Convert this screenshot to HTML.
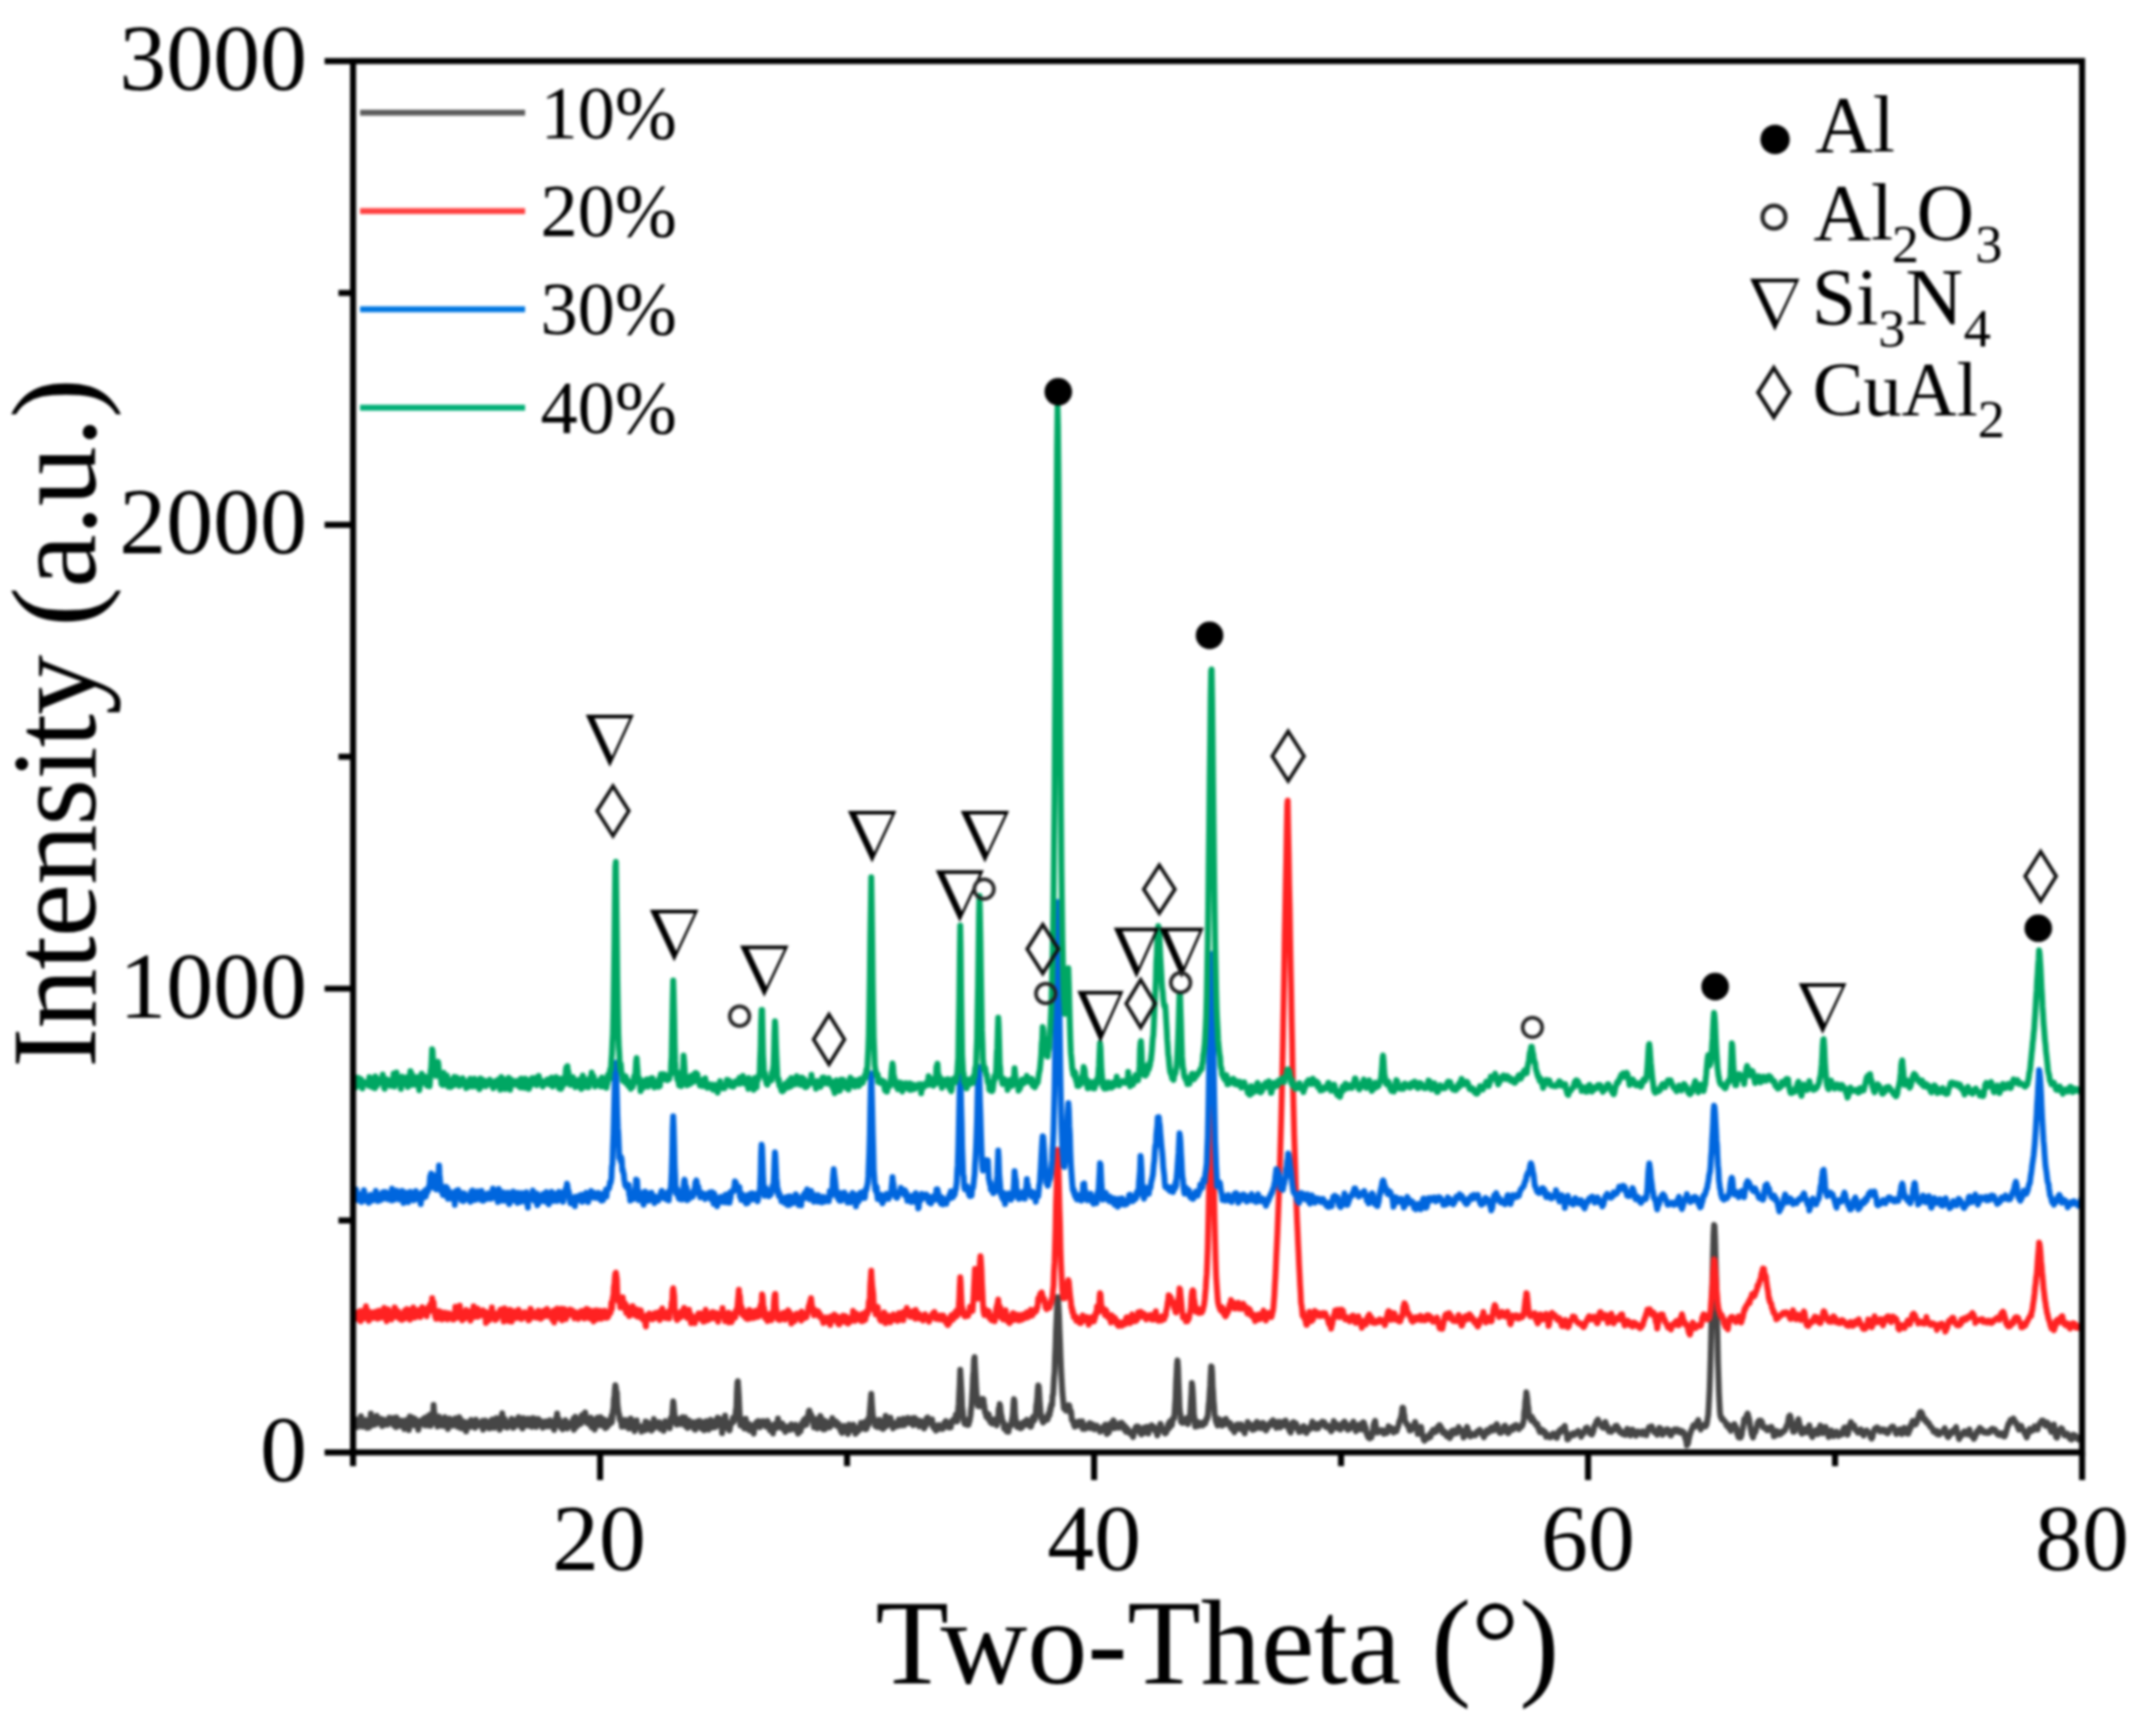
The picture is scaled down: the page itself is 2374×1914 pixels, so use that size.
<!DOCTYPE html>
<html lang="en"><head><meta charset="utf-8"><title>XRD patterns</title>
<style>html,body{margin:0;padding:0;background:#fff}body{width:2374px;height:1914px;overflow:hidden}svg{display:block;filter:blur(1.45px)}text{font-family:"Liberation Serif","DejaVu Serif",serif;fill:#000}.tk{font-size:103.5px}.ti{font-size:132.6px}.lg{font-size:82px}.ph{font-size:88px}.p4{font-size:84px}.sb{font-size:60px}</style></head><body>
<svg width="2374" height="1914" viewBox="0 0 2374 1914">
<rect x="0" y="0" width="2374" height="1914" fill="#fff"/>
<g id="curves">
<polyline fill="none" stroke="#464646" stroke-width="6.50" stroke-linejoin="round" stroke-linecap="butt" points="389.3,1573.9 389.8,1568.6 390.4,1566.3 390.9,1570.5 391.5,1572.5 392.0,1568.2 392.6,1566.5 393.1,1565.1 393.7,1572.6 394.2,1573.3 394.7,1567.7 395.3,1569.0 395.8,1565.5 396.4,1567.0 396.9,1570.1 397.5,1570.4 398.0,1561.6 398.6,1570.3 399.1,1571.8 399.6,1572.9 400.2,1569.2 400.7,1569.0 401.3,1570.5 401.8,1569.6 402.4,1568.5 402.9,1567.1 403.5,1565.7 404.0,1568.2 404.6,1574.2 405.1,1566.8 405.6,1573.4 406.2,1569.8 406.7,1574.0 407.3,1569.9 407.8,1571.8 408.4,1568.4 408.9,1558.6 409.5,1568.3 410.0,1565.2 410.5,1571.5 411.1,1568.5 411.6,1565.7 412.2,1568.0 412.7,1566.7 413.3,1567.6 413.8,1570.6 414.4,1565.5 414.9,1569.3 415.4,1560.9 416.0,1567.8 416.5,1564.2 417.1,1566.5 417.6,1563.9 418.2,1568.9 418.7,1564.2 419.3,1567.8 419.8,1564.2 420.3,1566.7 420.9,1568.8 421.4,1572.2 422.0,1568.1 422.5,1569.1 423.1,1565.1 423.6,1570.9 424.2,1567.6 424.7,1567.3 425.3,1567.5 425.8,1567.6 426.3,1567.4 426.9,1569.6 427.4,1570.7 428.0,1568.6 428.5,1565.5 429.1,1563.0 429.6,1564.8 430.2,1564.8 430.7,1565.9 431.2,1566.4 431.8,1568.1 432.3,1566.4 432.9,1563.5 433.4,1570.1 434.0,1571.3 434.5,1563.4 435.1,1568.8 435.6,1566.7 436.1,1567.2 436.7,1573.4 437.2,1562.7 437.8,1564.5 438.3,1569.2 438.9,1567.3 439.4,1569.0 440.0,1572.0 440.5,1569.7 441.0,1568.4 441.6,1566.4 442.1,1567.8 442.7,1570.0 443.2,1566.3 443.8,1572.6 444.3,1567.8 444.9,1566.8 445.4,1571.0 446.0,1575.5 446.5,1572.8 447.0,1569.4 447.6,1568.6 448.1,1565.6 448.7,1573.4 449.2,1570.4 449.8,1568.2 450.3,1570.3 450.9,1576.7 451.4,1566.7 451.9,1561.8 452.5,1565.8 453.0,1572.0 453.6,1570.9 454.1,1569.4 454.7,1562.9 455.2,1569.0 455.8,1570.3 456.3,1565.6 456.8,1570.4 457.4,1564.2 457.9,1571.7 458.5,1571.1 459.0,1567.8 459.6,1566.0 460.1,1568.6 460.7,1569.9 461.2,1576.5 461.7,1572.7 462.3,1571.9 462.8,1571.3 463.4,1567.4 463.9,1569.8 464.5,1566.0 465.0,1567.8 465.6,1568.7 466.1,1567.0 466.6,1565.8 467.2,1564.2 467.7,1568.4 468.3,1567.9 468.8,1571.5 469.4,1562.7 469.9,1563.3 470.5,1568.4 471.0,1569.2 471.6,1571.4 472.1,1567.1 472.6,1566.8 473.2,1560.5 473.7,1565.6 474.3,1567.9 474.8,1572.1 475.4,1559.3 475.9,1562.0 476.5,1566.5 477.0,1560.2 477.5,1565.0 478.1,1549.1 478.6,1556.5 479.2,1558.9 479.7,1562.2 480.3,1569.2 480.8,1564.2 481.4,1569.5 481.9,1563.8 482.4,1572.7 483.0,1569.3 483.5,1563.0 484.1,1561.9 484.6,1570.5 485.2,1571.6 485.7,1564.6 486.3,1564.9 486.8,1570.8 487.3,1570.2 487.9,1570.5 488.4,1572.2 489.0,1570.7 489.5,1564.9 490.1,1566.6 490.6,1562.4 491.2,1568.8 491.7,1569.4 492.3,1572.3 492.8,1570.0 493.3,1573.9 493.9,1575.5 494.4,1567.8 495.0,1564.9 495.5,1566.1 496.1,1564.0 496.6,1566.8 497.2,1569.3 497.7,1566.7 498.2,1568.0 498.8,1570.1 499.3,1571.8 499.9,1571.1 500.4,1566.8 501.0,1566.7 501.5,1569.1 502.1,1563.8 502.6,1568.0 503.1,1567.2 503.7,1564.7 504.2,1570.4 504.8,1573.3 505.3,1564.6 505.9,1568.4 506.4,1562.4 507.0,1565.8 507.5,1564.3 508.0,1565.5 508.6,1574.7 509.1,1566.6 509.7,1571.3 510.2,1571.9 510.8,1571.3 511.3,1568.0 511.9,1568.0 512.4,1567.8 513.0,1575.9 513.5,1572.7 514.0,1578.1 514.6,1571.2 515.1,1569.1 515.7,1573.2 516.2,1570.2 516.8,1570.2 517.3,1567.8 517.9,1573.3 518.4,1573.3 518.9,1573.1 519.5,1565.5 520.0,1567.4 520.6,1571.1 521.1,1570.0 521.7,1570.2 522.2,1569.9 522.8,1571.1 523.3,1571.4 523.8,1574.2 524.4,1572.3 524.9,1565.3 525.5,1568.5 526.0,1569.8 526.6,1570.5 527.1,1569.5 527.7,1568.6 528.2,1571.6 528.7,1569.0 529.3,1568.8 529.8,1571.8 530.4,1571.9 530.9,1572.4 531.5,1572.5 532.0,1566.5 532.6,1576.3 533.1,1569.9 533.6,1571.0 534.2,1571.1 534.7,1569.1 535.3,1566.1 535.8,1569.5 536.4,1570.4 536.9,1572.1 537.5,1571.0 538.0,1568.1 538.6,1572.3 539.1,1574.8 539.6,1574.8 540.2,1574.0 540.7,1574.5 541.3,1566.6 541.8,1568.5 542.4,1570.1 542.9,1565.0 543.5,1571.5 544.0,1567.2 544.5,1567.1 545.1,1574.3 545.6,1573.8 546.2,1571.3 546.7,1565.2 547.3,1563.5 547.8,1570.6 548.4,1563.8 548.9,1568.9 549.4,1569.7 550.0,1570.9 550.5,1571.0 551.1,1576.3 551.6,1572.9 552.2,1572.8 552.7,1566.6 553.3,1560.9 553.8,1558.1 554.3,1567.4 554.9,1572.6 555.4,1569.6 556.0,1572.2 556.5,1564.3 557.1,1569.6 557.6,1573.0 558.2,1567.4 558.7,1568.0 559.3,1574.0 559.8,1570.1 560.3,1568.9 560.9,1568.1 561.4,1567.8 562.0,1569.2 562.5,1567.6 563.1,1570.0 563.6,1571.3 564.2,1564.3 564.7,1568.0 565.2,1568.0 565.8,1574.3 566.3,1570.0 566.9,1566.9 567.4,1573.1 568.0,1565.8 568.5,1570.2 569.1,1567.8 569.6,1569.0 570.1,1567.5 570.7,1564.2 571.2,1568.8 571.8,1562.5 572.3,1569.8 572.9,1570.9 573.4,1566.5 574.0,1572.5 574.5,1570.9 575.0,1567.6 575.6,1566.4 576.1,1575.0 576.7,1567.9 577.2,1563.4 577.8,1565.2 578.3,1569.2 578.9,1570.2 579.4,1569.2 580.0,1571.6 580.5,1568.9 581.0,1568.6 581.6,1568.3 582.1,1564.2 582.7,1568.4 583.2,1571.9 583.8,1564.4 584.3,1571.0 584.9,1569.7 585.4,1569.4 585.9,1570.6 586.5,1573.1 587.0,1571.4 587.6,1563.5 588.1,1571.1 588.7,1569.0 589.2,1564.5 589.8,1564.8 590.3,1564.5 590.8,1564.5 591.4,1573.2 591.9,1570.3 592.5,1567.7 593.0,1567.1 593.6,1564.5 594.1,1566.8 594.7,1568.8 595.2,1567.9 595.7,1568.6 596.3,1567.6 596.8,1567.2 597.4,1571.0 597.9,1573.2 598.5,1574.1 599.0,1569.1 599.6,1567.9 600.1,1568.1 600.6,1567.9 601.2,1567.4 601.7,1569.2 602.3,1567.1 602.8,1572.5 603.4,1570.3 603.9,1572.2 604.5,1568.2 605.0,1572.4 605.6,1570.7 606.1,1569.0 606.6,1565.9 607.2,1572.0 607.7,1572.1 608.3,1567.0 608.8,1573.0 609.4,1568.8 609.9,1572.2 610.5,1571.1 611.0,1576.5 611.5,1568.6 612.1,1571.8 612.6,1572.5 613.2,1563.3 613.7,1566.8 614.3,1558.5 614.8,1567.7 615.4,1570.1 615.9,1569.0 616.4,1564.8 617.0,1569.8 617.5,1568.9 618.1,1569.2 618.6,1574.0 619.2,1571.5 619.7,1573.9 620.3,1575.8 620.8,1568.4 621.3,1567.9 621.9,1568.4 622.4,1570.1 623.0,1572.1 623.5,1565.7 624.1,1568.2 624.6,1573.7 625.2,1569.8 625.7,1574.9 626.3,1570.7 626.8,1569.9 627.3,1568.9 627.9,1568.9 628.4,1568.7 629.0,1572.2 629.5,1570.1 630.1,1570.6 630.6,1569.8 631.2,1568.4 631.7,1567.4 632.2,1564.3 632.8,1576.4 633.3,1567.6 633.9,1569.3 634.4,1562.0 635.0,1565.8 635.5,1573.2 636.1,1567.1 636.6,1569.6 637.1,1565.1 637.7,1570.9 638.2,1567.8 638.8,1567.2 639.3,1566.5 639.9,1567.1 640.4,1569.9 641.0,1562.4 641.5,1560.3 642.0,1562.8 642.6,1565.0 643.1,1561.1 643.7,1559.6 644.2,1561.5 644.8,1561.1 645.3,1557.3 645.9,1565.0 646.4,1563.9 646.9,1568.3 647.5,1566.1 648.0,1567.5 648.6,1569.5 649.1,1570.0 649.7,1564.2 650.2,1570.5 650.8,1570.0 651.3,1563.1 651.9,1569.2 652.4,1573.6 652.9,1567.0 653.5,1571.7 654.0,1565.1 654.6,1574.0 655.1,1572.8 655.7,1576.3 656.2,1571.2 656.8,1573.1 657.3,1569.2 657.8,1568.9 658.4,1568.5 658.9,1562.9 659.5,1563.6 660.0,1566.7 660.6,1570.2 661.1,1571.3 661.7,1568.2 662.2,1562.5 662.7,1570.5 663.3,1571.3 663.8,1570.9 664.4,1571.8 664.9,1571.3 665.5,1569.4 666.0,1565.1 666.6,1569.5 667.1,1571.2 667.6,1574.6 668.2,1569.5 668.7,1570.0 669.3,1573.3 669.8,1572.7 670.4,1569.5 670.9,1566.3 671.5,1567.4 672.0,1568.5 672.6,1569.9 673.1,1567.8 673.6,1568.3 674.2,1560.9 674.7,1568.1 675.3,1563.2 675.8,1554.9 676.4,1554.0 676.9,1542.4 677.5,1539.8 678.0,1531.9 678.5,1527.3 679.1,1530.0 679.6,1535.9 680.2,1535.1 680.7,1546.7 681.3,1552.6 681.8,1555.8 682.4,1559.4 682.9,1559.7 683.4,1565.2 684.0,1566.5 684.5,1564.4 685.1,1569.2 685.6,1572.9 686.2,1570.4 686.7,1571.3 687.3,1568.1 687.8,1571.8 688.3,1572.7 688.9,1570.7 689.4,1565.6 690.0,1570.3 690.5,1569.8 691.1,1570.4 691.6,1569.7 692.2,1568.0 692.7,1566.6 693.3,1575.0 693.8,1566.6 694.3,1570.4 694.9,1571.2 695.4,1563.9 696.0,1571.3 696.5,1565.7 697.1,1568.8 697.6,1574.8 698.2,1570.7 698.7,1569.8 699.2,1572.1 699.8,1578.0 700.3,1572.2 700.9,1571.5 701.4,1574.0 702.0,1565.9 702.5,1571.6 703.1,1572.0 703.6,1571.7 704.1,1573.4 704.7,1574.1 705.2,1572.4 705.8,1572.5 706.3,1575.5 706.9,1575.1 707.4,1578.4 708.0,1572.7 708.5,1575.9 709.0,1572.9 709.6,1575.7 710.1,1574.6 710.7,1572.9 711.2,1577.1 711.8,1567.3 712.3,1574.5 712.9,1574.9 713.4,1576.0 713.9,1568.8 714.5,1568.6 715.0,1570.8 715.6,1574.7 716.1,1572.3 716.7,1570.0 717.2,1573.9 717.8,1576.5 718.3,1577.3 718.9,1576.9 719.4,1574.1 719.9,1575.3 720.5,1572.8 721.0,1564.6 721.6,1566.7 722.1,1574.1 722.7,1570.3 723.2,1571.0 723.8,1571.7 724.3,1568.5 724.8,1572.3 725.4,1572.3 725.9,1572.4 726.5,1571.7 727.0,1568.0 727.6,1569.4 728.1,1575.5 728.7,1573.7 729.2,1575.3 729.7,1571.5 730.3,1573.7 730.8,1572.5 731.4,1573.9 731.9,1577.6 732.5,1569.8 733.0,1569.0 733.6,1566.8 734.1,1571.2 734.6,1567.8 735.2,1570.3 735.7,1570.7 736.3,1568.2 736.8,1568.7 737.4,1571.5 737.9,1573.2 738.5,1574.7 739.0,1568.9 739.6,1563.4 740.1,1565.1 740.6,1568.6 741.2,1560.9 741.7,1552.5 742.3,1545.0 742.8,1548.5 743.4,1556.0 743.9,1561.2 744.5,1567.9 745.0,1568.2 745.5,1569.0 746.1,1570.6 746.6,1568.3 747.2,1569.4 747.7,1567.3 748.3,1564.4 748.8,1566.3 749.4,1566.3 749.9,1567.4 750.4,1570.3 751.0,1566.1 751.5,1563.9 752.1,1568.1 752.6,1562.5 753.2,1567.2 753.7,1565.7 754.3,1567.9 754.8,1570.5 755.3,1562.7 755.9,1572.4 756.4,1567.8 757.0,1572.6 757.5,1571.3 758.1,1574.4 758.6,1573.0 759.2,1569.1 759.7,1566.0 760.3,1573.2 760.8,1570.8 761.3,1568.1 761.9,1572.2 762.4,1568.5 763.0,1572.4 763.5,1568.7 764.1,1569.4 764.6,1568.1 765.2,1570.9 765.7,1575.6 766.2,1571.2 766.8,1576.3 767.3,1570.8 767.9,1568.2 768.4,1570.0 769.0,1572.3 769.5,1567.0 770.1,1569.4 770.6,1573.3 771.1,1571.0 771.7,1566.4 772.2,1571.1 772.8,1570.1 773.3,1571.5 773.9,1575.3 774.4,1572.4 775.0,1570.4 775.5,1571.0 776.0,1572.0 776.6,1576.9 777.1,1567.8 777.7,1568.9 778.2,1567.8 778.8,1566.8 779.3,1571.7 779.9,1572.5 780.4,1570.4 780.9,1567.1 781.5,1576.2 782.0,1572.1 782.6,1572.6 783.1,1568.5 783.7,1565.4 784.2,1569.3 784.8,1571.1 785.3,1568.4 785.9,1570.0 786.4,1573.9 786.9,1568.2 787.5,1572.5 788.0,1569.2 788.6,1573.6 789.1,1566.5 789.7,1572.3 790.2,1565.0 790.8,1571.7 791.3,1562.9 791.8,1567.1 792.4,1569.7 792.9,1565.9 793.5,1564.0 794.0,1568.1 794.6,1568.4 795.1,1568.1 795.7,1570.9 796.2,1580.1 796.7,1574.8 797.3,1571.3 797.8,1570.3 798.4,1567.2 798.9,1570.4 799.5,1560.7 800.0,1565.2 800.6,1567.8 801.1,1567.0 801.6,1568.6 802.2,1572.1 802.7,1575.3 803.3,1570.5 803.8,1571.6 804.4,1577.2 804.9,1574.6 805.5,1570.1 806.0,1570.4 806.6,1569.3 807.1,1567.5 807.6,1568.0 808.2,1563.3 808.7,1567.8 809.3,1567.1 809.8,1564.7 810.4,1562.5 810.9,1560.3 811.5,1554.2 812.0,1551.3 812.5,1535.2 813.1,1524.1 813.6,1522.8 814.2,1531.7 814.7,1539.4 815.3,1553.3 815.8,1563.0 816.4,1571.6 816.9,1569.3 817.4,1570.5 818.0,1569.4 818.5,1564.4 819.1,1568.9 819.6,1570.4 820.2,1574.0 820.7,1574.9 821.3,1572.5 821.8,1573.2 822.3,1564.3 822.9,1573.0 823.4,1573.5 824.0,1569.2 824.5,1572.2 825.1,1575.9 825.6,1569.8 826.2,1574.2 826.7,1577.1 827.3,1572.9 827.8,1572.5 828.3,1574.7 828.9,1572.0 829.4,1571.7 830.0,1576.1 830.5,1579.4 831.1,1580.6 831.6,1575.2 832.2,1572.0 832.7,1572.9 833.2,1570.7 833.8,1568.3 834.3,1571.6 834.9,1567.7 835.4,1572.9 836.0,1566.8 836.5,1568.1 837.1,1569.9 837.6,1571.3 838.1,1573.6 838.7,1571.0 839.2,1567.3 839.8,1570.6 840.3,1567.6 840.9,1569.9 841.4,1566.9 842.0,1570.0 842.5,1567.1 843.0,1569.1 843.6,1568.3 844.1,1571.1 844.7,1573.0 845.2,1571.0 845.8,1567.7 846.3,1566.5 846.9,1571.6 847.4,1569.0 847.9,1569.6 848.5,1571.3 849.0,1577.0 849.6,1573.0 850.1,1577.0 850.7,1572.3 851.2,1572.9 851.8,1572.9 852.3,1580.4 852.9,1572.0 853.4,1571.3 853.9,1575.9 854.5,1570.0 855.0,1571.9 855.6,1572.4 856.1,1573.5 856.7,1574.1 857.2,1572.7 857.8,1564.0 858.3,1571.2 858.8,1571.1 859.4,1573.2 859.9,1573.1 860.5,1572.9 861.0,1573.7 861.6,1569.3 862.1,1572.2 862.7,1569.4 863.2,1575.3 863.7,1571.0 864.3,1574.4 864.8,1573.7 865.4,1576.6 865.9,1578.8 866.5,1573.1 867.0,1576.6 867.6,1575.3 868.1,1576.4 868.6,1573.0 869.2,1574.4 869.7,1572.7 870.3,1572.4 870.8,1574.8 871.4,1576.4 871.9,1571.7 872.5,1570.5 873.0,1571.1 873.6,1575.6 874.1,1571.4 874.6,1572.0 875.2,1572.2 875.7,1571.9 876.3,1573.8 876.8,1572.6 877.4,1570.9 877.9,1574.8 878.5,1577.8 879.0,1575.2 879.5,1575.0 880.1,1580.6 880.6,1578.2 881.2,1574.7 881.7,1576.1 882.3,1575.1 882.8,1578.0 883.4,1572.2 883.9,1569.3 884.4,1572.8 885.0,1572.8 885.5,1572.5 886.1,1566.1 886.6,1566.5 887.2,1569.0 887.7,1564.3 888.3,1565.3 888.8,1565.5 889.3,1570.8 889.9,1565.6 890.4,1562.0 891.0,1564.7 891.5,1557.8 892.1,1555.2 892.6,1555.3 893.2,1560.4 893.7,1561.7 894.3,1559.3 894.8,1560.8 895.3,1562.0 895.9,1563.5 896.4,1567.8 897.0,1569.4 897.5,1573.6 898.1,1567.7 898.6,1564.4 899.2,1571.6 899.7,1572.0 900.2,1569.6 900.8,1570.5 901.3,1574.9 901.9,1572.9 902.4,1572.7 903.0,1564.0 903.5,1569.5 904.1,1564.7 904.6,1561.1 905.1,1562.6 905.7,1565.3 906.2,1566.4 906.8,1574.9 907.3,1574.5 907.9,1575.9 908.4,1574.1 909.0,1566.3 909.5,1575.8 910.0,1569.5 910.6,1572.9 911.1,1567.5 911.7,1568.3 912.2,1573.4 912.8,1567.9 913.3,1573.3 913.9,1570.4 914.4,1572.2 914.9,1573.7 915.5,1572.8 916.0,1571.7 916.6,1569.5 917.1,1569.8 917.7,1563.5 918.2,1568.6 918.8,1568.2 919.3,1567.8 919.9,1567.9 920.4,1570.5 920.9,1570.4 921.5,1567.0 922.0,1570.1 922.6,1571.8 923.1,1570.6 923.7,1569.0 924.2,1570.2 924.8,1569.9 925.3,1573.2 925.8,1573.3 926.4,1575.9 926.9,1575.7 927.5,1578.7 928.0,1579.0 928.6,1579.9 929.1,1578.9 929.7,1577.9 930.2,1577.3 930.7,1571.9 931.3,1574.8 931.8,1575.8 932.4,1573.0 932.9,1576.0 933.5,1576.0 934.0,1573.3 934.6,1577.5 935.1,1581.0 935.6,1572.6 936.2,1570.7 936.7,1576.8 937.3,1574.8 937.8,1571.1 938.4,1577.0 938.9,1574.3 939.5,1575.0 940.0,1572.6 940.6,1576.7 941.1,1570.7 941.6,1573.8 942.2,1573.6 942.7,1575.8 943.3,1580.8 943.8,1576.7 944.4,1579.6 944.9,1576.5 945.5,1578.6 946.0,1577.3 946.5,1577.0 947.1,1573.8 947.6,1573.0 948.2,1576.3 948.7,1573.1 949.3,1568.8 949.8,1570.8 950.4,1574.0 950.9,1573.0 951.4,1573.8 952.0,1571.2 952.5,1573.6 953.1,1572.4 953.6,1567.8 954.2,1575.7 954.7,1574.3 955.3,1575.5 955.8,1574.4 956.3,1567.9 956.9,1568.2 957.4,1563.9 958.0,1570.5 958.5,1565.2 959.1,1555.5 959.6,1549.8 960.2,1542.2 960.7,1536.8 961.2,1544.8 961.8,1553.1 962.3,1559.8 962.9,1562.3 963.4,1567.0 964.0,1567.1 964.5,1565.2 965.1,1572.2 965.6,1572.3 966.2,1570.1 966.7,1572.8 967.2,1573.2 967.8,1568.2 968.3,1571.6 968.9,1573.1 969.4,1569.1 970.0,1565.4 970.5,1573.2 971.1,1573.0 971.6,1572.1 972.1,1574.7 972.7,1569.1 973.2,1573.7 973.8,1575.5 974.3,1571.8 974.9,1573.2 975.4,1571.1 976.0,1567.8 976.5,1561.0 977.0,1572.7 977.6,1567.8 978.1,1566.8 978.7,1569.2 979.2,1567.6 979.8,1570.8 980.3,1570.2 980.9,1569.5 981.4,1569.9 981.9,1562.9 982.5,1568.1 983.0,1566.8 983.6,1568.8 984.1,1570.5 984.7,1574.9 985.2,1571.8 985.8,1571.2 986.3,1571.0 986.9,1569.4 987.4,1571.5 987.9,1572.4 988.5,1570.1 989.0,1568.6 989.6,1571.5 990.1,1572.2 990.7,1570.4 991.2,1565.1 991.8,1565.2 992.3,1570.0 992.8,1568.3 993.4,1567.2 993.9,1566.7 994.5,1571.6 995.0,1570.6 995.6,1566.7 996.1,1564.1 996.7,1565.7 997.2,1571.3 997.7,1567.4 998.3,1568.8 998.8,1568.0 999.4,1569.2 999.9,1568.6 1000.5,1567.5 1001.0,1563.2 1001.6,1565.6 1002.1,1566.2 1002.6,1567.1 1003.2,1569.0 1003.7,1568.0 1004.3,1565.0 1004.8,1566.2 1005.4,1563.8 1005.9,1567.7 1006.5,1568.2 1007.0,1571.4 1007.6,1566.5 1008.1,1570.8 1008.6,1563.2 1009.2,1567.5 1009.7,1566.0 1010.3,1569.4 1010.8,1568.1 1011.4,1569.7 1011.9,1565.8 1012.5,1568.6 1013.0,1571.4 1013.5,1572.7 1014.1,1568.3 1014.6,1569.0 1015.2,1570.2 1015.7,1566.7 1016.3,1569.4 1016.8,1569.6 1017.4,1571.9 1017.9,1572.7 1018.4,1573.2 1019.0,1575.0 1019.5,1569.2 1020.1,1568.7 1020.6,1572.3 1021.2,1567.1 1021.7,1563.9 1022.3,1565.5 1022.8,1562.7 1023.3,1565.7 1023.9,1564.8 1024.4,1567.4 1025.0,1566.8 1025.5,1569.1 1026.1,1567.4 1026.6,1565.3 1027.2,1565.1 1027.7,1564.8 1028.2,1568.9 1028.8,1573.1 1029.3,1571.8 1029.9,1574.7 1030.4,1572.2 1031.0,1571.4 1031.5,1573.1 1032.1,1577.3 1032.6,1575.5 1033.2,1573.4 1033.7,1575.1 1034.2,1572.2 1034.8,1571.7 1035.3,1571.2 1035.9,1572.4 1036.4,1574.7 1037.0,1575.4 1037.5,1574.6 1038.1,1572.2 1038.6,1572.4 1039.1,1574.5 1039.7,1575.4 1040.2,1573.2 1040.8,1571.4 1041.3,1568.8 1041.9,1568.2 1042.4,1571.7 1043.0,1566.8 1043.5,1568.3 1044.0,1570.5 1044.6,1568.6 1045.1,1569.4 1045.7,1570.3 1046.2,1573.8 1046.8,1569.9 1047.3,1569.0 1047.9,1570.3 1048.4,1573.7 1048.9,1568.3 1049.5,1566.8 1050.0,1567.0 1050.6,1565.6 1051.1,1566.3 1051.7,1566.8 1052.2,1564.9 1052.8,1567.2 1053.3,1566.4 1053.9,1559.8 1054.4,1565.1 1054.9,1565.3 1055.5,1567.2 1056.0,1560.2 1056.6,1553.1 1057.1,1547.5 1057.7,1534.6 1058.2,1525.9 1058.8,1510.2 1059.3,1518.5 1059.8,1527.4 1060.4,1537.7 1060.9,1551.0 1061.5,1555.5 1062.0,1561.5 1062.6,1565.4 1063.1,1567.6 1063.7,1569.9 1064.2,1565.7 1064.7,1566.6 1065.3,1570.4 1065.8,1566.1 1066.4,1568.8 1066.9,1571.0 1067.5,1565.6 1068.0,1571.0 1068.6,1565.6 1069.1,1567.1 1069.6,1563.6 1070.2,1560.6 1070.7,1554.3 1071.3,1549.4 1071.8,1540.5 1072.4,1530.9 1072.9,1518.7 1073.5,1511.2 1074.0,1499.3 1074.6,1496.2 1075.1,1507.0 1075.6,1515.8 1076.2,1527.6 1076.7,1535.6 1077.3,1541.0 1077.8,1546.7 1078.4,1550.3 1078.9,1549.5 1079.5,1549.1 1080.0,1548.2 1080.5,1546.4 1081.1,1550.5 1081.6,1542.5 1082.2,1544.6 1082.7,1544.8 1083.3,1543.1 1083.8,1542.3 1084.4,1542.8 1084.9,1548.1 1085.4,1549.9 1086.0,1556.6 1086.5,1555.9 1087.1,1559.5 1087.6,1562.0 1088.2,1559.9 1088.7,1558.5 1089.3,1560.4 1089.8,1564.3 1090.3,1559.4 1090.9,1564.7 1091.4,1565.5 1092.0,1568.0 1092.5,1567.1 1093.1,1568.1 1093.6,1569.4 1094.2,1569.6 1094.7,1568.9 1095.2,1568.7 1095.8,1565.0 1096.3,1567.1 1096.9,1567.2 1097.4,1568.1 1098.0,1569.8 1098.5,1569.0 1099.1,1571.5 1099.6,1566.2 1100.2,1563.0 1100.7,1561.1 1101.2,1553.1 1101.8,1553.9 1102.3,1548.0 1102.9,1550.3 1103.4,1556.3 1104.0,1560.0 1104.5,1561.6 1105.1,1566.5 1105.6,1568.2 1106.1,1567.2 1106.7,1570.5 1107.2,1575.0 1107.8,1573.5 1108.3,1570.7 1108.9,1573.4 1109.4,1576.0 1110.0,1578.3 1110.5,1574.1 1111.0,1572.0 1111.6,1577.4 1112.1,1578.5 1112.7,1572.3 1113.2,1573.5 1113.8,1572.1 1114.3,1571.2 1114.9,1571.7 1115.4,1567.9 1115.9,1564.8 1116.5,1561.9 1117.0,1557.2 1117.6,1546.1 1118.1,1542.6 1118.7,1545.8 1119.2,1558.3 1119.8,1563.8 1120.3,1569.8 1120.9,1570.4 1121.4,1573.2 1121.9,1572.0 1122.5,1573.4 1123.0,1569.7 1123.6,1569.6 1124.1,1569.5 1124.7,1572.8 1125.2,1574.8 1125.8,1572.8 1126.3,1573.4 1126.8,1574.0 1127.4,1570.7 1127.9,1569.4 1128.5,1569.9 1129.0,1567.9 1129.6,1568.7 1130.1,1571.0 1130.7,1569.7 1131.2,1568.8 1131.7,1566.3 1132.3,1565.5 1132.8,1567.8 1133.4,1566.8 1133.9,1571.2 1134.5,1570.6 1135.0,1568.2 1135.6,1570.3 1136.1,1568.2 1136.6,1573.1 1137.2,1571.7 1137.7,1569.1 1138.3,1564.2 1138.8,1562.6 1139.4,1566.6 1139.9,1566.7 1140.5,1566.0 1141.0,1564.6 1141.6,1559.9 1142.1,1558.8 1142.6,1550.1 1143.2,1546.2 1143.7,1541.4 1144.3,1532.0 1144.8,1527.4 1145.4,1528.6 1145.9,1535.9 1146.5,1546.9 1147.0,1552.1 1147.5,1558.4 1148.1,1563.2 1148.6,1564.7 1149.2,1565.0 1149.7,1567.5 1150.3,1568.4 1150.8,1564.1 1151.4,1565.8 1151.9,1566.2 1152.4,1563.2 1153.0,1566.0 1153.5,1562.5 1154.1,1565.0 1154.6,1562.8 1155.2,1565.0 1155.7,1562.3 1156.3,1558.3 1156.8,1559.5 1157.3,1560.3 1157.9,1552.9 1158.4,1555.4 1159.0,1548.7 1159.5,1550.0 1160.1,1549.0 1160.6,1538.7 1161.2,1537.9 1161.7,1528.8 1162.2,1519.5 1162.8,1512.8 1163.3,1497.1 1163.9,1484.2 1164.4,1467.4 1165.0,1454.7 1165.5,1443.9 1166.1,1430.2 1166.6,1430.2 1167.2,1440.8 1167.7,1450.3 1168.2,1465.0 1168.8,1479.7 1169.3,1493.9 1169.9,1507.9 1170.4,1517.6 1171.0,1528.2 1171.5,1536.1 1172.1,1541.9 1172.6,1547.2 1173.1,1552.6 1173.7,1550.4 1174.2,1550.2 1174.8,1554.1 1175.3,1555.3 1175.9,1554.5 1176.4,1551.2 1177.0,1551.4 1177.5,1552.2 1178.0,1549.2 1178.6,1549.4 1179.1,1549.9 1179.7,1554.1 1180.2,1557.4 1180.8,1555.6 1181.3,1558.7 1181.9,1565.7 1182.4,1566.2 1182.9,1566.3 1183.5,1567.4 1184.0,1570.6 1184.6,1567.4 1185.1,1572.9 1185.7,1569.4 1186.2,1570.0 1186.8,1571.3 1187.3,1571.2 1187.9,1569.1 1188.4,1568.2 1188.9,1571.6 1189.5,1569.9 1190.0,1567.1 1190.6,1568.7 1191.1,1569.8 1191.7,1571.3 1192.2,1571.3 1192.8,1572.5 1193.3,1567.0 1193.8,1575.4 1194.4,1571.2 1194.9,1574.1 1195.5,1574.9 1196.0,1574.6 1196.6,1575.4 1197.1,1571.5 1197.7,1573.3 1198.2,1574.2 1198.7,1573.4 1199.3,1571.9 1199.8,1573.6 1200.4,1571.4 1200.9,1571.3 1201.5,1569.0 1202.0,1569.6 1202.6,1574.6 1203.1,1571.9 1203.6,1570.0 1204.2,1574.3 1204.7,1574.5 1205.3,1570.8 1205.8,1573.2 1206.4,1574.1 1206.9,1575.8 1207.5,1573.3 1208.0,1574.6 1208.6,1573.0 1209.1,1572.6 1209.6,1572.0 1210.2,1573.8 1210.7,1575.1 1211.3,1575.0 1211.8,1576.1 1212.4,1576.4 1212.9,1578.4 1213.5,1578.0 1214.0,1578.2 1214.5,1577.8 1215.1,1576.1 1215.6,1573.9 1216.2,1576.7 1216.7,1573.8 1217.3,1573.4 1217.8,1572.9 1218.4,1571.1 1218.9,1572.5 1219.4,1570.7 1220.0,1572.7 1220.5,1581.0 1221.1,1575.5 1221.6,1576.5 1222.2,1575.6 1222.7,1579.5 1223.3,1575.9 1223.8,1574.0 1224.3,1574.8 1224.9,1569.3 1225.4,1569.8 1226.0,1571.9 1226.5,1572.5 1227.1,1571.0 1227.6,1565.9 1228.2,1566.4 1228.7,1574.8 1229.2,1573.8 1229.8,1569.6 1230.3,1571.2 1230.9,1572.5 1231.4,1570.5 1232.0,1571.6 1232.5,1571.5 1233.1,1571.7 1233.6,1574.2 1234.2,1569.9 1234.7,1572.5 1235.2,1569.1 1235.8,1569.2 1236.3,1569.7 1236.9,1568.8 1237.4,1569.2 1238.0,1573.3 1238.5,1571.6 1239.1,1571.2 1239.6,1575.8 1240.1,1576.5 1240.7,1572.6 1241.2,1573.7 1241.8,1578.5 1242.3,1575.4 1242.9,1576.8 1243.4,1575.4 1244.0,1578.1 1244.5,1578.3 1245.0,1579.6 1245.6,1578.4 1246.1,1579.4 1246.7,1580.7 1247.2,1580.6 1247.8,1581.9 1248.3,1580.1 1248.9,1583.7 1249.4,1584.4 1249.9,1582.2 1250.5,1577.4 1251.0,1578.9 1251.6,1575.5 1252.1,1573.9 1252.7,1575.6 1253.2,1572.8 1253.8,1572.7 1254.3,1573.2 1254.9,1573.9 1255.4,1573.3 1255.9,1577.1 1256.5,1577.0 1257.0,1579.2 1257.6,1579.0 1258.1,1580.9 1258.7,1581.4 1259.2,1577.6 1259.8,1575.8 1260.3,1576.5 1260.8,1576.6 1261.4,1574.1 1261.9,1579.7 1262.5,1577.0 1263.0,1575.5 1263.6,1573.6 1264.1,1578.9 1264.7,1574.7 1265.2,1573.0 1265.7,1573.5 1266.3,1580.5 1266.8,1574.2 1267.4,1575.4 1267.9,1573.6 1268.5,1575.3 1269.0,1575.7 1269.6,1574.8 1270.1,1571.4 1270.6,1572.7 1271.2,1574.9 1271.7,1573.9 1272.3,1573.3 1272.8,1574.0 1273.4,1575.7 1273.9,1577.6 1274.5,1578.6 1275.0,1579.0 1275.6,1580.0 1276.1,1582.6 1276.6,1580.9 1277.2,1575.6 1277.7,1577.6 1278.3,1576.5 1278.8,1572.8 1279.4,1569.7 1279.9,1570.3 1280.5,1573.6 1281.0,1575.1 1281.5,1574.6 1282.1,1575.8 1282.6,1576.3 1283.2,1575.6 1283.7,1579.5 1284.3,1580.2 1284.8,1580.5 1285.4,1579.9 1285.9,1579.5 1286.4,1577.8 1287.0,1576.7 1287.5,1574.2 1288.1,1570.2 1288.6,1570.8 1289.2,1574.8 1289.7,1567.5 1290.3,1567.6 1290.8,1567.8 1291.3,1566.4 1291.9,1571.7 1292.4,1569.7 1293.0,1565.1 1293.5,1563.4 1294.1,1562.9 1294.6,1564.0 1295.2,1557.4 1295.7,1548.7 1296.2,1542.0 1296.8,1524.0 1297.3,1515.4 1297.9,1503.1 1298.4,1499.9 1299.0,1508.2 1299.5,1523.7 1300.1,1537.3 1300.6,1551.7 1301.2,1557.6 1301.7,1559.6 1302.2,1567.6 1302.8,1566.6 1303.3,1567.1 1303.9,1568.8 1304.4,1568.2 1305.0,1565.0 1305.5,1564.9 1306.1,1565.1 1306.6,1565.9 1307.1,1568.4 1307.7,1566.4 1308.2,1563.5 1308.8,1564.7 1309.3,1568.8 1309.9,1570.1 1310.4,1567.7 1311.0,1565.8 1311.5,1565.8 1312.0,1562.8 1312.6,1555.8 1313.1,1546.1 1313.7,1536.4 1314.2,1524.8 1314.8,1529.0 1315.3,1535.7 1315.9,1547.2 1316.4,1559.8 1316.9,1561.6 1317.5,1570.5 1318.0,1573.0 1318.6,1566.4 1319.1,1568.8 1319.7,1570.2 1320.2,1568.4 1320.8,1568.5 1321.3,1572.3 1321.9,1569.8 1322.4,1568.4 1322.9,1571.0 1323.5,1570.6 1324.0,1571.3 1324.6,1569.2 1325.1,1571.1 1325.7,1570.9 1326.2,1571.5 1326.8,1570.6 1327.3,1568.3 1327.8,1567.7 1328.4,1568.9 1328.9,1569.6 1329.5,1566.9 1330.0,1566.3 1330.6,1563.2 1331.1,1564.2 1331.7,1561.4 1332.2,1556.0 1332.7,1548.9 1333.3,1544.5 1333.8,1535.9 1334.4,1527.5 1334.9,1516.7 1335.5,1506.6 1336.0,1506.8 1336.6,1514.2 1337.1,1528.5 1337.6,1534.3 1338.2,1545.8 1338.7,1549.9 1339.3,1560.3 1339.8,1561.3 1340.4,1566.1 1340.9,1565.4 1341.5,1569.6 1342.0,1569.8 1342.6,1571.7 1343.1,1566.8 1343.6,1569.6 1344.2,1564.6 1344.7,1567.2 1345.3,1567.9 1345.8,1565.9 1346.4,1568.9 1346.9,1569.2 1347.5,1571.9 1348.0,1570.8 1348.5,1569.1 1349.1,1569.5 1349.6,1566.9 1350.2,1570.5 1350.7,1564.9 1351.3,1567.1 1351.8,1564.3 1352.4,1567.6 1352.9,1568.6 1353.4,1568.7 1354.0,1567.9 1354.5,1568.0 1355.1,1570.2 1355.6,1571.3 1356.2,1569.7 1356.7,1569.3 1357.3,1574.4 1357.8,1574.7 1358.3,1575.5 1358.9,1573.0 1359.4,1575.1 1360.0,1577.1 1360.5,1577.1 1361.1,1579.2 1361.6,1574.9 1362.2,1576.7 1362.7,1576.4 1363.2,1571.2 1363.8,1575.8 1364.3,1570.5 1364.9,1571.6 1365.4,1572.8 1366.0,1570.5 1366.5,1572.7 1367.1,1571.8 1367.6,1573.9 1368.2,1575.7 1368.7,1570.5 1369.2,1576.1 1369.8,1573.9 1370.3,1575.7 1370.9,1574.6 1371.4,1577.6 1372.0,1577.0 1372.5,1580.3 1373.1,1573.2 1373.6,1573.7 1374.1,1575.7 1374.7,1571.9 1375.2,1571.8 1375.8,1567.7 1376.3,1571.6 1376.9,1570.2 1377.4,1570.5 1378.0,1570.1 1378.5,1571.9 1379.0,1573.1 1379.6,1572.0 1380.1,1571.8 1380.7,1576.3 1381.2,1576.5 1381.8,1574.4 1382.3,1571.2 1382.9,1573.9 1383.4,1575.8 1383.9,1571.4 1384.5,1571.1 1385.0,1568.8 1385.6,1571.0 1386.1,1567.6 1386.7,1571.2 1387.2,1568.8 1387.8,1570.9 1388.3,1573.9 1388.9,1573.6 1389.4,1572.2 1389.9,1573.7 1390.5,1574.6 1391.0,1571.0 1391.6,1570.0 1392.1,1568.9 1392.7,1568.7 1393.2,1569.0 1393.8,1572.3 1394.3,1572.7 1394.8,1573.9 1395.4,1576.6 1395.9,1577.1 1396.5,1575.3 1397.0,1574.2 1397.6,1571.8 1398.1,1574.0 1398.7,1572.0 1399.2,1570.3 1399.7,1571.0 1400.3,1569.6 1400.8,1570.6 1401.4,1567.7 1401.9,1569.5 1402.5,1570.7 1403.0,1567.5 1403.6,1565.8 1404.1,1571.0 1404.6,1567.9 1405.2,1567.9 1405.7,1567.5 1406.3,1567.7 1406.8,1571.3 1407.4,1574.4 1407.9,1572.1 1408.5,1571.1 1409.0,1571.6 1409.5,1571.8 1410.1,1572.9 1410.6,1567.6 1411.2,1573.1 1411.7,1573.7 1412.3,1570.0 1412.8,1571.2 1413.4,1570.9 1413.9,1571.8 1414.5,1568.8 1415.0,1568.2 1415.5,1570.2 1416.1,1567.0 1416.6,1569.3 1417.2,1570.0 1417.7,1566.3 1418.3,1569.4 1418.8,1572.6 1419.4,1570.0 1419.9,1571.6 1420.4,1571.5 1421.0,1573.9 1421.5,1576.5 1422.1,1577.9 1422.6,1577.1 1423.2,1579.5 1423.7,1576.2 1424.3,1576.1 1424.8,1572.3 1425.3,1568.6 1425.9,1568.8 1426.4,1567.9 1427.0,1568.8 1427.5,1570.9 1428.1,1569.9 1428.6,1569.4 1429.2,1569.6 1429.7,1572.7 1430.2,1572.3 1430.8,1575.8 1431.3,1576.0 1431.9,1577.4 1432.4,1578.8 1433.0,1575.3 1433.5,1576.4 1434.1,1575.8 1434.6,1575.6 1435.2,1578.2 1435.7,1576.8 1436.2,1575.6 1436.8,1572.5 1437.3,1574.5 1437.9,1572.4 1438.4,1575.7 1439.0,1576.3 1439.5,1576.6 1440.1,1575.2 1440.6,1580.0 1441.1,1578.0 1441.7,1576.7 1442.2,1576.6 1442.8,1576.3 1443.3,1574.6 1443.9,1574.8 1444.4,1575.9 1445.0,1572.7 1445.5,1573.9 1446.0,1572.4 1446.6,1569.0 1447.1,1567.3 1447.7,1569.3 1448.2,1571.3 1448.8,1573.6 1449.3,1574.1 1449.9,1571.2 1450.4,1572.9 1450.9,1575.1 1451.5,1570.5 1452.0,1571.6 1452.6,1570.2 1453.1,1571.3 1453.7,1574.9 1454.2,1572.7 1454.8,1571.7 1455.3,1571.6 1455.9,1569.2 1456.4,1571.2 1456.9,1569.3 1457.5,1568.2 1458.0,1567.3 1458.6,1567.6 1459.1,1567.9 1459.7,1571.0 1460.2,1568.0 1460.8,1569.9 1461.3,1570.5 1461.8,1573.3 1462.4,1571.9 1462.9,1573.4 1463.5,1573.6 1464.0,1572.0 1464.6,1571.8 1465.1,1572.5 1465.7,1574.3 1466.2,1575.6 1466.7,1573.9 1467.3,1574.8 1467.8,1578.1 1468.4,1577.5 1468.9,1574.1 1469.5,1572.7 1470.0,1572.9 1470.6,1566.8 1471.1,1572.4 1471.6,1571.1 1472.2,1570.0 1472.7,1569.5 1473.3,1574.2 1473.8,1572.9 1474.4,1570.4 1474.9,1570.7 1475.5,1573.4 1476.0,1573.5 1476.5,1575.4 1477.1,1573.7 1477.6,1575.2 1478.2,1576.1 1478.7,1574.8 1479.3,1571.8 1479.8,1572.8 1480.4,1569.3 1480.9,1568.7 1481.5,1568.7 1482.0,1568.7 1482.5,1567.4 1483.1,1568.8 1483.6,1569.0 1484.2,1570.7 1484.7,1571.5 1485.3,1575.4 1485.8,1576.4 1486.4,1576.5 1486.9,1573.6 1487.4,1573.7 1488.0,1575.2 1488.5,1575.1 1489.1,1573.9 1489.6,1570.9 1490.2,1571.3 1490.7,1570.4 1491.3,1570.1 1491.8,1568.3 1492.3,1567.4 1492.9,1572.0 1493.4,1573.2 1494.0,1572.0 1494.5,1575.1 1495.1,1578.0 1495.6,1574.0 1496.2,1576.2 1496.7,1572.6 1497.2,1575.5 1497.8,1572.1 1498.3,1570.8 1498.9,1574.0 1499.4,1575.2 1500.0,1575.0 1500.5,1576.0 1501.1,1576.1 1501.6,1574.6 1502.2,1569.4 1502.7,1568.1 1503.2,1568.0 1503.8,1568.5 1504.3,1569.8 1504.9,1571.8 1505.4,1573.1 1506.0,1574.1 1506.5,1579.5 1507.1,1580.5 1507.6,1582.4 1508.1,1582.8 1508.7,1584.9 1509.2,1584.4 1509.8,1584.1 1510.3,1585.8 1510.9,1585.1 1511.4,1583.9 1512.0,1585.1 1512.5,1580.1 1513.0,1582.5 1513.6,1578.3 1514.1,1576.2 1514.7,1570.3 1515.2,1570.3 1515.8,1567.8 1516.3,1566.6 1516.9,1571.3 1517.4,1574.2 1517.9,1575.3 1518.5,1577.2 1519.0,1579.5 1519.6,1578.8 1520.1,1578.8 1520.7,1577.5 1521.2,1577.3 1521.8,1577.0 1522.3,1578.4 1522.9,1577.3 1523.4,1578.7 1523.9,1576.9 1524.5,1578.0 1525.0,1579.2 1525.6,1577.1 1526.1,1580.8 1526.7,1580.2 1527.2,1580.0 1527.8,1579.3 1528.3,1580.1 1528.8,1579.4 1529.4,1579.6 1529.9,1576.3 1530.5,1576.8 1531.0,1572.6 1531.6,1574.5 1532.1,1577.0 1532.7,1573.8 1533.2,1575.3 1533.7,1574.1 1534.3,1577.5 1534.8,1575.1 1535.4,1575.7 1535.9,1578.2 1536.5,1579.3 1537.0,1579.0 1537.6,1578.1 1538.1,1575.2 1538.6,1575.9 1539.2,1576.2 1539.7,1578.2 1540.3,1576.8 1540.8,1574.3 1541.4,1573.5 1541.9,1571.9 1542.5,1569.6 1543.0,1566.8 1543.5,1566.9 1544.1,1564.9 1544.6,1563.3 1545.2,1560.3 1545.7,1557.2 1546.3,1552.0 1546.8,1551.9 1547.4,1552.8 1547.9,1558.4 1548.5,1560.3 1549.0,1566.3 1549.5,1567.2 1550.1,1568.2 1550.6,1569.7 1551.2,1569.6 1551.7,1570.9 1552.3,1571.3 1552.8,1573.2 1553.4,1573.6 1553.9,1575.2 1554.4,1577.3 1555.0,1576.8 1555.5,1575.6 1556.1,1576.6 1556.6,1574.3 1557.2,1572.2 1557.7,1573.4 1558.3,1572.0 1558.8,1571.4 1559.3,1572.7 1559.9,1569.6 1560.4,1567.7 1561.0,1572.7 1561.5,1570.6 1562.1,1575.9 1562.6,1575.0 1563.2,1580.9 1563.7,1579.0 1564.2,1578.8 1564.8,1579.0 1565.3,1577.0 1565.9,1575.8 1566.4,1574.1 1567.0,1573.2 1567.5,1576.6 1568.1,1582.2 1568.6,1582.2 1569.2,1583.9 1569.7,1587.0 1570.2,1584.6 1570.8,1588.5 1571.3,1585.5 1571.9,1585.4 1572.4,1584.1 1573.0,1586.3 1573.5,1585.9 1574.1,1584.2 1574.6,1583.5 1575.1,1585.5 1575.7,1582.4 1576.2,1582.4 1576.8,1580.9 1577.3,1584.4 1577.9,1580.0 1578.4,1581.0 1579.0,1580.0 1579.5,1578.1 1580.0,1576.7 1580.6,1578.4 1581.1,1578.5 1581.7,1576.7 1582.2,1579.1 1582.8,1577.8 1583.3,1577.9 1583.9,1578.1 1584.4,1576.4 1584.9,1573.6 1585.5,1574.8 1586.0,1573.6 1586.6,1573.4 1587.1,1571.2 1587.7,1571.5 1588.2,1574.0 1588.8,1574.2 1589.3,1574.0 1589.9,1577.3 1590.4,1577.4 1590.9,1579.7 1591.5,1577.4 1592.0,1579.7 1592.6,1579.3 1593.1,1580.4 1593.7,1579.0 1594.2,1580.9 1594.8,1583.0 1595.3,1581.4 1595.8,1583.6 1596.4,1580.9 1596.9,1581.8 1597.5,1582.6 1598.0,1581.8 1598.6,1585.6 1599.1,1580.8 1599.7,1583.6 1600.2,1581.1 1600.7,1577.8 1601.3,1581.7 1601.8,1579.3 1602.4,1577.4 1602.9,1577.0 1603.5,1579.9 1604.0,1579.4 1604.6,1577.0 1605.1,1579.9 1605.6,1579.0 1606.2,1580.2 1606.7,1578.7 1607.3,1578.8 1607.8,1575.4 1608.4,1573.4 1608.9,1574.6 1609.5,1575.8 1610.0,1576.0 1610.5,1576.4 1611.1,1578.0 1611.6,1577.6 1612.2,1577.4 1612.7,1578.4 1613.3,1582.9 1613.8,1584.9 1614.4,1582.4 1614.9,1583.1 1615.5,1580.8 1616.0,1579.5 1616.5,1578.5 1617.1,1575.2 1617.6,1573.1 1618.2,1574.4 1618.7,1578.5 1619.3,1577.8 1619.8,1581.1 1620.4,1582.9 1620.9,1583.0 1621.4,1583.7 1622.0,1580.4 1622.5,1582.1 1623.1,1582.0 1623.6,1581.9 1624.2,1581.6 1624.7,1582.3 1625.3,1581.3 1625.8,1580.8 1626.3,1580.6 1626.9,1582.4 1627.4,1580.6 1628.0,1579.4 1628.5,1580.2 1629.1,1578.0 1629.6,1578.3 1630.2,1577.9 1630.7,1577.5 1631.2,1578.7 1631.8,1576.4 1632.3,1577.2 1632.9,1579.4 1633.4,1579.1 1634.0,1579.5 1634.5,1581.9 1635.1,1582.0 1635.6,1581.4 1636.2,1584.7 1636.7,1582.9 1637.2,1580.7 1637.8,1580.0 1638.3,1581.3 1638.9,1578.9 1639.4,1576.9 1640.0,1578.7 1640.5,1578.6 1641.1,1578.2 1641.6,1579.1 1642.1,1576.7 1642.7,1576.6 1643.2,1575.4 1643.8,1574.2 1644.3,1575.2 1644.9,1574.9 1645.4,1575.0 1646.0,1573.6 1646.5,1577.3 1647.0,1575.8 1647.6,1576.5 1648.1,1574.9 1648.7,1573.1 1649.2,1572.8 1649.8,1570.8 1650.3,1570.1 1650.9,1571.3 1651.4,1573.0 1651.9,1575.7 1652.5,1576.0 1653.0,1578.7 1653.6,1579.7 1654.1,1578.7 1654.7,1579.9 1655.2,1579.5 1655.8,1577.2 1656.3,1578.3 1656.9,1576.5 1657.4,1575.3 1657.9,1575.6 1658.5,1572.4 1659.0,1574.1 1659.6,1571.7 1660.1,1574.2 1660.7,1578.3 1661.2,1577.0 1661.8,1578.4 1662.3,1579.1 1662.8,1580.1 1663.4,1579.9 1663.9,1578.8 1664.5,1577.8 1665.0,1575.9 1665.6,1576.2 1666.1,1574.1 1666.7,1574.0 1667.2,1575.3 1667.7,1573.1 1668.3,1576.3 1668.8,1573.7 1669.4,1574.5 1669.9,1573.3 1670.5,1571.6 1671.0,1572.4 1671.6,1572.0 1672.1,1571.2 1672.6,1573.8 1673.2,1574.4 1673.7,1572.9 1674.3,1573.7 1674.8,1575.8 1675.4,1574.0 1675.9,1573.0 1676.5,1573.7 1677.0,1573.6 1677.5,1572.5 1678.1,1571.9 1678.6,1571.9 1679.2,1568.7 1679.7,1568.8 1680.3,1563.8 1680.8,1556.4 1681.4,1553.2 1681.9,1545.3 1682.5,1541.2 1683.0,1535.1 1683.5,1538.0 1684.1,1542.2 1684.6,1548.7 1685.2,1551.8 1685.7,1559.2 1686.3,1561.6 1686.8,1563.4 1687.4,1563.8 1687.9,1563.8 1688.4,1566.1 1689.0,1561.9 1689.5,1563.9 1690.1,1564.7 1690.6,1566.1 1691.2,1565.5 1691.7,1568.2 1692.3,1567.8 1692.8,1569.8 1693.3,1569.6 1693.9,1571.4 1694.4,1571.3 1695.0,1569.7 1695.5,1571.4 1696.1,1573.7 1696.6,1576.0 1697.2,1574.6 1697.7,1578.6 1698.2,1579.0 1698.8,1576.8 1699.3,1578.8 1699.9,1577.1 1700.4,1578.1 1701.0,1576.7 1701.5,1577.4 1702.1,1578.7 1702.6,1580.2 1703.2,1579.3 1703.7,1578.9 1704.2,1580.6 1704.8,1584.1 1705.3,1582.3 1705.9,1582.8 1706.4,1582.9 1707.0,1583.5 1707.5,1582.2 1708.1,1584.5 1708.6,1582.6 1709.1,1584.8 1709.7,1584.7 1710.2,1583.2 1710.8,1582.6 1711.3,1582.5 1711.9,1582.0 1712.4,1580.5 1713.0,1580.4 1713.5,1580.8 1714.0,1581.4 1714.6,1582.9 1715.1,1583.9 1715.7,1585.0 1716.2,1584.8 1716.8,1585.2 1717.3,1583.1 1717.9,1580.9 1718.4,1579.8 1718.9,1577.7 1719.5,1578.6 1720.0,1579.7 1720.6,1578.7 1721.1,1575.7 1721.7,1576.9 1722.2,1578.0 1722.8,1575.9 1723.3,1576.7 1723.9,1573.8 1724.4,1574.9 1724.9,1574.0 1725.5,1572.1 1726.0,1576.6 1726.6,1578.3 1727.1,1579.0 1727.7,1583.0 1728.2,1587.0 1728.8,1587.1 1729.3,1586.1 1729.8,1585.9 1730.4,1584.1 1730.9,1582.5 1731.5,1583.0 1732.0,1581.9 1732.6,1582.1 1733.1,1582.0 1733.7,1582.5 1734.2,1580.6 1734.7,1580.1 1735.3,1581.7 1735.8,1582.1 1736.4,1580.7 1736.9,1581.0 1737.5,1580.0 1738.0,1579.9 1738.6,1579.8 1739.1,1580.3 1739.6,1577.8 1740.2,1577.6 1740.7,1578.9 1741.3,1579.8 1741.8,1580.8 1742.4,1579.2 1742.9,1580.8 1743.5,1584.1 1744.0,1581.8 1744.5,1581.4 1745.1,1580.8 1745.6,1580.5 1746.2,1580.6 1746.7,1578.9 1747.3,1577.4 1747.8,1577.3 1748.4,1574.5 1748.9,1574.8 1749.5,1574.4 1750.0,1574.0 1750.5,1576.1 1751.1,1575.7 1751.6,1577.0 1752.2,1577.1 1752.7,1577.3 1753.3,1580.8 1753.8,1579.2 1754.4,1580.3 1754.9,1581.6 1755.4,1581.7 1756.0,1580.1 1756.5,1578.8 1757.1,1577.4 1757.6,1573.8 1758.2,1571.8 1758.7,1572.3 1759.3,1570.5 1759.8,1569.9 1760.3,1567.0 1760.9,1567.3 1761.4,1567.0 1762.0,1565.2 1762.5,1566.9 1763.1,1567.8 1763.6,1568.5 1764.2,1569.6 1764.7,1570.2 1765.2,1570.2 1765.8,1571.5 1766.3,1573.2 1766.9,1573.6 1767.4,1572.9 1768.0,1574.2 1768.5,1574.0 1769.1,1571.8 1769.6,1572.1 1770.2,1567.8 1770.7,1569.9 1771.2,1571.2 1771.8,1572.6 1772.3,1572.3 1772.9,1576.2 1773.4,1576.5 1774.0,1578.2 1774.5,1575.8 1775.1,1577.3 1775.6,1575.9 1776.1,1578.0 1776.7,1578.6 1777.2,1578.0 1777.8,1576.2 1778.3,1577.3 1778.9,1575.9 1779.4,1576.4 1780.0,1575.7 1780.5,1574.9 1781.0,1572.2 1781.6,1574.1 1782.1,1572.3 1782.7,1572.0 1783.2,1574.4 1783.8,1576.1 1784.3,1574.3 1784.9,1575.1 1785.4,1577.8 1785.9,1579.0 1786.5,1577.3 1787.0,1578.3 1787.6,1579.1 1788.1,1578.7 1788.7,1580.8 1789.2,1579.9 1789.8,1580.8 1790.3,1581.4 1790.8,1580.4 1791.4,1581.4 1791.9,1579.1 1792.5,1582.0 1793.0,1579.2 1793.6,1578.3 1794.1,1575.3 1794.7,1575.5 1795.2,1577.3 1795.8,1578.3 1796.3,1580.0 1796.8,1580.7 1797.4,1581.5 1797.9,1582.7 1798.5,1577.9 1799.0,1578.2 1799.6,1576.2 1800.1,1576.3 1800.7,1577.1 1801.2,1577.7 1801.7,1580.9 1802.3,1581.1 1802.8,1580.2 1803.4,1582.2 1803.9,1582.9 1804.5,1580.9 1805.0,1581.7 1805.6,1580.1 1806.1,1578.2 1806.6,1580.5 1807.2,1579.9 1807.7,1579.0 1808.3,1579.6 1808.8,1579.5 1809.4,1580.5 1809.9,1579.8 1810.5,1581.5 1811.0,1579.4 1811.5,1578.0 1812.1,1580.2 1812.6,1579.6 1813.2,1579.4 1813.7,1579.4 1814.3,1580.0 1814.8,1582.3 1815.4,1582.3 1815.9,1578.7 1816.5,1579.0 1817.0,1576.6 1817.5,1575.9 1818.1,1573.9 1818.6,1575.3 1819.2,1573.3 1819.7,1575.0 1820.3,1574.2 1820.8,1574.5 1821.4,1572.7 1821.9,1574.1 1822.4,1575.2 1823.0,1576.9 1823.5,1578.5 1824.1,1577.6 1824.6,1579.4 1825.2,1579.2 1825.7,1578.8 1826.3,1580.3 1826.8,1580.6 1827.3,1582.0 1827.9,1578.7 1828.4,1577.8 1829.0,1576.3 1829.5,1574.2 1830.1,1576.0 1830.6,1574.5 1831.2,1575.2 1831.7,1576.8 1832.2,1578.0 1832.8,1579.0 1833.3,1581.9 1833.9,1580.1 1834.4,1578.5 1835.0,1579.1 1835.5,1578.7 1836.1,1577.3 1836.6,1579.3 1837.2,1577.1 1837.7,1575.8 1838.2,1577.2 1838.8,1577.5 1839.3,1576.1 1839.9,1578.0 1840.4,1579.4 1841.0,1579.4 1841.5,1582.0 1842.1,1580.8 1842.6,1582.6 1843.1,1581.2 1843.7,1579.3 1844.2,1579.3 1844.8,1578.4 1845.3,1576.8 1845.9,1576.6 1846.4,1575.9 1847.0,1578.1 1847.5,1576.4 1848.0,1578.4 1848.6,1576.1 1849.1,1575.9 1849.7,1578.0 1850.2,1577.3 1850.8,1577.4 1851.3,1578.9 1851.9,1579.2 1852.4,1577.1 1852.9,1579.7 1853.5,1578.4 1854.0,1577.7 1854.6,1578.7 1855.1,1578.1 1855.7,1578.7 1856.2,1580.1 1856.8,1579.3 1857.3,1580.6 1857.8,1584.5 1858.4,1585.7 1858.9,1587.3 1859.5,1589.6 1860.0,1593.6 1860.6,1590.1 1861.1,1591.9 1861.7,1589.6 1862.2,1586.2 1862.8,1584.4 1863.3,1581.1 1863.8,1580.7 1864.4,1578.9 1864.9,1576.8 1865.5,1576.2 1866.0,1574.8 1866.6,1573.0 1867.1,1571.5 1867.7,1572.7 1868.2,1571.3 1868.7,1573.1 1869.3,1572.2 1869.8,1571.6 1870.4,1569.6 1870.9,1569.0 1871.5,1567.6 1872.0,1566.9 1872.6,1565.6 1873.1,1568.6 1873.6,1569.8 1874.2,1571.4 1874.7,1574.5 1875.3,1576.1 1875.8,1574.5 1876.4,1572.4 1876.9,1573.7 1877.5,1572.7 1878.0,1571.7 1878.5,1570.9 1879.1,1572.1 1879.6,1572.2 1880.2,1571.2 1880.7,1572.7 1881.3,1571.4 1881.8,1570.7 1882.4,1567.4 1882.9,1563.3 1883.5,1560.8 1884.0,1552.2 1884.5,1542.9 1885.1,1531.1 1885.6,1515.5 1886.2,1496.7 1886.7,1476.5 1887.3,1451.5 1887.8,1424.8 1888.4,1398.9 1888.9,1378.9 1889.4,1360.6 1890.0,1350.6 1890.5,1351.3 1891.1,1364.4 1891.6,1382.5 1892.2,1403.4 1892.7,1426.5 1893.3,1455.1 1893.8,1476.9 1894.3,1501.7 1894.9,1519.5 1895.4,1535.7 1896.0,1547.6 1896.5,1557.0 1897.1,1561.5 1897.6,1563.0 1898.2,1563.3 1898.7,1565.1 1899.2,1563.6 1899.8,1565.1 1900.3,1565.8 1900.9,1566.6 1901.4,1566.7 1902.0,1567.1 1902.5,1568.7 1903.1,1569.4 1903.6,1571.6 1904.2,1571.0 1904.7,1572.0 1905.2,1570.3 1905.8,1573.5 1906.3,1574.5 1906.9,1574.6 1907.4,1575.3 1908.0,1576.0 1908.5,1577.6 1909.1,1575.1 1909.6,1572.8 1910.1,1573.2 1910.7,1571.4 1911.2,1571.3 1911.8,1570.9 1912.3,1570.1 1912.9,1571.4 1913.4,1572.8 1914.0,1574.0 1914.5,1573.9 1915.0,1576.9 1915.6,1580.9 1916.1,1579.7 1916.7,1583.7 1917.2,1584.8 1917.8,1584.9 1918.3,1584.7 1918.9,1583.3 1919.4,1584.9 1919.9,1583.1 1920.5,1581.9 1921.0,1577.2 1921.6,1575.5 1922.1,1572.3 1922.7,1568.7 1923.2,1564.8 1923.8,1565.3 1924.3,1567.2 1924.8,1563.6 1925.4,1563.0 1925.9,1560.8 1926.5,1559.4 1927.0,1558.5 1927.6,1560.4 1928.1,1562.9 1928.7,1564.6 1929.2,1567.8 1929.8,1572.3 1930.3,1575.1 1930.8,1577.4 1931.4,1580.7 1931.9,1582.3 1932.5,1583.5 1933.0,1584.9 1933.6,1581.9 1934.1,1581.2 1934.7,1579.6 1935.2,1578.2 1935.7,1578.5 1936.3,1575.6 1936.8,1574.0 1937.4,1572.2 1937.9,1569.3 1938.5,1567.9 1939.0,1569.4 1939.6,1566.3 1940.1,1567.3 1940.6,1567.2 1941.2,1566.8 1941.7,1566.4 1942.3,1568.2 1942.8,1567.8 1943.4,1570.2 1943.9,1573.4 1944.5,1573.0 1945.0,1573.9 1945.5,1574.4 1946.1,1573.8 1946.6,1574.9 1947.2,1575.1 1947.7,1574.7 1948.3,1577.0 1948.8,1576.5 1949.4,1574.8 1949.9,1574.2 1950.5,1576.6 1951.0,1574.9 1951.5,1575.4 1952.1,1575.0 1952.6,1574.1 1953.2,1573.1 1953.7,1574.2 1954.3,1576.3 1954.8,1578.1 1955.4,1580.1 1955.9,1583.6 1956.4,1582.1 1957.0,1583.2 1957.5,1582.6 1958.1,1580.8 1958.6,1581.6 1959.2,1577.6 1959.7,1579.3 1960.3,1580.1 1960.8,1580.4 1961.3,1580.9 1961.9,1581.4 1962.4,1580.6 1963.0,1581.3 1963.5,1579.8 1964.1,1579.4 1964.6,1578.4 1965.2,1579.7 1965.7,1578.4 1966.2,1578.6 1966.8,1577.7 1967.3,1577.4 1967.9,1577.3 1968.4,1576.2 1969.0,1575.1 1969.5,1573.0 1970.1,1572.5 1970.6,1570.6 1971.2,1570.2 1971.7,1567.0 1972.2,1563.7 1972.8,1561.3 1973.3,1561.6 1973.9,1560.8 1974.4,1562.8 1975.0,1565.8 1975.5,1569.6 1976.1,1572.8 1976.6,1575.7 1977.1,1578.4 1977.7,1577.4 1978.2,1578.6 1978.8,1577.9 1979.3,1575.3 1979.9,1574.5 1980.4,1573.7 1981.0,1572.8 1981.5,1569.1 1982.0,1569.3 1982.6,1565.6 1983.1,1564.7 1983.7,1567.7 1984.2,1570.3 1984.8,1572.0 1985.3,1575.4 1985.9,1579.6 1986.4,1579.8 1986.9,1580.7 1987.5,1578.0 1988.0,1577.2 1988.6,1576.7 1989.1,1578.5 1989.7,1575.2 1990.2,1575.5 1990.8,1577.4 1991.3,1579.3 1991.8,1578.5 1992.4,1576.6 1992.9,1574.9 1993.5,1576.5 1994.0,1576.9 1994.6,1575.2 1995.1,1571.5 1995.7,1575.4 1996.2,1578.8 1996.8,1581.6 1997.3,1581.1 1997.8,1583.0 1998.4,1584.4 1998.9,1582.7 1999.5,1581.0 2000.0,1580.0 2000.6,1578.8 2001.1,1577.5 2001.7,1578.1 2002.2,1576.9 2002.7,1578.2 2003.3,1578.2 2003.8,1577.9 2004.4,1581.3 2004.9,1577.8 2005.5,1575.4 2006.0,1575.1 2006.6,1574.0 2007.1,1571.6 2007.6,1574.0 2008.2,1575.9 2008.7,1577.1 2009.3,1578.5 2009.8,1580.3 2010.4,1579.7 2010.9,1579.2 2011.5,1578.2 2012.0,1573.6 2012.5,1575.0 2013.1,1573.4 2013.6,1575.3 2014.2,1577.7 2014.7,1580.3 2015.3,1580.5 2015.8,1581.1 2016.4,1584.4 2016.9,1582.2 2017.5,1579.9 2018.0,1579.8 2018.5,1577.6 2019.1,1577.1 2019.6,1578.9 2020.2,1579.0 2020.7,1580.1 2021.3,1579.9 2021.8,1583.4 2022.4,1580.8 2022.9,1579.4 2023.4,1579.9 2024.0,1579.3 2024.5,1579.6 2025.1,1578.4 2025.6,1579.4 2026.2,1581.0 2026.7,1581.5 2027.3,1583.2 2027.8,1581.3 2028.3,1581.7 2028.9,1580.5 2029.4,1580.8 2030.0,1580.0 2030.5,1581.5 2031.1,1581.5 2031.6,1579.0 2032.2,1577.6 2032.7,1575.7 2033.2,1575.0 2033.8,1573.8 2034.3,1573.8 2034.9,1575.3 2035.4,1576.9 2036.0,1578.4 2036.5,1580.7 2037.1,1581.9 2037.6,1581.0 2038.2,1578.4 2038.7,1575.2 2039.2,1572.1 2039.8,1570.6 2040.3,1570.0 2040.9,1567.9 2041.4,1569.7 2042.0,1570.8 2042.5,1570.5 2043.1,1571.2 2043.6,1573.3 2044.1,1572.5 2044.7,1571.8 2045.2,1575.2 2045.8,1576.5 2046.3,1575.7 2046.9,1577.2 2047.4,1577.8 2048.0,1576.9 2048.5,1579.6 2049.0,1578.8 2049.6,1578.0 2050.1,1578.1 2050.7,1579.0 2051.2,1578.5 2051.8,1575.8 2052.3,1577.7 2052.9,1578.5 2053.4,1577.9 2053.9,1581.3 2054.5,1580.4 2055.0,1582.7 2055.6,1578.9 2056.1,1580.3 2056.7,1578.6 2057.2,1578.8 2057.8,1577.2 2058.3,1577.1 2058.8,1578.0 2059.4,1578.9 2059.9,1578.9 2060.5,1579.8 2061.0,1580.4 2061.6,1580.6 2062.1,1581.6 2062.7,1584.7 2063.2,1585.4 2063.8,1586.1 2064.3,1584.6 2064.8,1584.3 2065.4,1579.8 2065.9,1579.4 2066.5,1577.6 2067.0,1575.4 2067.6,1576.4 2068.1,1575.1 2068.7,1574.8 2069.2,1573.8 2069.7,1575.9 2070.3,1573.9 2070.8,1575.3 2071.4,1576.2 2071.9,1576.0 2072.5,1577.7 2073.0,1578.1 2073.6,1576.9 2074.1,1577.8 2074.6,1576.3 2075.2,1575.9 2075.7,1576.7 2076.3,1576.7 2076.8,1577.7 2077.4,1578.1 2077.9,1576.2 2078.5,1578.7 2079.0,1577.9 2079.5,1578.1 2080.1,1579.6 2080.6,1579.9 2081.2,1580.3 2081.7,1578.2 2082.3,1579.5 2082.8,1577.6 2083.4,1576.0 2083.9,1575.9 2084.5,1574.6 2085.0,1575.1 2085.5,1575.1 2086.1,1573.0 2086.6,1572.9 2087.2,1575.0 2087.7,1573.0 2088.3,1574.4 2088.8,1575.2 2089.4,1576.4 2089.9,1576.8 2090.4,1580.4 2091.0,1581.0 2091.5,1579.0 2092.1,1579.5 2092.6,1577.7 2093.2,1577.1 2093.7,1577.5 2094.3,1576.3 2094.8,1575.9 2095.3,1578.2 2095.9,1580.2 2096.4,1580.4 2097.0,1581.1 2097.5,1579.1 2098.1,1577.7 2098.6,1576.0 2099.2,1576.0 2099.7,1574.2 2100.2,1574.6 2100.8,1576.0 2101.3,1576.8 2101.9,1577.5 2102.4,1580.4 2103.0,1580.5 2103.5,1579.6 2104.1,1580.6 2104.6,1579.1 2105.2,1576.9 2105.7,1577.0 2106.2,1572.6 2106.8,1574.5 2107.3,1572.4 2107.9,1569.2 2108.4,1569.2 2109.0,1566.5 2109.5,1568.5 2110.1,1567.1 2110.6,1569.0 2111.1,1568.3 2111.7,1568.5 2112.2,1570.6 2112.8,1569.1 2113.3,1568.8 2113.9,1567.2 2114.4,1564.2 2115.0,1563.9 2115.5,1561.6 2116.0,1559.5 2116.6,1558.3 2117.1,1557.0 2117.7,1556.6 2118.2,1556.7 2118.8,1557.4 2119.3,1558.4 2119.9,1559.9 2120.4,1562.4 2120.9,1564.9 2121.5,1565.1 2122.0,1564.0 2122.6,1565.7 2123.1,1564.7 2123.7,1567.6 2124.2,1566.7 2124.8,1567.8 2125.3,1567.8 2125.8,1569.5 2126.4,1568.7 2126.9,1569.2 2127.5,1570.5 2128.0,1572.4 2128.6,1573.5 2129.1,1573.3 2129.7,1573.3 2130.2,1574.4 2130.8,1575.2 2131.3,1575.9 2131.8,1578.2 2132.4,1576.8 2132.9,1578.6 2133.5,1579.2 2134.0,1579.1 2134.6,1577.8 2135.1,1578.7 2135.7,1580.7 2136.2,1577.6 2136.7,1581.3 2137.3,1578.8 2137.8,1579.8 2138.4,1581.7 2138.9,1579.7 2139.5,1579.5 2140.0,1579.5 2140.6,1579.5 2141.1,1579.4 2141.6,1579.1 2142.2,1579.2 2142.7,1577.7 2143.3,1576.2 2143.8,1576.9 2144.4,1574.5 2144.9,1577.3 2145.5,1577.4 2146.0,1580.4 2146.5,1582.2 2147.1,1581.9 2147.6,1584.0 2148.2,1584.5 2148.7,1583.9 2149.3,1582.1 2149.8,1582.4 2150.4,1580.1 2150.9,1579.3 2151.5,1579.9 2152.0,1578.2 2152.5,1580.2 2153.1,1578.0 2153.6,1578.1 2154.2,1577.4 2154.7,1577.0 2155.3,1575.6 2155.8,1575.7 2156.4,1575.6 2156.9,1573.3 2157.4,1576.5 2158.0,1578.2 2158.5,1579.9 2159.1,1583.0 2159.6,1583.4 2160.2,1586.7 2160.7,1583.8 2161.3,1584.6 2161.8,1582.7 2162.3,1582.9 2162.9,1582.9 2163.4,1582.0 2164.0,1581.0 2164.5,1581.1 2165.1,1579.2 2165.6,1578.4 2166.2,1578.0 2166.7,1578.3 2167.2,1579.6 2167.8,1579.5 2168.3,1580.5 2168.9,1581.4 2169.4,1579.9 2170.0,1579.3 2170.5,1580.5 2171.1,1579.2 2171.6,1576.0 2172.1,1579.1 2172.7,1580.0 2173.2,1582.5 2173.8,1581.9 2174.3,1582.4 2174.9,1584.1 2175.4,1585.0 2176.0,1584.9 2176.5,1586.5 2177.1,1583.9 2177.6,1584.4 2178.1,1582.9 2178.7,1581.7 2179.2,1580.8 2179.8,1578.1 2180.3,1578.3 2180.9,1579.2 2181.4,1577.1 2182.0,1576.3 2182.5,1576.1 2183.0,1574.2 2183.6,1575.2 2184.1,1576.5 2184.7,1576.6 2185.2,1575.9 2185.8,1577.7 2186.3,1577.2 2186.9,1579.1 2187.4,1577.7 2187.9,1578.7 2188.5,1579.6 2189.0,1579.6 2189.6,1579.7 2190.1,1578.9 2190.7,1579.5 2191.2,1580.0 2191.8,1579.7 2192.3,1579.1 2192.8,1579.6 2193.4,1577.8 2193.9,1579.4 2194.5,1577.2 2195.0,1577.0 2195.6,1576.9 2196.1,1575.4 2196.7,1575.3 2197.2,1575.3 2197.8,1575.9 2198.3,1577.4 2198.8,1576.7 2199.4,1576.9 2199.9,1576.3 2200.5,1578.4 2201.0,1579.2 2201.6,1578.8 2202.1,1580.7 2202.7,1581.4 2203.2,1580.9 2203.7,1580.4 2204.3,1580.9 2204.8,1582.2 2205.4,1581.3 2205.9,1580.2 2206.5,1581.8 2207.0,1580.3 2207.6,1580.8 2208.1,1581.8 2208.6,1580.6 2209.2,1583.5 2209.7,1583.8 2210.3,1583.8 2210.8,1582.4 2211.4,1581.3 2211.9,1578.6 2212.5,1577.3 2213.0,1575.1 2213.5,1573.6 2214.1,1571.9 2214.6,1569.8 2215.2,1569.0 2215.7,1570.1 2216.3,1567.5 2216.8,1565.5 2217.4,1566.0 2217.9,1567.0 2218.5,1564.9 2219.0,1564.9 2219.5,1565.0 2220.1,1564.0 2220.6,1564.5 2221.2,1566.9 2221.7,1567.2 2222.3,1568.5 2222.8,1569.1 2223.4,1568.7 2223.9,1571.6 2224.4,1571.9 2225.0,1573.4 2225.5,1574.8 2226.1,1576.3 2226.6,1574.1 2227.2,1575.0 2227.7,1572.8 2228.3,1572.9 2228.8,1572.0 2229.3,1573.7 2229.9,1575.2 2230.4,1576.5 2231.0,1576.7 2231.5,1577.9 2232.1,1578.8 2232.6,1580.5 2233.2,1580.8 2233.7,1582.4 2234.2,1583.5 2234.8,1584.8 2235.3,1583.2 2235.9,1581.1 2236.4,1580.7 2237.0,1579.5 2237.5,1576.3 2238.1,1575.5 2238.6,1576.1 2239.1,1576.2 2239.7,1577.8 2240.2,1577.8 2240.8,1577.3 2241.3,1576.4 2241.9,1576.7 2242.4,1574.5 2243.0,1575.9 2243.5,1572.5 2244.1,1574.4 2244.6,1574.3 2245.1,1575.0 2245.7,1575.5 2246.2,1574.7 2246.8,1576.1 2247.3,1573.4 2247.9,1571.7 2248.4,1570.8 2249.0,1569.2 2249.5,1569.1 2250.0,1568.7 2250.6,1568.2 2251.1,1566.2 2251.7,1567.0 2252.2,1569.1 2252.8,1566.3 2253.3,1567.9 2253.9,1568.0 2254.4,1568.6 2254.9,1568.8 2255.5,1571.9 2256.0,1570.4 2256.6,1570.9 2257.1,1568.2 2257.7,1569.1 2258.2,1569.6 2258.8,1569.7 2259.3,1573.1 2259.8,1572.8 2260.4,1575.4 2260.9,1575.3 2261.5,1577.7 2262.0,1578.7 2262.6,1577.6 2263.1,1574.8 2263.7,1574.7 2264.2,1571.6 2264.8,1570.6 2265.3,1574.1 2265.8,1576.4 2266.4,1578.1 2266.9,1583.9 2267.5,1584.6 2268.0,1585.1 2268.6,1584.2 2269.1,1580.9 2269.7,1579.9 2270.2,1578.3 2270.7,1578.0 2271.3,1576.4 2271.8,1578.0 2272.4,1576.2 2272.9,1574.6 2273.5,1577.3 2274.0,1575.5 2274.6,1579.0 2275.1,1579.0 2275.6,1579.4 2276.2,1582.4 2276.7,1581.8 2277.3,1582.5 2277.8,1582.1 2278.4,1580.5 2278.9,1581.2 2279.5,1580.6 2280.0,1581.4 2280.5,1582.2 2281.1,1582.2 2281.6,1584.5 2282.2,1585.9 2282.7,1586.5 2283.3,1585.4 2283.8,1585.2 2284.4,1587.2 2284.9,1584.9 2285.5,1584.1 2286.0,1581.8 2286.5,1584.3 2287.1,1583.6 2287.6,1584.0 2288.2,1582.5 2288.7,1583.6 2289.3,1583.7 2289.8,1584.0 2290.4,1586.2 2290.9,1585.9 2291.4,1587.1 2292.0,1585.8 2292.5,1585.7 2293.1,1585.5 2293.6,1587.5 2294.2,1587.4 2294.7,1586.2 2295.3,1587.8 2295.8,1584.5"/>
<polyline fill="none" stroke="#ff2222" stroke-width="6.50" stroke-linejoin="round" stroke-linecap="butt" points="389.3,1448.9 389.8,1446.5 390.4,1451.7 390.9,1448.6 391.5,1454.0 392.0,1449.9 392.6,1453.5 393.1,1449.4 393.7,1450.0 394.2,1447.2 394.7,1450.6 395.3,1452.1 395.8,1452.4 396.4,1455.2 396.9,1445.5 397.5,1456.6 398.0,1451.0 398.6,1448.8 399.1,1451.1 399.6,1454.4 400.2,1448.4 400.7,1444.9 401.3,1444.8 401.8,1453.3 402.4,1448.4 402.9,1446.3 403.5,1440.2 404.0,1448.5 404.6,1448.0 405.1,1444.3 405.6,1453.8 406.2,1451.0 406.7,1456.2 407.3,1451.6 407.8,1452.6 408.4,1451.7 408.9,1447.1 409.5,1447.1 410.0,1447.7 410.5,1449.9 411.1,1450.8 411.6,1453.1 412.2,1447.7 412.7,1447.0 413.3,1450.0 413.8,1452.1 414.4,1452.3 414.9,1447.6 415.4,1446.0 416.0,1447.5 416.5,1453.9 417.1,1452.4 417.6,1453.2 418.2,1445.0 418.7,1447.9 419.3,1452.9 419.8,1448.0 420.3,1448.6 420.9,1448.8 421.4,1448.4 422.0,1451.7 422.5,1452.3 423.1,1446.8 423.6,1441.9 424.2,1452.2 424.7,1452.3 425.3,1446.2 425.8,1452.3 426.3,1456.7 426.9,1449.1 427.4,1444.1 428.0,1443.7 428.5,1445.0 429.1,1450.9 429.6,1448.5 430.2,1451.9 430.7,1452.9 431.2,1450.0 431.8,1454.7 432.3,1447.2 432.9,1447.8 433.4,1446.7 434.0,1446.8 434.5,1450.4 435.1,1441.5 435.6,1441.8 436.1,1450.1 436.7,1450.1 437.2,1452.0 437.8,1451.0 438.3,1447.4 438.9,1445.6 439.4,1451.9 440.0,1452.6 440.5,1453.9 441.0,1450.3 441.6,1451.4 442.1,1449.6 442.7,1449.2 443.2,1455.2 443.8,1452.5 444.3,1447.9 444.9,1451.8 445.4,1451.0 446.0,1453.9 446.5,1444.8 447.0,1446.6 447.6,1449.1 448.1,1445.5 448.7,1443.3 449.2,1443.5 449.8,1449.8 450.3,1448.8 450.9,1447.4 451.4,1445.0 451.9,1454.9 452.5,1448.0 453.0,1453.2 453.6,1443.9 454.1,1448.1 454.7,1444.9 455.2,1447.9 455.8,1441.5 456.3,1444.3 456.8,1449.1 457.4,1452.8 457.9,1445.9 458.5,1446.0 459.0,1449.2 459.6,1449.1 460.1,1450.8 460.7,1445.2 461.2,1444.5 461.7,1450.6 462.3,1450.7 462.8,1445.6 463.4,1452.1 463.9,1446.6 464.5,1445.5 465.0,1446.2 465.6,1441.3 466.1,1449.3 466.6,1444.7 467.2,1446.7 467.7,1447.9 468.3,1445.6 468.8,1447.1 469.4,1446.7 469.9,1449.9 470.5,1451.2 471.0,1442.8 471.6,1443.0 472.1,1444.5 472.6,1446.5 473.2,1440.2 473.7,1445.7 474.3,1440.2 474.8,1437.4 475.4,1437.4 475.9,1442.1 476.5,1431.3 477.0,1444.2 477.5,1436.6 478.1,1435.6 478.6,1442.1 479.2,1444.3 479.7,1451.0 480.3,1448.0 480.8,1454.0 481.4,1448.5 481.9,1446.3 482.4,1453.9 483.0,1450.1 483.5,1452.5 484.1,1445.6 484.6,1450.4 485.2,1449.8 485.7,1452.3 486.3,1450.6 486.8,1450.9 487.3,1454.7 487.9,1446.9 488.4,1450.9 489.0,1454.1 489.5,1450.7 490.1,1448.1 490.6,1447.8 491.2,1447.4 491.7,1449.3 492.3,1450.9 492.8,1451.9 493.3,1454.7 493.9,1448.2 494.4,1451.2 495.0,1448.0 495.5,1453.0 496.1,1451.4 496.6,1449.3 497.2,1453.2 497.7,1450.7 498.2,1450.8 498.8,1449.4 499.3,1454.8 499.9,1453.8 500.4,1454.7 501.0,1450.5 501.5,1453.0 502.1,1440.8 502.6,1452.0 503.1,1443.5 503.7,1445.6 504.2,1449.6 504.8,1447.0 505.3,1452.7 505.9,1449.1 506.4,1447.6 507.0,1439.6 507.5,1450.4 508.0,1449.5 508.6,1446.6 509.1,1446.9 509.7,1455.7 510.2,1446.2 510.8,1449.5 511.3,1450.3 511.9,1449.1 512.4,1451.7 513.0,1453.5 513.5,1448.4 514.0,1444.3 514.6,1450.2 515.1,1446.6 515.7,1449.7 516.2,1447.4 516.8,1448.1 517.3,1452.3 517.9,1445.8 518.4,1452.0 518.9,1456.0 519.5,1450.5 520.0,1448.9 520.6,1447.2 521.1,1447.9 521.7,1448.6 522.2,1440.3 522.8,1452.0 523.3,1449.5 523.8,1447.7 524.4,1446.1 524.9,1448.8 525.5,1444.4 526.0,1448.4 526.6,1442.7 527.1,1451.7 527.7,1445.9 528.2,1445.5 528.7,1450.1 529.3,1447.6 529.8,1447.0 530.4,1450.2 530.9,1449.2 531.5,1447.4 532.0,1446.1 532.6,1444.7 533.1,1448.0 533.6,1445.6 534.2,1446.0 534.7,1446.3 535.3,1449.1 535.8,1458.5 536.4,1446.7 536.9,1449.3 537.5,1451.2 538.0,1453.5 538.6,1451.6 539.1,1453.0 539.6,1455.6 540.2,1453.1 540.7,1448.4 541.3,1452.0 541.8,1449.7 542.4,1441.4 542.9,1449.1 543.5,1446.1 544.0,1452.5 544.5,1448.6 545.1,1451.9 545.6,1450.8 546.2,1455.3 546.7,1449.8 547.3,1448.8 547.8,1454.1 548.4,1450.7 548.9,1448.1 549.4,1449.8 550.0,1448.5 550.5,1451.0 551.1,1446.7 551.6,1444.1 552.2,1450.5 552.7,1445.0 553.3,1449.6 553.8,1445.9 554.3,1443.3 554.9,1450.7 555.4,1457.0 556.0,1446.9 556.5,1442.4 557.1,1444.8 557.6,1449.4 558.2,1450.8 558.7,1450.3 559.3,1451.3 559.8,1452.5 560.3,1450.6 560.9,1456.4 561.4,1447.7 562.0,1455.6 562.5,1443.9 563.1,1446.6 563.6,1451.6 564.2,1457.1 564.7,1447.1 565.2,1452.3 565.8,1449.2 566.3,1452.2 566.9,1445.7 567.4,1451.0 568.0,1448.4 568.5,1453.3 569.1,1451.5 569.6,1450.4 570.1,1448.1 570.7,1452.9 571.2,1448.4 571.8,1444.0 572.3,1452.2 572.9,1451.2 573.4,1448.7 574.0,1453.2 574.5,1452.2 575.0,1454.3 575.6,1452.3 576.1,1447.8 576.7,1451.4 577.2,1450.5 577.8,1447.9 578.3,1446.8 578.9,1449.9 579.4,1451.6 580.0,1449.6 580.5,1452.8 581.0,1448.7 581.6,1451.0 582.1,1447.3 582.7,1455.7 583.2,1449.1 583.8,1455.2 584.3,1453.3 584.9,1442.9 585.4,1448.9 585.9,1444.4 586.5,1449.6 587.0,1447.5 587.6,1450.9 588.1,1447.7 588.7,1449.1 589.2,1452.2 589.8,1450.4 590.3,1451.8 590.8,1447.4 591.4,1448.8 591.9,1447.2 592.5,1452.8 593.0,1447.2 593.6,1445.0 594.1,1450.9 594.7,1451.0 595.2,1448.5 595.7,1448.1 596.3,1454.1 596.8,1450.6 597.4,1447.3 597.9,1452.8 598.5,1445.9 599.0,1449.5 599.6,1451.2 600.1,1445.0 600.6,1446.3 601.2,1451.0 601.7,1446.3 602.3,1448.4 602.8,1447.5 603.4,1443.1 603.9,1451.0 604.5,1446.4 605.0,1450.1 605.6,1450.3 606.1,1446.6 606.6,1447.8 607.2,1449.9 607.7,1448.9 608.3,1450.0 608.8,1454.6 609.4,1450.6 609.9,1450.2 610.5,1445.0 611.0,1458.0 611.5,1445.4 612.1,1446.1 612.6,1447.8 613.2,1448.9 613.7,1453.6 614.3,1442.8 614.8,1453.5 615.4,1448.9 615.9,1447.6 616.4,1451.9 617.0,1450.2 617.5,1448.5 618.1,1449.2 618.6,1445.4 619.2,1442.8 619.7,1455.7 620.3,1450.1 620.8,1445.4 621.3,1451.7 621.9,1446.6 622.4,1443.2 623.0,1449.4 623.5,1448.8 624.1,1454.3 624.6,1450.8 625.2,1450.6 625.7,1445.8 626.3,1450.6 626.8,1449.0 627.3,1449.9 627.9,1446.1 628.4,1443.8 629.0,1448.8 629.5,1447.3 630.1,1448.9 630.6,1444.6 631.2,1446.7 631.7,1445.5 632.2,1448.0 632.8,1451.3 633.3,1453.5 633.9,1449.6 634.4,1446.7 635.0,1449.9 635.5,1448.7 636.1,1451.5 636.6,1452.0 637.1,1453.4 637.7,1454.1 638.2,1449.1 638.8,1450.3 639.3,1447.9 639.9,1451.0 640.4,1445.7 641.0,1450.8 641.5,1446.1 642.0,1448.6 642.6,1445.2 643.1,1449.0 643.7,1453.1 644.2,1453.6 644.8,1445.7 645.3,1452.5 645.9,1452.6 646.4,1452.7 646.9,1442.9 647.5,1444.9 648.0,1445.5 648.6,1452.5 649.1,1444.0 649.7,1445.9 650.2,1448.8 650.8,1453.7 651.3,1448.5 651.9,1446.1 652.4,1446.6 652.9,1450.1 653.5,1445.5 654.0,1450.6 654.6,1457.0 655.1,1450.8 655.7,1450.3 656.2,1448.6 656.8,1444.9 657.3,1454.8 657.8,1451.6 658.4,1444.7 658.9,1449.8 659.5,1454.1 660.0,1452.7 660.6,1447.3 661.1,1445.5 661.7,1447.7 662.2,1445.2 662.7,1448.5 663.3,1454.0 663.8,1451.2 664.4,1449.4 664.9,1452.8 665.5,1450.4 666.0,1451.4 666.6,1448.7 667.1,1445.1 667.6,1446.7 668.2,1448.2 668.7,1452.9 669.3,1452.8 669.8,1452.6 670.4,1452.2 670.9,1450.9 671.5,1446.7 672.0,1446.4 672.6,1447.0 673.1,1447.8 673.6,1443.9 674.2,1435.9 674.7,1443.3 675.3,1436.0 675.8,1430.1 676.4,1428.8 676.9,1418.7 677.5,1415.9 678.0,1408.5 678.5,1404.1 679.1,1403.1 679.6,1406.2 680.2,1410.3 680.7,1424.5 681.3,1430.3 681.8,1434.3 682.4,1434.3 682.9,1431.7 683.4,1434.4 684.0,1441.5 684.5,1436.8 685.1,1438.0 685.6,1436.3 686.2,1435.0 686.7,1430.3 687.3,1438.8 687.8,1438.1 688.3,1438.1 688.9,1443.1 689.4,1436.9 690.0,1440.8 690.5,1447.4 691.1,1440.1 691.6,1447.3 692.2,1444.1 692.7,1446.0 693.3,1444.0 693.8,1450.9 694.3,1444.0 694.9,1449.5 695.4,1446.4 696.0,1446.3 696.5,1446.7 697.1,1445.3 697.6,1439.9 698.2,1446.4 698.7,1447.9 699.2,1448.9 699.8,1449.7 700.3,1446.5 700.9,1446.2 701.4,1445.0 702.0,1443.5 702.5,1451.4 703.1,1447.5 703.6,1444.4 704.1,1451.9 704.7,1445.5 705.2,1450.7 705.8,1445.2 706.3,1444.6 706.9,1445.4 707.4,1451.4 708.0,1452.5 708.5,1454.6 709.0,1450.7 709.6,1452.2 710.1,1451.9 710.7,1451.4 711.2,1451.9 711.8,1461.2 712.3,1462.5 712.9,1450.8 713.4,1450.2 713.9,1452.8 714.5,1454.2 715.0,1452.1 715.6,1449.6 716.1,1448.2 716.7,1452.8 717.2,1448.7 717.8,1453.2 718.3,1454.3 718.9,1450.1 719.4,1450.3 719.9,1454.5 720.5,1452.3 721.0,1452.6 721.6,1449.2 722.1,1447.8 722.7,1449.5 723.2,1450.2 723.8,1448.4 724.3,1453.0 724.8,1451.5 725.4,1447.0 725.9,1453.3 726.5,1446.8 727.0,1449.8 727.6,1455.4 728.1,1452.9 728.7,1448.2 729.2,1446.9 729.7,1444.2 730.3,1442.6 730.8,1447.3 731.4,1446.2 731.9,1451.4 732.5,1449.6 733.0,1450.6 733.6,1453.1 734.1,1453.3 734.6,1452.8 735.2,1452.0 735.7,1450.6 736.3,1450.8 736.8,1446.4 737.4,1452.3 737.9,1453.7 738.5,1447.6 739.0,1444.3 739.6,1443.3 740.1,1443.8 740.6,1436.0 741.2,1438.4 741.7,1423.2 742.3,1420.2 742.8,1424.0 743.4,1428.6 743.9,1443.3 744.5,1445.6 745.0,1446.8 745.5,1453.4 746.1,1451.8 746.6,1455.4 747.2,1447.8 747.7,1448.1 748.3,1448.8 748.8,1451.9 749.4,1452.2 749.9,1452.9 750.4,1447.5 751.0,1447.4 751.5,1445.8 752.1,1446.8 752.6,1448.7 753.2,1447.7 753.7,1449.9 754.3,1442.1 754.8,1449.1 755.3,1450.5 755.9,1451.5 756.4,1446.9 757.0,1446.5 757.5,1445.1 758.1,1453.3 758.6,1448.0 759.2,1451.6 759.7,1444.0 760.3,1451.8 760.8,1452.4 761.3,1448.5 761.9,1458.9 762.4,1451.5 763.0,1453.8 763.5,1454.0 764.1,1452.1 764.6,1455.9 765.2,1456.0 765.7,1456.5 766.2,1458.9 766.8,1455.3 767.3,1451.9 767.9,1452.9 768.4,1453.3 769.0,1453.7 769.5,1451.2 770.1,1448.1 770.6,1452.5 771.1,1451.5 771.7,1452.9 772.2,1450.7 772.8,1448.0 773.3,1454.5 773.9,1451.2 774.4,1452.6 775.0,1452.8 775.5,1457.0 776.0,1454.9 776.6,1451.9 777.1,1456.9 777.7,1448.9 778.2,1443.9 778.8,1451.7 779.3,1450.6 779.9,1452.1 780.4,1454.0 780.9,1455.5 781.5,1452.0 782.0,1451.9 782.6,1454.3 783.1,1451.2 783.7,1448.0 784.2,1453.5 784.8,1453.5 785.3,1446.7 785.9,1446.5 786.4,1449.2 786.9,1449.9 787.5,1447.2 788.0,1453.5 788.6,1452.1 789.1,1448.2 789.7,1453.1 790.2,1451.5 790.8,1447.9 791.3,1450.4 791.8,1457.2 792.4,1452.2 792.9,1451.5 793.5,1450.9 794.0,1451.7 794.6,1451.7 795.1,1448.9 795.7,1449.2 796.2,1451.1 796.7,1442.2 797.3,1450.8 797.8,1449.6 798.4,1447.5 798.9,1451.4 799.5,1456.6 800.0,1448.2 800.6,1452.1 801.1,1451.0 801.6,1448.4 802.2,1449.6 802.7,1451.9 803.3,1447.3 803.8,1458.0 804.4,1454.2 804.9,1457.2 805.5,1451.0 806.0,1456.6 806.6,1457.6 807.1,1456.4 807.6,1455.6 808.2,1453.1 808.7,1448.4 809.3,1449.9 809.8,1448.3 810.4,1449.1 810.9,1452.6 811.5,1444.7 812.0,1448.3 812.5,1447.5 813.1,1440.9 813.6,1435.2 814.2,1428.1 814.7,1421.9 815.3,1428.8 815.8,1428.8 816.4,1437.4 816.9,1440.1 817.4,1444.5 818.0,1441.5 818.5,1449.3 819.1,1449.9 819.6,1449.7 820.2,1446.9 820.7,1445.8 821.3,1447.4 821.8,1452.5 822.3,1450.0 822.9,1449.1 823.4,1453.8 824.0,1452.7 824.5,1454.2 825.1,1449.9 825.6,1450.2 826.2,1444.2 826.7,1453.7 827.3,1448.1 827.8,1449.5 828.3,1445.8 828.9,1451.4 829.4,1451.7 830.0,1446.2 830.5,1453.2 831.1,1448.7 831.6,1450.2 832.2,1452.5 832.7,1448.9 833.2,1451.6 833.8,1445.1 834.3,1448.5 834.9,1452.0 835.4,1448.0 836.0,1447.5 836.5,1451.6 837.1,1446.1 837.6,1444.7 838.1,1441.7 838.7,1439.1 839.2,1439.5 839.8,1434.8 840.3,1426.9 840.9,1429.3 841.4,1435.9 842.0,1450.4 842.5,1442.1 843.0,1447.8 843.6,1453.2 844.1,1447.4 844.7,1450.8 845.2,1450.8 845.8,1453.0 846.3,1456.6 846.9,1449.9 847.4,1451.7 847.9,1451.6 848.5,1448.9 849.0,1453.0 849.6,1450.2 850.1,1451.1 850.7,1455.5 851.2,1453.2 851.8,1447.7 852.3,1446.0 852.9,1445.0 853.4,1435.8 853.9,1430.0 854.5,1426.7 855.0,1426.6 855.6,1441.1 856.1,1443.7 856.7,1449.4 857.2,1451.0 857.8,1454.6 858.3,1453.1 858.8,1451.1 859.4,1454.3 859.9,1455.4 860.5,1454.9 861.0,1451.4 861.6,1451.1 862.1,1449.5 862.7,1448.0 863.2,1451.7 863.7,1451.6 864.3,1449.8 864.8,1447.3 865.4,1450.6 865.9,1455.0 866.5,1448.9 867.0,1453.5 867.6,1453.2 868.1,1448.2 868.6,1449.4 869.2,1444.6 869.7,1446.0 870.3,1450.3 870.8,1450.4 871.4,1447.8 871.9,1450.2 872.5,1459.3 873.0,1454.7 873.6,1456.6 874.1,1455.9 874.6,1453.3 875.2,1452.4 875.7,1455.4 876.3,1456.6 876.8,1453.1 877.4,1453.3 877.9,1448.6 878.5,1448.4 879.0,1452.3 879.5,1450.6 880.1,1449.1 880.6,1449.0 881.2,1452.2 881.7,1450.7 882.3,1448.5 882.8,1454.7 883.4,1456.0 883.9,1445.9 884.4,1449.2 885.0,1451.9 885.5,1451.1 886.1,1453.7 886.6,1453.5 887.2,1448.4 887.7,1450.5 888.3,1450.4 888.8,1452.2 889.3,1452.4 889.9,1447.5 890.4,1448.3 891.0,1445.1 891.5,1441.2 892.1,1439.0 892.6,1438.6 893.2,1434.9 893.7,1436.5 894.3,1431.2 894.8,1435.7 895.3,1439.5 895.9,1441.8 896.4,1441.9 897.0,1445.0 897.5,1450.2 898.1,1446.7 898.6,1447.7 899.2,1447.8 899.7,1444.9 900.2,1448.9 900.8,1445.2 901.3,1449.2 901.9,1447.8 902.4,1446.0 903.0,1449.2 903.5,1451.7 904.1,1448.7 904.6,1450.1 905.1,1450.8 905.7,1451.5 906.2,1452.8 906.8,1455.7 907.3,1452.7 907.9,1458.6 908.4,1458.2 909.0,1456.3 909.5,1454.0 910.0,1452.6 910.6,1452.6 911.1,1456.3 911.7,1453.2 912.2,1456.2 912.8,1454.3 913.3,1457.7 913.9,1457.1 914.4,1455.8 914.9,1458.1 915.5,1460.8 916.0,1451.4 916.6,1457.7 917.1,1453.8 917.7,1455.2 918.2,1453.9 918.8,1452.9 919.3,1450.2 919.9,1449.4 920.4,1452.0 920.9,1450.2 921.5,1453.9 922.0,1450.8 922.6,1456.8 923.1,1454.5 923.7,1454.6 924.2,1459.4 924.8,1454.6 925.3,1460.2 925.8,1452.4 926.4,1456.7 926.9,1456.6 927.5,1456.1 928.0,1453.0 928.6,1454.1 929.1,1457.2 929.7,1450.6 930.2,1452.9 930.7,1451.4 931.3,1453.6 931.8,1452.2 932.4,1451.3 932.9,1452.6 933.5,1458.1 934.0,1454.7 934.6,1452.9 935.1,1459.2 935.6,1455.4 936.2,1454.4 936.7,1453.6 937.3,1457.5 937.8,1454.4 938.4,1453.6 938.9,1453.0 939.5,1452.8 940.0,1454.0 940.6,1445.2 941.1,1449.3 941.6,1452.7 942.2,1454.0 942.7,1456.4 943.3,1453.4 943.8,1454.1 944.4,1448.2 944.9,1451.3 945.5,1452.1 946.0,1453.6 946.5,1450.6 947.1,1451.9 947.6,1450.3 948.2,1455.1 948.7,1454.8 949.3,1454.7 949.8,1456.6 950.4,1453.8 950.9,1448.4 951.4,1454.6 952.0,1456.3 952.5,1456.1 953.1,1450.1 953.6,1453.9 954.2,1454.9 954.7,1450.8 955.3,1446.0 955.8,1446.8 956.3,1449.3 956.9,1446.8 957.4,1445.5 958.0,1435.3 958.5,1437.4 959.1,1429.4 959.6,1416.6 960.2,1408.7 960.7,1401.1 961.2,1410.1 961.8,1417.9 962.3,1421.8 962.9,1426.8 963.4,1438.1 964.0,1444.6 964.5,1444.0 965.1,1443.5 965.6,1449.1 966.2,1444.6 966.7,1446.2 967.2,1444.2 967.8,1440.9 968.3,1446.1 968.9,1450.5 969.4,1450.2 970.0,1454.3 970.5,1454.0 971.1,1456.2 971.6,1451.5 972.1,1456.4 972.7,1453.9 973.2,1452.6 973.8,1450.5 974.3,1454.5 974.9,1446.9 975.4,1447.8 976.0,1454.6 976.5,1458.8 977.0,1457.9 977.6,1455.6 978.1,1451.2 978.7,1454.4 979.2,1453.0 979.8,1450.7 980.3,1455.6 980.9,1454.8 981.4,1453.2 981.9,1457.9 982.5,1452.8 983.0,1456.0 983.6,1453.8 984.1,1454.6 984.7,1452.1 985.2,1449.1 985.8,1453.9 986.3,1454.8 986.9,1450.6 987.4,1450.8 987.9,1452.2 988.5,1453.6 989.0,1452.1 989.6,1456.4 990.1,1450.9 990.7,1451.1 991.2,1447.9 991.8,1452.7 992.3,1449.6 992.8,1447.7 993.4,1454.9 993.9,1448.7 994.5,1452.1 995.0,1448.8 995.6,1449.9 996.1,1455.6 996.7,1446.2 997.2,1448.6 997.7,1448.3 998.3,1449.2 998.8,1447.7 999.4,1449.7 999.9,1442.1 1000.5,1446.6 1001.0,1444.7 1001.6,1447.6 1002.1,1449.8 1002.6,1449.3 1003.2,1446.9 1003.7,1451.7 1004.3,1450.7 1004.8,1446.3 1005.4,1447.6 1005.9,1446.2 1006.5,1448.6 1007.0,1450.8 1007.6,1445.5 1008.1,1449.8 1008.6,1453.3 1009.2,1453.9 1009.7,1444.2 1010.3,1452.9 1010.8,1450.8 1011.4,1448.5 1011.9,1451.6 1012.5,1448.3 1013.0,1448.2 1013.5,1453.8 1014.1,1453.3 1014.6,1452.5 1015.2,1450.3 1015.7,1450.6 1016.3,1454.3 1016.8,1452.8 1017.4,1452.7 1017.9,1456.0 1018.4,1453.2 1019.0,1453.7 1019.5,1454.0 1020.1,1449.0 1020.6,1452.9 1021.2,1452.7 1021.7,1451.3 1022.3,1453.3 1022.8,1453.2 1023.3,1453.8 1023.9,1452.0 1024.4,1457.2 1025.0,1454.6 1025.5,1454.8 1026.1,1451.3 1026.6,1451.1 1027.2,1451.6 1027.7,1450.8 1028.2,1448.3 1028.8,1449.2 1029.3,1450.3 1029.9,1450.3 1030.4,1446.4 1031.0,1449.8 1031.5,1449.3 1032.1,1454.0 1032.6,1453.8 1033.2,1451.1 1033.7,1450.4 1034.2,1450.9 1034.8,1451.7 1035.3,1454.6 1035.9,1452.2 1036.4,1454.3 1037.0,1452.0 1037.5,1450.4 1038.1,1454.9 1038.6,1455.0 1039.1,1453.5 1039.7,1452.7 1040.2,1450.4 1040.8,1451.5 1041.3,1454.6 1041.9,1453.4 1042.4,1456.6 1043.0,1457.2 1043.5,1458.8 1044.0,1454.9 1044.6,1460.4 1045.1,1460.9 1045.7,1457.9 1046.2,1459.3 1046.8,1459.1 1047.3,1453.2 1047.9,1455.3 1048.4,1454.8 1048.9,1450.3 1049.5,1454.0 1050.0,1451.4 1050.6,1455.1 1051.1,1452.5 1051.7,1451.1 1052.2,1448.1 1052.8,1451.5 1053.3,1452.3 1053.9,1448.0 1054.4,1445.2 1054.9,1446.0 1055.5,1450.8 1056.0,1445.9 1056.6,1445.2 1057.1,1440.5 1057.7,1432.8 1058.2,1418.5 1058.8,1408.3 1059.3,1413.4 1059.8,1426.0 1060.4,1438.7 1060.9,1442.6 1061.5,1443.1 1062.0,1448.8 1062.6,1448.1 1063.1,1449.3 1063.7,1451.5 1064.2,1451.5 1064.7,1448.2 1065.3,1448.0 1065.8,1451.1 1066.4,1447.7 1066.9,1447.8 1067.5,1450.8 1068.0,1446.6 1068.6,1446.3 1069.1,1447.0 1069.6,1440.8 1070.2,1443.1 1070.7,1445.1 1071.3,1442.1 1071.8,1444.7 1072.4,1445.2 1072.9,1438.4 1073.5,1430.8 1074.0,1419.3 1074.6,1409.2 1075.1,1399.0 1075.6,1409.8 1076.2,1413.6 1076.7,1424.7 1077.3,1429.8 1077.8,1430.0 1078.4,1431.7 1078.9,1424.6 1079.5,1414.6 1080.0,1404.1 1080.5,1391.2 1081.1,1384.9 1081.6,1390.3 1082.2,1399.4 1082.7,1413.7 1083.3,1425.0 1083.8,1436.6 1084.4,1444.8 1084.9,1447.6 1085.4,1449.9 1086.0,1443.3 1086.5,1447.2 1087.1,1446.7 1087.6,1449.6 1088.2,1445.3 1088.7,1446.5 1089.3,1450.6 1089.8,1449.1 1090.3,1445.4 1090.9,1452.8 1091.4,1449.1 1092.0,1450.4 1092.5,1454.6 1093.1,1450.8 1093.6,1455.6 1094.2,1455.8 1094.7,1455.9 1095.2,1454.7 1095.8,1452.3 1096.3,1451.0 1096.9,1456.7 1097.4,1449.8 1098.0,1448.6 1098.5,1442.9 1099.1,1440.7 1099.6,1438.4 1100.2,1435.9 1100.7,1432.8 1101.2,1438.7 1101.8,1440.4 1102.3,1445.9 1102.9,1441.3 1103.4,1452.1 1104.0,1450.0 1104.5,1450.4 1105.1,1448.2 1105.6,1453.1 1106.1,1454.7 1106.7,1446.5 1107.2,1451.0 1107.8,1449.9 1108.3,1446.8 1108.9,1444.6 1109.4,1449.8 1110.0,1453.9 1110.5,1456.3 1111.0,1456.3 1111.6,1454.9 1112.1,1451.1 1112.7,1458.4 1113.2,1458.8 1113.8,1457.3 1114.3,1455.2 1114.9,1453.9 1115.4,1450.7 1115.9,1452.8 1116.5,1455.7 1117.0,1447.7 1117.6,1448.9 1118.1,1448.5 1118.7,1450.0 1119.2,1449.8 1119.8,1452.3 1120.3,1454.9 1120.9,1453.0 1121.4,1449.5 1121.9,1453.7 1122.5,1452.2 1123.0,1452.0 1123.6,1455.9 1124.1,1452.3 1124.7,1449.8 1125.2,1455.6 1125.8,1451.6 1126.3,1452.1 1126.8,1454.6 1127.4,1454.7 1127.9,1450.2 1128.5,1449.1 1129.0,1450.0 1129.6,1450.0 1130.1,1453.2 1130.7,1450.4 1131.2,1450.9 1131.7,1448.4 1132.3,1446.9 1132.8,1450.7 1133.4,1452.4 1133.9,1449.8 1134.5,1451.0 1135.0,1450.3 1135.6,1448.3 1136.1,1445.4 1136.6,1444.2 1137.2,1450.7 1137.7,1449.0 1138.3,1450.3 1138.8,1445.7 1139.4,1446.8 1139.9,1444.9 1140.5,1447.4 1141.0,1444.1 1141.6,1443.8 1142.1,1445.0 1142.6,1445.7 1143.2,1441.5 1143.7,1442.2 1144.3,1438.2 1144.8,1431.4 1145.4,1435.1 1145.9,1431.3 1146.5,1429.3 1147.0,1426.3 1147.5,1429.1 1148.1,1427.0 1148.6,1424.9 1149.2,1427.3 1149.7,1431.8 1150.3,1430.7 1150.8,1431.4 1151.4,1431.9 1151.9,1435.1 1152.4,1437.9 1153.0,1441.7 1153.5,1441.7 1154.1,1443.4 1154.6,1442.2 1155.2,1437.5 1155.7,1442.2 1156.3,1439.8 1156.8,1437.8 1157.3,1441.8 1157.9,1437.8 1158.4,1437.0 1159.0,1437.2 1159.5,1432.5 1160.1,1432.9 1160.6,1428.3 1161.2,1421.8 1161.7,1417.9 1162.2,1401.9 1162.8,1391.7 1163.3,1375.5 1163.9,1354.7 1164.4,1327.8 1165.0,1310.3 1165.5,1282.5 1166.1,1267.7 1166.6,1271.6 1167.2,1290.2 1167.7,1309.9 1168.2,1331.8 1168.8,1350.3 1169.3,1375.7 1169.9,1393.2 1170.4,1403.9 1171.0,1417.4 1171.5,1424.0 1172.1,1430.1 1172.6,1431.4 1173.1,1430.1 1173.7,1430.7 1174.2,1431.0 1174.8,1429.8 1175.3,1427.7 1175.9,1424.7 1176.4,1421.3 1177.0,1417.1 1177.5,1412.6 1178.0,1411.3 1178.6,1413.8 1179.1,1420.4 1179.7,1426.4 1180.2,1431.1 1180.8,1435.0 1181.3,1441.8 1181.9,1441.2 1182.4,1446.6 1182.9,1444.9 1183.5,1448.6 1184.0,1452.2 1184.6,1452.5 1185.1,1452.8 1185.7,1451.1 1186.2,1453.6 1186.8,1456.3 1187.3,1452.5 1187.9,1453.4 1188.4,1454.9 1188.9,1455.1 1189.5,1456.7 1190.0,1457.9 1190.6,1458.8 1191.1,1458.7 1191.7,1458.8 1192.2,1456.6 1192.8,1456.4 1193.3,1456.6 1193.8,1450.3 1194.4,1455.1 1194.9,1456.2 1195.5,1455.6 1196.0,1454.0 1196.6,1454.1 1197.1,1453.3 1197.7,1453.3 1198.2,1452.1 1198.7,1453.2 1199.3,1455.1 1199.8,1453.5 1200.4,1460.5 1200.9,1455.6 1201.5,1458.5 1202.0,1455.2 1202.6,1455.7 1203.1,1452.6 1203.6,1457.3 1204.2,1452.3 1204.7,1453.0 1205.3,1454.6 1205.8,1454.6 1206.4,1456.8 1206.9,1451.0 1207.5,1453.1 1208.0,1448.1 1208.6,1449.1 1209.1,1448.5 1209.6,1440.4 1210.2,1445.5 1210.7,1446.8 1211.3,1444.0 1211.8,1444.1 1212.4,1430.3 1212.9,1425.7 1213.5,1427.1 1214.0,1435.5 1214.5,1439.0 1215.1,1442.1 1215.6,1442.0 1216.2,1443.5 1216.7,1446.4 1217.3,1443.7 1217.8,1444.6 1218.4,1449.9 1218.9,1444.1 1219.4,1447.5 1220.0,1445.2 1220.5,1448.3 1221.1,1449.8 1221.6,1452.4 1222.2,1451.1 1222.7,1451.9 1223.3,1452.4 1223.8,1453.2 1224.3,1455.2 1224.9,1458.1 1225.4,1449.9 1226.0,1455.3 1226.5,1454.1 1227.1,1452.2 1227.6,1455.9 1228.2,1452.2 1228.7,1453.3 1229.2,1456.3 1229.8,1453.5 1230.3,1457.6 1230.9,1457.1 1231.4,1459.4 1232.0,1460.5 1232.5,1460.7 1233.1,1457.2 1233.6,1461.9 1234.2,1458.6 1234.7,1460.8 1235.2,1459.5 1235.8,1460.3 1236.3,1458.5 1236.9,1461.7 1237.4,1459.6 1238.0,1458.6 1238.5,1457.8 1239.1,1460.1 1239.6,1458.1 1240.1,1456.8 1240.7,1460.0 1241.2,1457.2 1241.8,1453.1 1242.3,1456.5 1242.9,1452.3 1243.4,1454.8 1244.0,1453.7 1244.5,1454.9 1245.0,1458.6 1245.6,1458.9 1246.1,1458.7 1246.7,1456.1 1247.2,1453.7 1247.8,1451.3 1248.3,1449.1 1248.9,1453.1 1249.4,1451.7 1249.9,1451.7 1250.5,1456.7 1251.0,1453.8 1251.6,1456.5 1252.1,1456.5 1252.7,1456.5 1253.2,1454.7 1253.8,1455.3 1254.3,1451.3 1254.9,1447.1 1255.4,1451.2 1255.9,1452.2 1256.5,1449.1 1257.0,1451.9 1257.6,1446.2 1258.1,1449.3 1258.7,1449.8 1259.2,1451.4 1259.8,1447.6 1260.3,1448.7 1260.8,1450.2 1261.4,1450.9 1261.9,1448.6 1262.5,1449.9 1263.0,1452.5 1263.6,1454.8 1264.1,1454.2 1264.7,1452.3 1265.2,1451.2 1265.7,1451.5 1266.3,1452.3 1266.8,1451.4 1267.4,1452.1 1267.9,1449.7 1268.5,1453.3 1269.0,1453.4 1269.6,1454.6 1270.1,1451.8 1270.6,1450.4 1271.2,1449.7 1271.7,1455.0 1272.3,1452.2 1272.8,1449.7 1273.4,1453.4 1273.9,1454.0 1274.5,1445.7 1275.0,1452.2 1275.6,1452.0 1276.1,1454.7 1276.6,1454.3 1277.2,1456.2 1277.7,1454.1 1278.3,1454.8 1278.8,1455.2 1279.4,1455.9 1279.9,1453.7 1280.5,1456.0 1281.0,1451.2 1281.5,1452.3 1282.1,1455.0 1282.6,1452.3 1283.2,1451.3 1283.7,1454.6 1284.3,1451.2 1284.8,1449.6 1285.4,1450.5 1285.9,1445.1 1286.4,1444.0 1287.0,1440.5 1287.5,1436.0 1288.1,1434.1 1288.6,1428.1 1289.2,1428.2 1289.7,1429.6 1290.3,1429.9 1290.8,1430.4 1291.3,1431.6 1291.9,1434.7 1292.4,1437.0 1293.0,1437.4 1293.5,1437.5 1294.1,1436.0 1294.6,1441.9 1295.2,1442.7 1295.7,1443.2 1296.2,1446.7 1296.8,1447.0 1297.3,1443.9 1297.9,1441.8 1298.4,1438.1 1299.0,1438.5 1299.5,1431.7 1300.1,1428.9 1300.6,1420.6 1301.2,1421.5 1301.7,1427.3 1302.2,1432.2 1302.8,1438.3 1303.3,1444.7 1303.9,1448.8 1304.4,1452.7 1305.0,1451.6 1305.5,1451.3 1306.1,1452.2 1306.6,1452.8 1307.1,1451.2 1307.7,1456.8 1308.2,1455.4 1308.8,1456.8 1309.3,1456.8 1309.9,1455.0 1310.4,1454.6 1311.0,1453.5 1311.5,1449.8 1312.0,1447.8 1312.6,1444.6 1313.1,1442.2 1313.7,1431.2 1314.2,1426.0 1314.8,1422.8 1315.3,1422.6 1315.9,1423.3 1316.4,1432.7 1316.9,1433.3 1317.5,1438.3 1318.0,1439.8 1318.6,1446.3 1319.1,1442.5 1319.7,1445.3 1320.2,1445.8 1320.8,1444.0 1321.3,1444.2 1321.9,1447.8 1322.4,1443.5 1322.9,1445.0 1323.5,1446.5 1324.0,1444.8 1324.6,1445.0 1325.1,1447.2 1325.7,1444.5 1326.2,1445.1 1326.8,1441.8 1327.3,1440.4 1327.8,1437.6 1328.4,1432.6 1328.9,1426.9 1329.5,1420.5 1330.0,1411.7 1330.6,1404.5 1331.1,1393.0 1331.7,1376.6 1332.2,1355.1 1332.7,1332.7 1333.3,1305.4 1333.8,1267.1 1334.4,1234.3 1334.9,1196.5 1335.5,1172.8 1336.0,1172.1 1336.6,1193.4 1337.1,1222.7 1337.6,1258.1 1338.2,1291.4 1338.7,1318.9 1339.3,1347.3 1339.8,1368.0 1340.4,1390.0 1340.9,1406.0 1341.5,1415.4 1342.0,1422.7 1342.6,1431.4 1343.1,1436.1 1343.6,1438.3 1344.2,1440.8 1344.7,1440.7 1345.3,1443.9 1345.8,1443.9 1346.4,1445.3 1346.9,1443.0 1347.5,1441.4 1348.0,1443.2 1348.5,1446.3 1349.1,1443.3 1349.6,1448.8 1350.2,1449.8 1350.7,1449.2 1351.3,1451.4 1351.8,1449.9 1352.4,1449.8 1352.9,1447.6 1353.4,1446.4 1354.0,1446.6 1354.5,1444.5 1355.1,1444.0 1355.6,1438.6 1356.2,1442.1 1356.7,1438.7 1357.3,1433.2 1357.8,1434.7 1358.3,1437.8 1358.9,1435.4 1359.4,1438.3 1360.0,1439.7 1360.5,1440.9 1361.1,1436.8 1361.6,1442.7 1362.2,1439.0 1362.7,1438.8 1363.2,1438.3 1363.8,1440.7 1364.3,1438.1 1364.9,1437.6 1365.4,1436.3 1366.0,1439.3 1366.5,1442.9 1367.1,1441.5 1367.6,1442.0 1368.2,1439.4 1368.7,1441.8 1369.2,1441.7 1369.8,1443.0 1370.3,1440.6 1370.9,1437.4 1371.4,1439.3 1372.0,1440.8 1372.5,1440.2 1373.1,1440.7 1373.6,1441.9 1374.1,1441.4 1374.7,1443.6 1375.2,1447.7 1375.8,1445.1 1376.3,1448.4 1376.9,1444.5 1377.4,1443.0 1378.0,1446.9 1378.5,1444.5 1379.0,1447.8 1379.6,1449.0 1380.1,1450.9 1380.7,1449.3 1381.2,1451.3 1381.8,1449.1 1382.3,1451.1 1382.9,1453.7 1383.4,1454.3 1383.9,1456.6 1384.5,1452.2 1385.0,1454.4 1385.6,1455.5 1386.1,1450.0 1386.7,1451.4 1387.2,1451.1 1387.8,1452.1 1388.3,1449.1 1388.9,1454.2 1389.4,1452.9 1389.9,1454.3 1390.5,1450.3 1391.0,1452.3 1391.6,1448.7 1392.1,1449.6 1392.7,1447.1 1393.2,1444.9 1393.8,1446.5 1394.3,1447.9 1394.8,1448.4 1395.4,1453.0 1395.9,1455.9 1396.5,1450.5 1397.0,1450.2 1397.6,1452.6 1398.1,1450.1 1398.7,1447.5 1399.2,1447.5 1399.7,1449.2 1400.3,1450.3 1400.8,1451.2 1401.4,1451.3 1401.9,1452.0 1402.5,1450.1 1403.0,1447.1 1403.6,1445.4 1404.1,1441.9 1404.6,1435.5 1405.2,1428.1 1405.7,1417.7 1406.3,1408.1 1406.8,1397.7 1407.4,1382.9 1407.9,1373.0 1408.5,1360.3 1409.0,1347.1 1409.5,1334.3 1410.1,1319.1 1410.6,1302.8 1411.2,1287.2 1411.7,1269.9 1412.3,1249.4 1412.8,1231.6 1413.4,1206.8 1413.9,1183.5 1414.5,1155.0 1415.0,1125.0 1415.5,1099.6 1416.1,1065.8 1416.6,1033.3 1417.2,1004.1 1417.7,976.3 1418.3,947.9 1418.8,916.2 1419.4,887.1 1419.9,882.7 1420.4,912.5 1421.0,942.1 1421.5,975.4 1422.1,1001.3 1422.6,1035.1 1423.2,1068.3 1423.7,1092.2 1424.3,1126.7 1424.8,1149.9 1425.3,1179.5 1425.9,1205.9 1426.4,1225.8 1427.0,1250.8 1427.5,1265.8 1428.1,1285.4 1428.6,1303.2 1429.2,1317.4 1429.7,1332.7 1430.2,1345.4 1430.8,1357.9 1431.3,1370.1 1431.9,1382.1 1432.4,1394.4 1433.0,1405.4 1433.5,1416.0 1434.1,1425.5 1434.6,1436.8 1435.2,1439.4 1435.7,1444.0 1436.2,1450.3 1436.8,1446.2 1437.3,1452.0 1437.9,1452.1 1438.4,1452.5 1439.0,1454.9 1439.5,1454.3 1440.1,1459.5 1440.6,1460.7 1441.1,1460.5 1441.7,1458.4 1442.2,1455.0 1442.8,1454.9 1443.3,1451.4 1443.9,1446.3 1444.4,1449.2 1445.0,1451.0 1445.5,1454.6 1446.0,1456.7 1446.6,1452.3 1447.1,1455.6 1447.7,1455.0 1448.2,1452.8 1448.8,1451.1 1449.3,1449.5 1449.9,1445.4 1450.4,1446.2 1450.9,1447.8 1451.5,1447.2 1452.0,1447.0 1452.6,1449.8 1453.1,1448.0 1453.7,1450.7 1454.2,1451.0 1454.8,1450.6 1455.3,1448.9 1455.9,1448.2 1456.4,1449.3 1456.9,1450.9 1457.5,1448.5 1458.0,1450.1 1458.6,1448.6 1459.1,1447.7 1459.7,1450.4 1460.2,1449.2 1460.8,1448.0 1461.3,1447.9 1461.8,1450.9 1462.4,1450.8 1462.9,1451.2 1463.5,1453.3 1464.0,1454.6 1464.6,1456.6 1465.1,1459.2 1465.7,1455.0 1466.2,1460.8 1466.7,1459.6 1467.3,1461.8 1467.8,1464.9 1468.4,1460.0 1468.9,1460.4 1469.5,1456.6 1470.0,1453.8 1470.6,1451.5 1471.1,1449.1 1471.6,1452.4 1472.2,1444.9 1472.7,1447.8 1473.3,1444.5 1473.8,1446.2 1474.4,1444.7 1474.9,1446.0 1475.5,1446.4 1476.0,1444.1 1476.5,1448.3 1477.1,1452.2 1477.6,1448.8 1478.2,1448.4 1478.7,1445.0 1479.3,1443.9 1479.8,1448.9 1480.4,1446.7 1480.9,1445.0 1481.5,1450.2 1482.0,1452.3 1482.5,1451.1 1483.1,1454.7 1483.6,1454.0 1484.2,1453.5 1484.7,1452.0 1485.3,1452.9 1485.8,1453.2 1486.4,1453.5 1486.9,1455.7 1487.4,1455.9 1488.0,1455.4 1488.5,1456.8 1489.1,1455.3 1489.6,1455.6 1490.2,1454.6 1490.7,1451.1 1491.3,1450.6 1491.8,1451.1 1492.3,1450.7 1492.9,1454.3 1493.4,1452.8 1494.0,1454.0 1494.5,1458.3 1495.1,1458.5 1495.6,1456.1 1496.2,1456.0 1496.7,1455.6 1497.2,1451.4 1497.8,1451.3 1498.3,1453.2 1498.9,1455.0 1499.4,1458.5 1500.0,1459.1 1500.5,1457.9 1501.1,1461.2 1501.6,1463.9 1502.2,1458.9 1502.7,1457.7 1503.2,1456.3 1503.8,1459.9 1504.3,1460.6 1504.9,1458.2 1505.4,1457.7 1506.0,1460.3 1506.5,1459.2 1507.1,1457.0 1507.6,1454.2 1508.1,1451.7 1508.7,1453.1 1509.2,1450.9 1509.8,1449.3 1510.3,1451.3 1510.9,1451.4 1511.4,1453.2 1512.0,1455.1 1512.5,1453.0 1513.0,1458.0 1513.6,1457.8 1514.1,1457.5 1514.7,1456.8 1515.2,1458.5 1515.8,1458.0 1516.3,1458.6 1516.9,1457.0 1517.4,1458.2 1517.9,1456.4 1518.5,1456.9 1519.0,1456.2 1519.6,1457.6 1520.1,1456.7 1520.7,1455.4 1521.2,1454.8 1521.8,1455.8 1522.3,1457.2 1522.9,1456.8 1523.4,1456.6 1523.9,1455.4 1524.5,1457.6 1525.0,1456.0 1525.6,1456.6 1526.1,1457.1 1526.7,1457.1 1527.2,1461.0 1527.8,1457.9 1528.3,1456.3 1528.8,1454.2 1529.4,1451.0 1529.9,1449.0 1530.5,1446.6 1531.0,1445.5 1531.6,1445.6 1532.1,1449.8 1532.7,1446.7 1533.2,1449.6 1533.7,1455.2 1534.3,1454.0 1534.8,1449.3 1535.4,1448.0 1535.9,1448.9 1536.5,1448.1 1537.0,1448.4 1537.6,1448.2 1538.1,1451.1 1538.6,1454.9 1539.2,1451.8 1539.7,1455.0 1540.3,1453.2 1540.8,1455.0 1541.4,1454.2 1541.9,1455.8 1542.5,1456.7 1543.0,1454.8 1543.5,1455.8 1544.1,1456.8 1544.6,1454.0 1545.2,1451.0 1545.7,1452.3 1546.3,1451.3 1546.8,1447.0 1547.4,1440.6 1547.9,1440.0 1548.5,1436.9 1549.0,1437.1 1549.5,1439.7 1550.1,1439.5 1550.6,1440.7 1551.2,1444.4 1551.7,1445.9 1552.3,1447.5 1552.8,1449.0 1553.4,1448.4 1553.9,1449.8 1554.4,1451.0 1555.0,1452.2 1555.5,1451.6 1556.1,1455.4 1556.6,1454.8 1557.2,1453.7 1557.7,1457.2 1558.3,1457.0 1558.8,1455.0 1559.3,1456.0 1559.9,1455.4 1560.4,1454.6 1561.0,1452.3 1561.5,1454.3 1562.1,1455.0 1562.6,1453.8 1563.2,1452.3 1563.7,1452.4 1564.2,1454.1 1564.8,1452.5 1565.3,1453.3 1565.9,1452.1 1566.4,1450.7 1567.0,1455.5 1567.5,1455.3 1568.1,1453.0 1568.6,1453.8 1569.2,1453.9 1569.7,1455.0 1570.2,1454.1 1570.8,1455.8 1571.3,1455.7 1571.9,1451.5 1572.4,1451.7 1573.0,1453.5 1573.5,1454.8 1574.1,1450.1 1574.6,1451.2 1575.1,1451.8 1575.7,1450.5 1576.2,1452.0 1576.8,1454.6 1577.3,1453.9 1577.9,1452.1 1578.4,1454.4 1579.0,1454.1 1579.5,1454.9 1580.0,1457.3 1580.6,1457.2 1581.1,1457.3 1581.7,1456.8 1582.2,1455.6 1582.8,1454.8 1583.3,1455.3 1583.9,1455.2 1584.4,1452.5 1584.9,1453.9 1585.5,1456.8 1586.0,1459.6 1586.6,1460.6 1587.1,1463.3 1587.7,1464.6 1588.2,1463.6 1588.8,1462.1 1589.3,1464.1 1589.9,1464.4 1590.4,1465.1 1590.9,1461.8 1591.5,1460.1 1592.0,1456.5 1592.6,1454.2 1593.1,1451.9 1593.7,1449.8 1594.2,1450.3 1594.8,1449.0 1595.3,1451.8 1595.8,1450.0 1596.4,1452.1 1596.9,1450.7 1597.5,1453.2 1598.0,1447.8 1598.6,1451.9 1599.1,1450.3 1599.7,1450.5 1600.2,1450.7 1600.7,1452.6 1601.3,1454.5 1601.8,1455.7 1602.4,1456.2 1602.9,1455.0 1603.5,1455.1 1604.0,1455.8 1604.6,1455.3 1605.1,1456.0 1605.6,1456.6 1606.2,1456.4 1606.7,1454.8 1607.3,1455.0 1607.8,1450.5 1608.4,1449.9 1608.9,1452.5 1609.5,1452.0 1610.0,1455.1 1610.5,1457.1 1611.1,1460.0 1611.6,1461.7 1612.2,1461.5 1612.7,1458.4 1613.3,1458.2 1613.8,1456.2 1614.4,1454.3 1614.9,1452.1 1615.5,1454.0 1616.0,1451.1 1616.5,1453.3 1617.1,1453.8 1617.6,1454.6 1618.2,1454.5 1618.7,1453.3 1619.3,1450.1 1619.8,1449.3 1620.4,1449.1 1620.9,1450.3 1621.4,1453.4 1622.0,1450.9 1622.5,1451.6 1623.1,1454.4 1623.6,1455.2 1624.2,1454.8 1624.7,1454.1 1625.3,1455.7 1625.8,1458.2 1626.3,1456.2 1626.9,1457.1 1627.4,1458.5 1628.0,1458.8 1628.5,1461.4 1629.1,1460.1 1629.6,1462.6 1630.2,1459.3 1630.7,1460.0 1631.2,1459.9 1631.8,1455.1 1632.3,1454.6 1632.9,1455.0 1633.4,1452.6 1634.0,1452.4 1634.5,1450.1 1635.1,1449.9 1635.6,1446.4 1636.2,1449.3 1636.7,1452.5 1637.2,1451.5 1637.8,1454.8 1638.3,1458.1 1638.9,1457.2 1639.4,1455.0 1640.0,1456.7 1640.5,1453.6 1641.1,1454.0 1641.6,1452.6 1642.1,1456.1 1642.7,1455.0 1643.2,1456.3 1643.8,1455.5 1644.3,1457.0 1644.9,1456.3 1645.4,1451.5 1646.0,1450.1 1646.5,1445.2 1647.0,1442.8 1647.6,1441.3 1648.1,1438.7 1648.7,1442.2 1649.2,1440.1 1649.8,1443.8 1650.3,1445.4 1650.9,1445.9 1651.4,1448.5 1651.9,1448.2 1652.5,1449.4 1653.0,1452.1 1653.6,1449.9 1654.1,1449.9 1654.7,1450.9 1655.2,1449.1 1655.8,1448.3 1656.3,1446.4 1656.9,1449.3 1657.4,1449.4 1657.9,1450.6 1658.5,1449.8 1659.0,1449.7 1659.6,1451.4 1660.1,1450.8 1660.7,1450.5 1661.2,1449.2 1661.8,1449.7 1662.3,1446.2 1662.8,1450.0 1663.4,1451.9 1663.9,1453.7 1664.5,1454.9 1665.0,1459.1 1665.6,1460.0 1666.1,1458.0 1666.7,1456.5 1667.2,1453.2 1667.7,1452.2 1668.3,1450.4 1668.8,1453.0 1669.4,1452.5 1669.9,1451.1 1670.5,1451.5 1671.0,1450.8 1671.6,1450.3 1672.1,1450.0 1672.6,1450.3 1673.2,1453.4 1673.7,1451.4 1674.3,1453.8 1674.8,1453.2 1675.4,1452.3 1675.9,1452.1 1676.5,1451.4 1677.0,1451.7 1677.5,1452.6 1678.1,1450.0 1678.6,1452.0 1679.2,1451.5 1679.7,1450.1 1680.3,1449.0 1680.8,1443.6 1681.4,1438.8 1681.9,1434.3 1682.5,1430.2 1683.0,1425.7 1683.5,1426.0 1684.1,1430.8 1684.6,1436.4 1685.2,1442.1 1685.7,1446.4 1686.3,1448.3 1686.8,1450.4 1687.4,1451.3 1687.9,1450.8 1688.4,1450.4 1689.0,1450.1 1689.5,1450.3 1690.1,1449.0 1690.6,1450.3 1691.2,1449.3 1691.7,1449.9 1692.3,1447.8 1692.8,1448.7 1693.3,1454.3 1693.9,1453.7 1694.4,1456.3 1695.0,1457.4 1695.5,1459.2 1696.1,1456.9 1696.6,1457.4 1697.2,1454.1 1697.7,1453.1 1698.2,1449.2 1698.8,1449.3 1699.3,1451.1 1699.9,1453.1 1700.4,1453.6 1701.0,1454.7 1701.5,1454.7 1702.1,1452.5 1702.6,1453.9 1703.2,1452.0 1703.7,1449.7 1704.2,1449.1 1704.8,1448.6 1705.3,1450.6 1705.9,1453.6 1706.4,1455.9 1707.0,1457.9 1707.5,1461.9 1708.1,1460.3 1708.6,1456.4 1709.1,1454.1 1709.7,1452.3 1710.2,1448.6 1710.8,1448.2 1711.3,1447.3 1711.9,1450.8 1712.4,1449.8 1713.0,1449.0 1713.5,1450.0 1714.0,1451.3 1714.6,1450.2 1715.1,1451.1 1715.7,1452.8 1716.2,1452.1 1716.8,1454.8 1717.3,1453.9 1717.9,1455.4 1718.4,1454.2 1718.9,1453.7 1719.5,1453.4 1720.0,1456.3 1720.6,1457.5 1721.1,1458.1 1721.7,1460.5 1722.2,1461.9 1722.8,1461.6 1723.3,1462.0 1723.9,1460.7 1724.4,1457.6 1724.9,1456.0 1725.5,1456.1 1726.0,1455.5 1726.6,1457.7 1727.1,1458.7 1727.7,1460.2 1728.2,1463.1 1728.8,1463.4 1729.3,1462.5 1729.8,1462.4 1730.4,1459.9 1730.9,1458.6 1731.5,1456.0 1732.0,1456.1 1732.6,1455.7 1733.1,1454.5 1733.7,1454.9 1734.2,1451.4 1734.7,1451.7 1735.3,1451.7 1735.8,1453.3 1736.4,1451.9 1736.9,1454.6 1737.5,1455.0 1738.0,1456.1 1738.6,1456.9 1739.1,1457.6 1739.6,1458.5 1740.2,1458.6 1740.7,1458.8 1741.3,1458.6 1741.8,1459.8 1742.4,1459.9 1742.9,1459.5 1743.5,1460.2 1744.0,1459.8 1744.5,1461.6 1745.1,1461.4 1745.6,1460.0 1746.2,1463.3 1746.7,1461.9 1747.3,1461.8 1747.8,1460.6 1748.4,1458.3 1748.9,1457.8 1749.5,1455.9 1750.0,1456.3 1750.5,1453.8 1751.1,1454.2 1751.6,1452.2 1752.2,1451.3 1752.7,1452.5 1753.3,1453.0 1753.8,1451.9 1754.4,1452.7 1754.9,1454.8 1755.4,1454.6 1756.0,1453.7 1756.5,1452.0 1757.1,1451.7 1757.6,1451.7 1758.2,1452.2 1758.7,1451.9 1759.3,1453.0 1759.8,1455.0 1760.3,1457.1 1760.9,1458.9 1761.4,1459.0 1762.0,1457.6 1762.5,1455.8 1763.1,1452.3 1763.6,1448.5 1764.2,1446.7 1764.7,1446.5 1765.2,1447.0 1765.8,1449.5 1766.3,1451.1 1766.9,1452.5 1767.4,1452.9 1768.0,1453.4 1768.5,1453.0 1769.1,1450.8 1769.6,1450.7 1770.2,1449.8 1770.7,1450.8 1771.2,1453.7 1771.8,1454.3 1772.3,1454.1 1772.9,1458.5 1773.4,1458.1 1774.0,1455.1 1774.5,1453.9 1775.1,1453.9 1775.6,1449.7 1776.1,1448.9 1776.7,1448.4 1777.2,1449.9 1777.8,1452.8 1778.3,1454.6 1778.9,1458.6 1779.4,1459.0 1780.0,1457.9 1780.5,1455.5 1781.0,1455.7 1781.6,1454.2 1782.1,1454.3 1782.7,1454.8 1783.2,1452.8 1783.8,1453.0 1784.3,1453.1 1784.9,1453.9 1785.4,1454.8 1785.9,1452.1 1786.5,1452.4 1787.0,1449.6 1787.6,1450.1 1788.1,1451.0 1788.7,1449.1 1789.2,1452.2 1789.8,1455.2 1790.3,1457.1 1790.8,1459.2 1791.4,1461.5 1791.9,1460.5 1792.5,1460.4 1793.0,1458.4 1793.6,1457.8 1794.1,1457.5 1794.7,1456.0 1795.2,1456.5 1795.8,1457.9 1796.3,1458.2 1796.8,1458.1 1797.4,1461.0 1797.9,1459.5 1798.5,1458.5 1799.0,1460.7 1799.6,1459.7 1800.1,1462.6 1800.7,1459.7 1801.2,1459.7 1801.7,1458.0 1802.3,1459.4 1802.8,1459.2 1803.4,1458.8 1803.9,1459.2 1804.5,1461.4 1805.0,1461.6 1805.6,1462.3 1806.1,1462.4 1806.6,1461.7 1807.2,1462.9 1807.7,1461.4 1808.3,1464.5 1808.8,1464.0 1809.4,1463.1 1809.9,1463.3 1810.5,1461.1 1811.0,1460.9 1811.5,1460.8 1812.1,1457.6 1812.6,1456.5 1813.2,1454.1 1813.7,1453.3 1814.3,1452.0 1814.8,1449.6 1815.4,1447.8 1815.9,1448.3 1816.5,1444.0 1817.0,1445.7 1817.5,1445.4 1818.1,1443.9 1818.6,1446.1 1819.2,1443.5 1819.7,1446.1 1820.3,1445.7 1820.8,1448.1 1821.4,1449.5 1821.9,1446.5 1822.4,1448.6 1823.0,1446.8 1823.5,1449.1 1824.1,1449.3 1824.6,1448.7 1825.2,1453.8 1825.7,1457.2 1826.3,1457.0 1826.8,1460.5 1827.3,1464.7 1827.9,1460.9 1828.4,1458.7 1829.0,1455.8 1829.5,1452.3 1830.1,1450.2 1830.6,1449.9 1831.2,1449.2 1831.7,1449.3 1832.2,1449.8 1832.8,1450.7 1833.3,1449.4 1833.9,1451.8 1834.4,1453.1 1835.0,1454.3 1835.5,1455.0 1836.1,1457.8 1836.6,1458.2 1837.2,1458.6 1837.7,1459.6 1838.2,1461.4 1838.8,1462.2 1839.3,1463.6 1839.9,1463.2 1840.4,1462.4 1841.0,1463.0 1841.5,1462.7 1842.1,1463.6 1842.6,1465.9 1843.1,1462.3 1843.7,1460.5 1844.2,1461.3 1844.8,1460.8 1845.3,1459.9 1845.9,1459.7 1846.4,1459.3 1847.0,1458.0 1847.5,1460.7 1848.0,1459.2 1848.6,1456.4 1849.1,1460.4 1849.7,1460.5 1850.2,1459.4 1850.8,1459.1 1851.3,1461.1 1851.9,1458.9 1852.4,1457.8 1852.9,1454.5 1853.5,1452.6 1854.0,1451.2 1854.6,1449.0 1855.1,1450.8 1855.7,1453.3 1856.2,1455.8 1856.8,1458.7 1857.3,1457.0 1857.8,1458.5 1858.4,1460.4 1858.9,1459.9 1859.5,1460.1 1860.0,1460.6 1860.6,1462.2 1861.1,1464.1 1861.7,1466.9 1862.2,1469.2 1862.8,1469.8 1863.3,1471.5 1863.8,1470.2 1864.4,1467.2 1864.9,1464.3 1865.5,1461.9 1866.0,1461.9 1866.6,1458.1 1867.1,1460.1 1867.7,1461.1 1868.2,1460.4 1868.7,1464.3 1869.3,1463.7 1869.8,1464.1 1870.4,1463.3 1870.9,1462.4 1871.5,1461.7 1872.0,1461.3 1872.6,1461.9 1873.1,1461.7 1873.6,1461.8 1874.2,1460.6 1874.7,1460.3 1875.3,1461.8 1875.8,1460.2 1876.4,1457.9 1876.9,1453.1 1877.5,1453.3 1878.0,1450.3 1878.5,1449.0 1879.1,1451.3 1879.6,1449.6 1880.2,1452.6 1880.7,1452.5 1881.3,1452.1 1881.8,1453.0 1882.4,1454.7 1882.9,1454.4 1883.5,1453.8 1884.0,1453.7 1884.5,1453.7 1885.1,1451.3 1885.6,1447.3 1886.2,1444.6 1886.7,1436.7 1887.3,1429.0 1887.8,1422.6 1888.4,1412.3 1888.9,1401.9 1889.4,1396.6 1890.0,1388.4 1890.5,1389.1 1891.1,1396.9 1891.6,1403.0 1892.2,1412.3 1892.7,1421.0 1893.3,1427.5 1893.8,1434.6 1894.3,1438.9 1894.9,1443.9 1895.4,1444.2 1896.0,1446.5 1896.5,1449.0 1897.1,1448.5 1897.6,1451.9 1898.2,1451.3 1898.7,1450.1 1899.2,1452.5 1899.8,1453.0 1900.3,1453.9 1900.9,1458.8 1901.4,1456.1 1902.0,1458.8 1902.5,1462.9 1903.1,1463.3 1903.6,1462.0 1904.2,1462.0 1904.7,1464.7 1905.2,1465.6 1905.8,1461.1 1906.3,1458.7 1906.9,1455.4 1907.4,1456.3 1908.0,1453.1 1908.5,1452.4 1909.1,1452.1 1909.6,1451.8 1910.1,1454.5 1910.7,1452.1 1911.2,1455.1 1911.8,1455.4 1912.3,1454.5 1912.9,1455.2 1913.4,1454.3 1914.0,1457.7 1914.5,1454.7 1915.0,1455.2 1915.6,1453.7 1916.1,1455.8 1916.7,1454.4 1917.2,1451.3 1917.8,1452.7 1918.3,1456.4 1918.9,1457.3 1919.4,1456.4 1919.9,1458.2 1920.5,1456.5 1921.0,1453.7 1921.6,1452.9 1922.1,1450.2 1922.7,1446.9 1923.2,1445.4 1923.8,1442.7 1924.3,1443.7 1924.8,1441.4 1925.4,1439.9 1925.9,1440.1 1926.5,1438.5 1927.0,1437.7 1927.6,1437.1 1928.1,1435.1 1928.7,1435.5 1929.2,1436.8 1929.8,1432.2 1930.3,1432.7 1930.8,1430.8 1931.4,1429.4 1931.9,1426.7 1932.5,1428.6 1933.0,1429.0 1933.6,1428.3 1934.1,1429.3 1934.7,1425.6 1935.2,1427.9 1935.7,1424.2 1936.3,1423.4 1936.8,1423.3 1937.4,1420.7 1937.9,1417.3 1938.5,1418.3 1939.0,1416.2 1939.6,1415.8 1940.1,1412.3 1940.6,1411.6 1941.2,1411.1 1941.7,1408.7 1942.3,1404.2 1942.8,1403.6 1943.4,1400.2 1943.9,1398.7 1944.5,1399.6 1945.0,1398.9 1945.5,1404.4 1946.1,1404.6 1946.6,1406.4 1947.2,1407.3 1947.7,1412.5 1948.3,1416.5 1948.8,1420.4 1949.4,1422.8 1949.9,1427.5 1950.5,1431.9 1951.0,1431.6 1951.5,1435.7 1952.1,1435.8 1952.6,1436.8 1953.2,1437.7 1953.7,1441.9 1954.3,1443.1 1954.8,1443.2 1955.4,1447.0 1955.9,1446.4 1956.4,1446.7 1957.0,1449.5 1957.5,1449.6 1958.1,1452.1 1958.6,1454.6 1959.2,1454.2 1959.7,1454.0 1960.3,1453.7 1960.8,1452.6 1961.3,1451.7 1961.9,1451.8 1962.4,1450.7 1963.0,1450.4 1963.5,1449.6 1964.1,1450.1 1964.6,1449.5 1965.2,1448.8 1965.7,1448.3 1966.2,1447.3 1966.8,1448.7 1967.3,1447.3 1967.9,1448.4 1968.4,1447.6 1969.0,1448.1 1969.5,1446.9 1970.1,1447.1 1970.6,1447.5 1971.2,1448.0 1971.7,1447.9 1972.2,1450.2 1972.8,1449.8 1973.3,1452.2 1973.9,1454.0 1974.4,1454.1 1975.0,1450.7 1975.5,1448.2 1976.1,1448.8 1976.6,1448.1 1977.1,1444.6 1977.7,1447.7 1978.2,1447.9 1978.8,1450.7 1979.3,1453.7 1979.9,1452.8 1980.4,1454.5 1981.0,1452.0 1981.5,1454.4 1982.0,1453.0 1982.6,1449.4 1983.1,1451.7 1983.7,1454.0 1984.2,1453.7 1984.8,1454.1 1985.3,1453.4 1985.9,1455.3 1986.4,1454.1 1986.9,1452.7 1987.5,1450.3 1988.0,1448.2 1988.6,1447.3 1989.1,1445.8 1989.7,1447.4 1990.2,1450.2 1990.8,1454.0 1991.3,1455.8 1991.8,1459.9 1992.4,1461.3 1992.9,1460.3 1993.5,1460.7 1994.0,1462.0 1994.6,1460.7 1995.1,1459.0 1995.7,1458.7 1996.2,1459.0 1996.8,1458.5 1997.3,1456.8 1997.8,1457.7 1998.4,1457.0 1998.9,1457.2 1999.5,1454.3 2000.0,1453.6 2000.6,1453.0 2001.1,1451.7 2001.7,1452.7 2002.2,1453.6 2002.7,1452.8 2003.3,1452.5 2003.8,1454.1 2004.4,1455.4 2004.9,1457.4 2005.5,1458.0 2006.0,1456.8 2006.6,1458.2 2007.1,1458.8 2007.6,1458.5 2008.2,1455.4 2008.7,1452.9 2009.3,1451.8 2009.8,1449.6 2010.4,1446.5 2010.9,1445.6 2011.5,1445.9 2012.0,1447.3 2012.5,1450.7 2013.1,1450.0 2013.6,1451.3 2014.2,1452.9 2014.7,1455.0 2015.3,1454.5 2015.8,1453.8 2016.4,1456.9 2016.9,1456.8 2017.5,1456.5 2018.0,1456.0 2018.5,1455.6 2019.1,1457.4 2019.6,1456.0 2020.2,1452.9 2020.7,1454.8 2021.3,1454.4 2021.8,1451.3 2022.4,1451.6 2022.9,1453.7 2023.4,1454.2 2024.0,1453.8 2024.5,1457.7 2025.1,1457.0 2025.6,1457.6 2026.2,1457.4 2026.7,1457.0 2027.3,1458.4 2027.8,1458.7 2028.3,1456.6 2028.9,1457.3 2029.4,1458.7 2030.0,1455.9 2030.5,1456.9 2031.1,1455.4 2031.6,1457.7 2032.2,1455.9 2032.7,1456.2 2033.2,1456.9 2033.8,1457.8 2034.3,1458.2 2034.9,1458.8 2035.4,1460.1 2036.0,1461.1 2036.5,1460.9 2037.1,1460.2 2037.6,1460.4 2038.2,1461.9 2038.7,1460.7 2039.2,1459.0 2039.8,1458.0 2040.3,1458.9 2040.9,1457.5 2041.4,1459.0 2042.0,1461.0 2042.5,1461.7 2043.1,1459.2 2043.6,1461.6 2044.1,1459.8 2044.7,1459.3 2045.2,1458.7 2045.8,1458.5 2046.3,1456.6 2046.9,1458.4 2047.4,1459.3 2048.0,1456.9 2048.5,1457.4 2049.0,1457.6 2049.6,1454.5 2050.1,1459.0 2050.7,1458.6 2051.2,1458.2 2051.8,1460.1 2052.3,1460.8 2052.9,1461.4 2053.4,1461.7 2053.9,1464.3 2054.5,1462.3 2055.0,1465.2 2055.6,1463.6 2056.1,1463.6 2056.7,1465.0 2057.2,1463.8 2057.8,1463.5 2058.3,1462.7 2058.8,1458.9 2059.4,1458.8 2059.9,1454.8 2060.5,1455.0 2061.0,1455.0 2061.6,1455.4 2062.1,1458.1 2062.7,1460.6 2063.2,1461.8 2063.8,1463.3 2064.3,1462.7 2064.8,1460.2 2065.4,1458.4 2065.9,1455.9 2066.5,1454.8 2067.0,1451.2 2067.6,1454.4 2068.1,1455.7 2068.7,1458.2 2069.2,1457.3 2069.7,1457.8 2070.3,1457.7 2070.8,1457.7 2071.4,1457.1 2071.9,1455.1 2072.5,1455.3 2073.0,1454.8 2073.6,1455.6 2074.1,1454.4 2074.6,1456.3 2075.2,1459.1 2075.7,1458.5 2076.3,1461.4 2076.8,1459.8 2077.4,1458.1 2077.9,1457.5 2078.5,1455.7 2079.0,1453.7 2079.5,1452.9 2080.1,1455.0 2080.6,1453.0 2081.2,1451.6 2081.7,1451.9 2082.3,1451.4 2082.8,1454.1 2083.4,1453.6 2083.9,1455.9 2084.5,1454.8 2085.0,1457.8 2085.5,1456.5 2086.1,1454.8 2086.6,1455.5 2087.2,1451.5 2087.7,1453.3 2088.3,1453.5 2088.8,1452.5 2089.4,1453.2 2089.9,1454.5 2090.4,1454.6 2091.0,1454.2 2091.5,1456.9 2092.1,1458.8 2092.6,1458.8 2093.2,1464.8 2093.7,1464.5 2094.3,1465.9 2094.8,1465.1 2095.3,1463.5 2095.9,1462.9 2096.4,1461.1 2097.0,1461.6 2097.5,1461.7 2098.1,1462.3 2098.6,1461.1 2099.2,1464.0 2099.7,1462.8 2100.2,1464.2 2100.8,1462.1 2101.3,1460.3 2101.9,1459.3 2102.4,1460.1 2103.0,1457.1 2103.5,1456.0 2104.1,1457.5 2104.6,1458.1 2105.2,1458.9 2105.7,1460.1 2106.2,1458.6 2106.8,1457.2 2107.3,1455.3 2107.9,1452.8 2108.4,1450.5 2109.0,1449.0 2109.5,1449.6 2110.1,1448.3 2110.6,1451.7 2111.1,1451.9 2111.7,1450.3 2112.2,1452.1 2112.8,1454.7 2113.3,1455.1 2113.9,1455.2 2114.4,1456.1 2115.0,1459.2 2115.5,1458.1 2116.0,1457.3 2116.6,1458.2 2117.1,1457.5 2117.7,1458.1 2118.2,1458.1 2118.8,1457.2 2119.3,1458.9 2119.9,1457.7 2120.4,1458.3 2120.9,1458.3 2121.5,1458.5 2122.0,1459.4 2122.6,1457.2 2123.1,1456.0 2123.7,1455.9 2124.2,1452.0 2124.8,1455.3 2125.3,1456.8 2125.8,1457.0 2126.4,1457.7 2126.9,1459.2 2127.5,1458.9 2128.0,1459.9 2128.6,1459.7 2129.1,1460.8 2129.7,1459.6 2130.2,1458.9 2130.8,1459.6 2131.3,1459.7 2131.8,1459.4 2132.4,1460.1 2132.9,1460.1 2133.5,1460.1 2134.0,1461.6 2134.6,1461.1 2135.1,1463.7 2135.7,1466.4 2136.2,1462.9 2136.7,1464.3 2137.3,1463.8 2137.8,1461.4 2138.4,1461.8 2138.9,1460.2 2139.5,1461.7 2140.0,1459.6 2140.6,1459.5 2141.1,1460.0 2141.6,1459.5 2142.2,1461.6 2142.7,1463.3 2143.3,1463.1 2143.8,1464.2 2144.4,1465.3 2144.9,1468.1 2145.5,1467.4 2146.0,1464.4 2146.5,1464.7 2147.1,1463.9 2147.6,1461.5 2148.2,1458.9 2148.7,1456.5 2149.3,1457.2 2149.8,1457.9 2150.4,1455.2 2150.9,1457.5 2151.5,1457.0 2152.0,1455.9 2152.5,1453.1 2153.1,1454.7 2153.6,1452.9 2154.2,1453.5 2154.7,1456.6 2155.3,1457.9 2155.8,1458.2 2156.4,1459.5 2156.9,1459.3 2157.4,1460.8 2158.0,1460.4 2158.5,1461.0 2159.1,1461.3 2159.6,1460.7 2160.2,1460.5 2160.7,1460.9 2161.3,1458.5 2161.8,1457.7 2162.3,1459.4 2162.9,1454.7 2163.4,1456.3 2164.0,1455.9 2164.5,1454.4 2165.1,1455.2 2165.6,1455.9 2166.2,1453.3 2166.7,1454.0 2167.2,1454.5 2167.8,1453.3 2168.3,1454.6 2168.9,1454.0 2169.4,1452.0 2170.0,1453.0 2170.5,1452.5 2171.1,1451.4 2171.6,1452.5 2172.1,1451.8 2172.7,1450.1 2173.2,1450.2 2173.8,1451.6 2174.3,1449.4 2174.9,1447.5 2175.4,1449.1 2176.0,1449.6 2176.5,1450.2 2177.1,1453.2 2177.6,1454.6 2178.1,1458.6 2178.7,1456.9 2179.2,1456.2 2179.8,1456.3 2180.3,1456.3 2180.9,1456.3 2181.4,1456.0 2182.0,1455.4 2182.5,1455.7 2183.0,1454.9 2183.6,1454.8 2184.1,1455.2 2184.7,1454.8 2185.2,1455.3 2185.8,1454.3 2186.3,1454.8 2186.9,1457.4 2187.4,1455.6 2187.9,1457.2 2188.5,1457.2 2189.0,1457.4 2189.6,1457.2 2190.1,1456.9 2190.7,1458.2 2191.2,1456.4 2191.8,1456.2 2192.3,1456.4 2192.8,1456.9 2193.4,1456.1 2193.9,1458.2 2194.5,1457.6 2195.0,1456.9 2195.6,1458.3 2196.1,1458.6 2196.7,1456.9 2197.2,1457.3 2197.8,1457.4 2198.3,1455.5 2198.8,1455.9 2199.4,1455.6 2199.9,1454.7 2200.5,1454.8 2201.0,1453.7 2201.6,1453.5 2202.1,1452.9 2202.7,1453.9 2203.2,1453.0 2203.7,1454.6 2204.3,1454.4 2204.8,1455.1 2205.4,1453.3 2205.9,1450.5 2206.5,1448.7 2207.0,1447.6 2207.6,1447.9 2208.1,1446.8 2208.6,1446.2 2209.2,1447.0 2209.7,1449.2 2210.3,1450.9 2210.8,1453.0 2211.4,1454.1 2211.9,1458.7 2212.5,1458.5 2213.0,1459.9 2213.5,1461.5 2214.1,1461.4 2214.6,1462.6 2215.2,1460.5 2215.7,1460.8 2216.3,1462.2 2216.8,1461.4 2217.4,1459.7 2217.9,1460.2 2218.5,1457.5 2219.0,1459.4 2219.5,1457.3 2220.1,1459.0 2220.6,1456.0 2221.2,1453.9 2221.7,1454.8 2222.3,1453.8 2222.8,1452.3 2223.4,1452.8 2223.9,1453.2 2224.4,1452.5 2225.0,1455.0 2225.5,1453.4 2226.1,1455.9 2226.6,1456.9 2227.2,1458.2 2227.7,1458.4 2228.3,1460.8 2228.8,1463.4 2229.3,1462.4 2229.9,1461.8 2230.4,1463.1 2231.0,1462.3 2231.5,1459.7 2232.1,1460.9 2232.6,1461.0 2233.2,1461.4 2233.7,1458.5 2234.2,1459.3 2234.8,1457.2 2235.3,1457.1 2235.9,1455.7 2236.4,1454.6 2237.0,1453.4 2237.5,1452.9 2238.1,1451.7 2238.6,1451.0 2239.1,1449.7 2239.7,1450.9 2240.2,1446.1 2240.8,1445.3 2241.3,1441.7 2241.9,1437.0 2242.4,1434.0 2243.0,1429.5 2243.5,1425.3 2244.1,1418.1 2244.6,1415.7 2245.1,1408.8 2245.7,1405.7 2246.2,1399.8 2246.8,1390.8 2247.3,1384.0 2247.9,1377.9 2248.4,1370.1 2249.0,1371.8 2249.5,1376.4 2250.0,1381.9 2250.6,1390.5 2251.1,1395.0 2251.7,1402.6 2252.2,1407.3 2252.8,1414.1 2253.3,1420.7 2253.9,1424.9 2254.4,1429.6 2254.9,1433.7 2255.5,1436.5 2256.0,1441.1 2256.6,1443.3 2257.1,1447.5 2257.7,1448.8 2258.2,1451.4 2258.8,1454.0 2259.3,1455.4 2259.8,1456.7 2260.4,1458.5 2260.9,1461.6 2261.5,1462.1 2262.0,1464.6 2262.6,1463.2 2263.1,1464.6 2263.7,1464.4 2264.2,1465.9 2264.8,1466.6 2265.3,1464.9 2265.8,1463.4 2266.4,1461.9 2266.9,1456.8 2267.5,1457.2 2268.0,1456.7 2268.6,1455.2 2269.1,1456.4 2269.7,1458.1 2270.2,1457.0 2270.7,1457.0 2271.3,1455.8 2271.8,1456.5 2272.4,1452.5 2272.9,1453.6 2273.5,1451.3 2274.0,1451.1 2274.6,1454.4 2275.1,1456.2 2275.6,1459.4 2276.2,1459.6 2276.7,1459.9 2277.3,1460.8 2277.8,1461.3 2278.4,1459.8 2278.9,1459.2 2279.5,1460.0 2280.0,1459.1 2280.5,1459.8 2281.1,1461.9 2281.6,1461.9 2282.2,1464.6 2282.7,1464.8 2283.3,1463.7 2283.8,1463.0 2284.4,1460.4 2284.9,1459.9 2285.5,1459.0 2286.0,1460.0 2286.5,1459.7 2287.1,1460.9 2287.6,1459.4 2288.2,1462.4 2288.7,1462.5 2289.3,1464.0 2289.8,1463.4 2290.4,1463.5 2290.9,1462.3 2291.4,1462.0 2292.0,1463.7 2292.5,1462.8 2293.1,1463.3 2293.6,1464.6 2294.2,1464.0 2294.7,1462.6 2295.3,1462.5 2295.8,1461.1"/>
<polyline fill="none" stroke="#0066de" stroke-width="6.50" stroke-linejoin="round" stroke-linecap="butt" points="389.3,1324.9 389.8,1314.6 390.4,1318.4 390.9,1321.4 391.5,1316.3 392.0,1322.5 392.6,1311.6 393.1,1317.1 393.7,1319.3 394.2,1316.6 394.7,1323.2 395.3,1317.6 395.8,1316.4 396.4,1316.7 396.9,1318.5 397.5,1324.0 398.0,1319.7 398.6,1325.2 399.1,1319.7 399.6,1322.0 400.2,1322.1 400.7,1316.7 401.3,1312.3 401.8,1314.4 402.4,1321.1 402.9,1321.7 403.5,1324.0 404.0,1323.3 404.6,1321.3 405.1,1320.5 405.6,1323.6 406.2,1322.2 406.7,1326.2 407.3,1324.2 407.8,1318.0 408.4,1317.5 408.9,1319.9 409.5,1320.8 410.0,1319.9 410.5,1322.4 411.1,1323.5 411.6,1317.6 412.2,1322.5 412.7,1317.2 413.3,1322.0 413.8,1318.6 414.4,1313.1 414.9,1316.6 415.4,1319.1 416.0,1318.1 416.5,1324.3 417.1,1316.7 417.6,1322.8 418.2,1323.4 418.7,1323.5 419.3,1321.3 419.8,1323.2 420.3,1322.5 420.9,1318.4 421.4,1318.7 422.0,1314.8 422.5,1315.8 423.1,1314.3 423.6,1321.6 424.2,1317.4 424.7,1315.8 425.3,1314.3 425.8,1318.7 426.3,1316.2 426.9,1315.1 427.4,1322.0 428.0,1322.3 428.5,1322.2 429.1,1318.4 429.6,1322.3 430.2,1318.3 430.7,1319.5 431.2,1320.9 431.8,1323.5 432.3,1310.6 432.9,1313.9 433.4,1314.6 434.0,1323.0 434.5,1315.1 435.1,1319.0 435.6,1321.8 436.1,1319.6 436.7,1319.4 437.2,1312.7 437.8,1317.5 438.3,1318.2 438.9,1316.7 439.4,1316.8 440.0,1322.5 440.5,1315.1 441.0,1318.5 441.6,1316.3 442.1,1314.5 442.7,1321.3 443.2,1313.1 443.8,1321.2 444.3,1320.6 444.9,1326.3 445.4,1314.4 446.0,1319.1 446.5,1320.1 447.0,1320.1 447.6,1316.6 448.1,1315.0 448.7,1316.3 449.2,1319.5 449.8,1321.2 450.3,1325.4 450.9,1321.8 451.4,1318.6 451.9,1321.6 452.5,1314.1 453.0,1316.9 453.6,1320.6 454.1,1317.7 454.7,1318.4 455.2,1321.2 455.8,1319.7 456.3,1323.4 456.8,1319.6 457.4,1315.3 457.9,1320.2 458.5,1313.3 459.0,1319.5 459.6,1316.6 460.1,1317.5 460.7,1321.0 461.2,1322.4 461.7,1317.4 462.3,1316.3 462.8,1318.8 463.4,1319.0 463.9,1327.5 464.5,1320.4 465.0,1315.4 465.6,1315.0 466.1,1317.2 466.6,1320.9 467.2,1315.7 467.7,1319.0 468.3,1315.0 468.8,1312.4 469.4,1319.3 469.9,1316.6 470.5,1314.4 471.0,1313.7 471.6,1314.0 472.1,1310.6 472.6,1308.6 473.2,1310.7 473.7,1305.4 474.3,1297.1 474.8,1299.0 475.4,1293.7 475.9,1299.6 476.5,1299.6 477.0,1294.9 477.5,1298.2 478.1,1309.0 478.6,1303.9 479.2,1308.9 479.7,1309.5 480.3,1310.8 480.8,1305.5 481.4,1311.4 481.9,1298.8 482.4,1298.3 483.0,1294.6 483.5,1296.8 484.1,1285.1 484.6,1294.3 485.2,1301.0 485.7,1306.0 486.3,1306.6 486.8,1313.7 487.3,1312.8 487.9,1312.4 488.4,1317.5 489.0,1317.4 489.5,1311.4 490.1,1317.7 490.6,1317.3 491.2,1312.6 491.7,1308.4 492.3,1309.8 492.8,1319.2 493.3,1310.3 493.9,1321.7 494.4,1318.9 495.0,1315.9 495.5,1313.8 496.1,1314.0 496.6,1314.4 497.2,1321.5 497.7,1321.3 498.2,1316.8 498.8,1315.8 499.3,1318.0 499.9,1320.8 500.4,1318.2 501.0,1316.0 501.5,1328.4 502.1,1314.9 502.6,1313.3 503.1,1316.4 503.7,1320.7 504.2,1318.6 504.8,1318.5 505.3,1312.0 505.9,1317.5 506.4,1315.9 507.0,1315.2 507.5,1317.8 508.0,1320.2 508.6,1323.4 509.1,1320.2 509.7,1315.6 510.2,1315.5 510.8,1324.3 511.3,1319.5 511.9,1318.2 512.4,1316.0 513.0,1320.0 513.5,1320.2 514.0,1319.3 514.6,1318.1 515.1,1319.7 515.7,1322.5 516.2,1321.0 516.8,1320.0 517.3,1322.4 517.9,1321.2 518.4,1321.2 518.9,1325.1 519.5,1314.1 520.0,1319.7 520.6,1316.4 521.1,1312.5 521.7,1318.0 522.2,1322.1 522.8,1320.1 523.3,1323.0 523.8,1322.1 524.4,1318.6 524.9,1322.7 525.5,1317.9 526.0,1318.4 526.6,1313.6 527.1,1316.2 527.7,1315.4 528.2,1316.4 528.7,1320.0 529.3,1319.8 529.8,1322.1 530.4,1323.0 530.9,1312.9 531.5,1323.0 532.0,1316.2 532.6,1320.8 533.1,1323.9 533.6,1320.2 534.2,1317.6 534.7,1317.2 535.3,1316.6 535.8,1320.3 536.4,1318.6 536.9,1321.7 537.5,1321.7 538.0,1316.6 538.6,1315.6 539.1,1318.9 539.6,1318.2 540.2,1320.1 540.7,1318.1 541.3,1321.7 541.8,1317.5 542.4,1317.8 542.9,1317.9 543.5,1310.4 544.0,1319.1 544.5,1315.4 545.1,1313.8 545.6,1319.2 546.2,1314.5 546.7,1320.9 547.3,1317.7 547.8,1319.3 548.4,1315.5 548.9,1325.3 549.4,1314.9 550.0,1310.8 550.5,1317.3 551.1,1322.3 551.6,1318.7 552.2,1323.4 552.7,1317.1 553.3,1319.3 553.8,1323.7 554.3,1314.4 554.9,1320.7 555.4,1315.1 556.0,1320.9 556.5,1321.0 557.1,1323.8 557.6,1319.1 558.2,1320.8 558.7,1323.6 559.3,1315.2 559.8,1321.7 560.3,1315.1 560.9,1320.7 561.4,1327.6 562.0,1326.8 562.5,1321.4 563.1,1316.8 563.6,1322.2 564.2,1323.8 564.7,1322.6 565.2,1315.9 565.8,1313.7 566.3,1319.0 566.9,1321.9 567.4,1323.2 568.0,1317.7 568.5,1324.1 569.1,1321.4 569.6,1321.8 570.1,1315.2 570.7,1326.2 571.2,1323.4 571.8,1321.3 572.3,1315.4 572.9,1320.6 573.4,1315.7 574.0,1321.2 574.5,1325.0 575.0,1321.7 575.6,1315.4 576.1,1321.5 576.7,1323.8 577.2,1321.5 577.8,1323.8 578.3,1320.6 578.9,1321.0 579.4,1319.0 580.0,1320.3 580.5,1314.4 581.0,1327.2 581.6,1317.9 582.1,1331.4 582.7,1319.0 583.2,1323.1 583.8,1322.1 584.3,1322.6 584.9,1319.2 585.4,1321.4 585.9,1317.8 586.5,1320.3 587.0,1316.5 587.6,1312.6 588.1,1319.2 588.7,1319.7 589.2,1323.6 589.8,1320.7 590.3,1322.4 590.8,1324.9 591.4,1324.9 591.9,1316.1 592.5,1328.8 593.0,1328.0 593.6,1326.7 594.1,1323.1 594.7,1323.6 595.2,1320.7 595.7,1320.6 596.3,1321.1 596.8,1324.4 597.4,1322.8 597.9,1317.4 598.5,1316.7 599.0,1321.0 599.6,1318.4 600.1,1322.6 600.6,1323.2 601.2,1324.7 601.7,1317.6 602.3,1314.3 602.8,1320.0 603.4,1319.0 603.9,1318.6 604.5,1321.5 605.0,1327.8 605.6,1317.9 606.1,1319.7 606.6,1316.4 607.2,1320.9 607.7,1321.7 608.3,1313.9 608.8,1314.7 609.4,1318.3 609.9,1324.3 610.5,1322.6 611.0,1322.6 611.5,1319.2 612.1,1319.9 612.6,1319.7 613.2,1316.4 613.7,1323.1 614.3,1324.1 614.8,1318.8 615.4,1317.7 615.9,1319.3 616.4,1314.0 617.0,1321.7 617.5,1321.4 618.1,1320.8 618.6,1322.9 619.2,1317.2 619.7,1318.7 620.3,1314.8 620.8,1325.0 621.3,1322.6 621.9,1314.3 622.4,1315.4 623.0,1315.7 623.5,1312.8 624.1,1309.6 624.6,1312.4 625.2,1305.1 625.7,1307.3 626.3,1311.9 626.8,1315.3 627.3,1313.8 627.9,1319.9 628.4,1323.2 629.0,1326.8 629.5,1325.1 630.1,1323.4 630.6,1326.8 631.2,1325.7 631.7,1320.4 632.2,1326.0 632.8,1320.7 633.3,1321.0 633.9,1329.9 634.4,1319.4 635.0,1320.9 635.5,1324.5 636.1,1322.0 636.6,1323.0 637.1,1321.9 637.7,1322.8 638.2,1318.8 638.8,1320.3 639.3,1318.2 639.9,1317.7 640.4,1323.6 641.0,1319.8 641.5,1319.3 642.0,1325.1 642.6,1317.3 643.1,1320.4 643.7,1321.5 644.2,1320.0 644.8,1323.5 645.3,1319.1 645.9,1316.7 646.4,1315.1 646.9,1318.0 647.5,1318.2 648.0,1319.4 648.6,1325.3 649.1,1319.3 649.7,1318.9 650.2,1315.4 650.8,1317.4 651.3,1317.3 651.9,1313.1 652.4,1315.7 652.9,1314.9 653.5,1320.3 654.0,1318.3 654.6,1320.2 655.1,1315.2 655.7,1318.6 656.2,1320.1 656.8,1319.5 657.3,1320.6 657.8,1315.8 658.4,1315.6 658.9,1318.3 659.5,1320.2 660.0,1315.2 660.6,1317.6 661.1,1317.0 661.7,1322.2 662.2,1319.7 662.7,1318.5 663.3,1323.7 663.8,1322.1 664.4,1316.7 664.9,1323.2 665.5,1316.0 666.0,1316.9 666.6,1317.3 667.1,1318.0 667.6,1317.1 668.2,1311.4 668.7,1319.3 669.3,1313.7 669.8,1310.8 670.4,1310.4 670.9,1310.3 671.5,1310.3 672.0,1308.0 672.6,1303.5 673.1,1304.7 673.6,1302.7 674.2,1299.0 674.7,1286.3 675.3,1283.3 675.8,1265.8 676.4,1250.8 676.9,1232.7 677.5,1209.5 678.0,1188.7 678.5,1176.8 679.1,1171.7 679.6,1188.5 680.2,1206.7 680.7,1227.3 681.3,1243.4 681.8,1249.6 682.4,1264.4 682.9,1276.5 683.4,1273.6 684.0,1276.1 684.5,1280.5 685.1,1276.1 685.6,1280.0 686.2,1290.3 686.7,1289.3 687.3,1293.3 687.8,1294.2 688.3,1300.5 688.9,1303.7 689.4,1306.9 690.0,1307.3 690.5,1308.7 691.1,1305.7 691.6,1308.5 692.2,1307.7 692.7,1311.0 693.3,1306.4 693.8,1317.0 694.3,1316.6 694.9,1323.7 695.4,1321.5 696.0,1317.6 696.5,1322.5 697.1,1320.3 697.6,1321.0 698.2,1320.8 698.7,1321.9 699.2,1318.2 699.8,1314.6 700.3,1310.8 700.9,1309.4 701.4,1300.4 702.0,1305.3 702.5,1301.3 703.1,1312.0 703.6,1313.1 704.1,1323.2 704.7,1314.1 705.2,1314.6 705.8,1319.7 706.3,1315.7 706.9,1318.8 707.4,1317.5 708.0,1320.8 708.5,1320.3 709.0,1325.5 709.6,1328.3 710.1,1323.5 710.7,1322.4 711.2,1313.7 711.8,1322.3 712.3,1315.0 712.9,1321.4 713.4,1323.6 713.9,1321.9 714.5,1319.8 715.0,1323.9 715.6,1315.9 716.1,1322.2 716.7,1320.8 717.2,1323.1 717.8,1321.6 718.3,1314.9 718.9,1323.0 719.4,1318.3 719.9,1321.1 720.5,1323.7 721.0,1321.0 721.6,1326.4 722.1,1318.9 722.7,1319.9 723.2,1321.8 723.8,1320.4 724.3,1324.1 724.8,1321.8 725.4,1320.2 725.9,1323.9 726.5,1319.6 727.0,1319.2 727.6,1319.7 728.1,1319.0 728.7,1314.9 729.2,1319.3 729.7,1313.1 730.3,1319.7 730.8,1319.0 731.4,1320.7 731.9,1319.3 732.5,1319.0 733.0,1321.3 733.6,1316.7 734.1,1318.9 734.6,1319.6 735.2,1322.5 735.7,1322.0 736.3,1314.4 736.8,1314.8 737.4,1323.5 737.9,1317.8 738.5,1315.7 739.0,1311.5 739.6,1310.2 740.1,1302.5 740.6,1292.3 741.2,1272.5 741.7,1244.6 742.3,1230.8 742.8,1242.2 743.4,1262.3 743.9,1284.7 744.5,1296.2 745.0,1310.5 745.5,1315.5 746.1,1309.9 746.6,1316.7 747.2,1312.0 747.7,1314.3 748.3,1320.7 748.8,1321.6 749.4,1318.5 749.9,1322.0 750.4,1318.8 751.0,1318.7 751.5,1317.4 752.1,1322.4 752.6,1317.7 753.2,1315.3 753.7,1308.4 754.3,1302.1 754.8,1300.5 755.3,1302.8 755.9,1310.7 756.4,1309.3 757.0,1308.8 757.5,1323.2 758.1,1313.4 758.6,1319.6 759.2,1322.2 759.7,1319.9 760.3,1319.7 760.8,1316.8 761.3,1315.6 761.9,1320.2 762.4,1316.3 763.0,1315.7 763.5,1317.9 764.1,1319.2 764.6,1314.8 765.2,1312.0 765.7,1312.5 766.2,1309.8 766.8,1303.4 767.3,1302.9 767.9,1301.4 768.4,1303.5 769.0,1310.4 769.5,1311.0 770.1,1308.3 770.6,1316.4 771.1,1314.7 771.7,1315.9 772.2,1320.1 772.8,1314.6 773.3,1315.0 773.9,1318.3 774.4,1318.9 775.0,1318.6 775.5,1318.4 776.0,1317.9 776.6,1316.3 777.1,1317.4 777.7,1322.0 778.2,1316.8 778.8,1317.5 779.3,1319.5 779.9,1318.7 780.4,1317.9 780.9,1319.1 781.5,1315.8 782.0,1319.2 782.6,1314.7 783.1,1315.2 783.7,1321.3 784.2,1322.5 784.8,1315.5 785.3,1314.4 785.9,1318.0 786.4,1322.8 786.9,1327.2 787.5,1315.8 788.0,1318.2 788.6,1321.7 789.1,1324.2 789.7,1319.9 790.2,1326.1 790.8,1330.0 791.3,1322.0 791.8,1324.3 792.4,1321.9 792.9,1322.1 793.5,1321.7 794.0,1321.7 794.6,1324.6 795.1,1319.5 795.7,1325.3 796.2,1321.9 796.7,1321.3 797.3,1321.3 797.8,1321.1 798.4,1321.9 798.9,1320.4 799.5,1325.6 800.0,1317.2 800.6,1318.7 801.1,1319.3 801.6,1318.8 802.2,1320.4 802.7,1318.0 803.3,1325.9 803.8,1316.1 804.4,1326.0 804.9,1322.1 805.5,1321.4 806.0,1313.9 806.6,1314.0 807.1,1313.5 807.6,1314.1 808.2,1314.0 808.7,1313.1 809.3,1310.4 809.8,1307.2 810.4,1302.4 810.9,1303.1 811.5,1303.9 812.0,1309.5 812.5,1309.3 813.1,1311.6 813.6,1309.1 814.2,1312.9 814.7,1312.1 815.3,1308.6 815.8,1319.2 816.4,1317.6 816.9,1318.4 817.4,1322.8 818.0,1316.3 818.5,1317.5 819.1,1321.9 819.6,1322.0 820.2,1318.9 820.7,1319.6 821.3,1324.7 821.8,1323.9 822.3,1319.4 822.9,1327.0 823.4,1322.2 824.0,1317.8 824.5,1326.3 825.1,1319.3 825.6,1322.4 826.2,1317.3 826.7,1318.5 827.3,1316.7 827.8,1319.3 828.3,1315.7 828.9,1322.5 829.4,1317.3 830.0,1315.8 830.5,1322.3 831.1,1317.5 831.6,1317.4 832.2,1316.3 832.7,1321.2 833.2,1317.8 833.8,1318.8 834.3,1318.4 834.9,1319.1 835.4,1324.5 836.0,1321.3 836.5,1315.2 837.1,1316.0 837.6,1314.2 838.1,1308.0 838.7,1294.3 839.2,1271.9 839.8,1261.9 840.3,1265.0 840.9,1280.9 841.4,1295.5 842.0,1306.9 842.5,1308.3 843.0,1318.4 843.6,1313.7 844.1,1309.5 844.7,1312.5 845.2,1311.2 845.8,1313.2 846.3,1313.2 846.9,1312.9 847.4,1313.4 847.9,1318.9 848.5,1316.7 849.0,1315.1 849.6,1317.4 850.1,1316.5 850.7,1311.6 851.2,1312.0 851.8,1307.1 852.3,1311.6 852.9,1304.3 853.4,1295.3 853.9,1281.2 854.5,1270.4 855.0,1275.2 855.6,1287.9 856.1,1299.0 856.7,1304.5 857.2,1314.5 857.8,1311.0 858.3,1316.5 858.8,1318.7 859.4,1315.7 859.9,1318.4 860.5,1319.2 861.0,1319.5 861.6,1324.4 862.1,1323.3 862.7,1323.6 863.2,1321.9 863.7,1323.2 864.3,1325.0 864.8,1321.7 865.4,1326.3 865.9,1320.4 866.5,1324.7 867.0,1320.0 867.6,1322.5 868.1,1323.8 868.6,1328.6 869.2,1324.4 869.7,1319.3 870.3,1328.6 870.8,1326.0 871.4,1319.0 871.9,1319.7 872.5,1326.4 873.0,1326.0 873.6,1322.0 874.1,1325.2 874.6,1326.4 875.2,1323.6 875.7,1321.9 876.3,1319.7 876.8,1321.9 877.4,1316.8 877.9,1317.1 878.5,1320.4 879.0,1320.1 879.5,1322.1 880.1,1326.1 880.6,1328.6 881.2,1327.2 881.7,1323.5 882.3,1324.4 882.8,1320.7 883.4,1329.0 883.9,1322.9 884.4,1322.7 885.0,1320.6 885.5,1318.3 886.1,1317.2 886.6,1321.3 887.2,1316.2 887.7,1315.1 888.3,1320.3 888.8,1314.2 889.3,1314.4 889.9,1311.3 890.4,1315.5 891.0,1318.3 891.5,1317.7 892.1,1317.1 892.6,1322.3 893.2,1315.4 893.7,1313.2 894.3,1313.1 894.8,1317.2 895.3,1314.9 895.9,1318.7 896.4,1318.9 897.0,1318.1 897.5,1324.9 898.1,1320.2 898.6,1320.8 899.2,1318.8 899.7,1318.4 900.2,1317.9 900.8,1321.1 901.3,1324.6 901.9,1317.7 902.4,1324.9 903.0,1319.3 903.5,1321.1 904.1,1323.3 904.6,1323.5 905.1,1321.4 905.7,1320.0 906.2,1325.8 906.8,1324.5 907.3,1321.7 907.9,1319.7 908.4,1320.6 909.0,1321.3 909.5,1324.7 910.0,1321.1 910.6,1323.0 911.1,1321.1 911.7,1320.4 912.2,1322.3 912.8,1320.9 913.3,1321.4 913.9,1324.5 914.4,1320.9 914.9,1313.2 915.5,1314.2 916.0,1317.0 916.6,1318.2 917.1,1314.8 917.7,1313.8 918.2,1300.9 918.8,1293.5 919.3,1288.9 919.9,1294.1 920.4,1298.1 920.9,1302.2 921.5,1307.8 922.0,1315.0 922.6,1314.3 923.1,1319.4 923.7,1315.0 924.2,1321.3 924.8,1322.6 925.3,1322.0 925.8,1323.9 926.4,1315.2 926.9,1319.2 927.5,1319.4 928.0,1323.7 928.6,1322.7 929.1,1321.0 929.7,1322.1 930.2,1315.4 930.7,1316.9 931.3,1314.9 931.8,1317.5 932.4,1317.5 932.9,1317.6 933.5,1318.1 934.0,1320.0 934.6,1325.8 935.1,1323.1 935.6,1320.4 936.2,1322.2 936.7,1319.5 937.3,1324.5 937.8,1325.7 938.4,1318.0 938.9,1319.5 939.5,1318.9 940.0,1315.2 940.6,1316.5 941.1,1316.7 941.6,1318.5 942.2,1318.5 942.7,1322.9 943.3,1317.6 943.8,1330.0 944.4,1317.4 944.9,1320.8 945.5,1325.8 946.0,1320.5 946.5,1324.9 947.1,1320.9 947.6,1322.7 948.2,1321.5 948.7,1315.0 949.3,1320.9 949.8,1321.3 950.4,1318.3 950.9,1314.5 951.4,1317.0 952.0,1315.2 952.5,1315.9 953.1,1318.8 953.6,1320.8 954.2,1314.3 954.7,1311.2 955.3,1312.1 955.8,1309.0 956.3,1306.6 956.9,1303.8 957.4,1297.0 958.0,1282.1 958.5,1270.6 959.1,1250.2 959.6,1222.0 960.2,1198.3 960.7,1183.5 961.2,1200.9 961.8,1224.3 962.3,1246.8 962.9,1267.7 963.4,1289.8 964.0,1297.6 964.5,1305.7 965.1,1311.6 965.6,1307.0 966.2,1313.9 966.7,1309.0 967.2,1316.8 967.8,1322.0 968.3,1317.8 968.9,1320.6 969.4,1320.0 970.0,1320.8 970.5,1321.6 971.1,1320.1 971.6,1317.2 972.1,1324.5 972.7,1323.2 973.2,1326.7 973.8,1322.0 974.3,1324.1 974.9,1321.1 975.4,1321.7 976.0,1321.2 976.5,1318.0 977.0,1320.5 977.6,1316.3 978.1,1321.0 978.7,1316.5 979.2,1318.1 979.8,1321.8 980.3,1317.6 980.9,1319.4 981.4,1316.9 981.9,1315.2 982.5,1317.1 983.0,1310.0 983.6,1304.9 984.1,1297.8 984.7,1304.1 985.2,1305.1 985.8,1313.6 986.3,1316.0 986.9,1315.9 987.4,1316.6 987.9,1320.0 988.5,1320.4 989.0,1320.7 989.6,1320.0 990.1,1316.2 990.7,1316.0 991.2,1314.4 991.8,1315.2 992.3,1313.2 992.8,1314.3 993.4,1309.6 993.9,1312.4 994.5,1315.7 995.0,1314.5 995.6,1314.9 996.1,1312.5 996.7,1313.7 997.2,1314.7 997.7,1312.2 998.3,1318.5 998.8,1317.9 999.4,1314.6 999.9,1319.0 1000.5,1323.9 1001.0,1318.6 1001.6,1322.6 1002.1,1321.8 1002.6,1320.6 1003.2,1322.6 1003.7,1321.1 1004.3,1320.1 1004.8,1325.2 1005.4,1318.5 1005.9,1318.7 1006.5,1319.0 1007.0,1322.7 1007.6,1318.3 1008.1,1321.6 1008.6,1318.3 1009.2,1321.9 1009.7,1315.6 1010.3,1325.9 1010.8,1320.0 1011.4,1325.4 1011.9,1320.5 1012.5,1332.3 1013.0,1331.5 1013.5,1324.9 1014.1,1324.3 1014.6,1322.8 1015.2,1322.8 1015.7,1322.9 1016.3,1316.3 1016.8,1319.3 1017.4,1319.3 1017.9,1321.0 1018.4,1318.7 1019.0,1318.9 1019.5,1317.4 1020.1,1319.4 1020.6,1318.0 1021.2,1316.9 1021.7,1317.3 1022.3,1318.2 1022.8,1322.2 1023.3,1319.6 1023.9,1324.8 1024.4,1324.3 1025.0,1325.9 1025.5,1319.7 1026.1,1322.1 1026.6,1327.0 1027.2,1321.1 1027.7,1323.8 1028.2,1322.5 1028.8,1322.5 1029.3,1322.9 1029.9,1318.7 1030.4,1323.0 1031.0,1317.8 1031.5,1321.4 1032.1,1321.1 1032.6,1311.4 1033.2,1312.5 1033.7,1311.2 1034.2,1314.0 1034.8,1316.2 1035.3,1322.9 1035.9,1324.3 1036.4,1324.0 1037.0,1324.7 1037.5,1327.0 1038.1,1320.8 1038.6,1320.2 1039.1,1327.2 1039.7,1327.9 1040.2,1325.7 1040.8,1325.4 1041.3,1327.0 1041.9,1323.5 1042.4,1322.4 1043.0,1323.4 1043.5,1327.2 1044.0,1324.0 1044.6,1322.4 1045.1,1322.3 1045.7,1322.2 1046.2,1320.7 1046.8,1317.3 1047.3,1319.4 1047.9,1321.2 1048.4,1313.6 1048.9,1318.0 1049.5,1316.2 1050.0,1319.2 1050.6,1320.1 1051.1,1318.2 1051.7,1318.1 1052.2,1317.9 1052.8,1316.4 1053.3,1311.6 1053.9,1311.8 1054.4,1307.3 1054.9,1303.8 1055.5,1290.6 1056.0,1284.4 1056.6,1265.9 1057.1,1245.9 1057.7,1219.9 1058.2,1199.8 1058.8,1181.5 1059.3,1193.2 1059.8,1218.1 1060.4,1238.5 1060.9,1264.7 1061.5,1279.9 1062.0,1295.3 1062.6,1296.7 1063.1,1307.7 1063.7,1310.9 1064.2,1308.6 1064.7,1309.8 1065.3,1308.1 1065.8,1310.5 1066.4,1307.9 1066.9,1312.7 1067.5,1311.7 1068.0,1315.0 1068.6,1317.4 1069.1,1312.6 1069.6,1318.7 1070.2,1314.3 1070.7,1315.8 1071.3,1318.3 1071.8,1312.0 1072.4,1309.7 1072.9,1309.8 1073.5,1305.3 1074.0,1299.9 1074.6,1295.0 1075.1,1284.1 1075.6,1276.6 1076.2,1265.1 1076.7,1252.1 1077.3,1234.3 1077.8,1211.1 1078.4,1189.9 1078.9,1176.2 1079.5,1176.3 1080.0,1190.0 1080.5,1212.6 1081.1,1229.2 1081.6,1246.9 1082.2,1265.4 1082.7,1278.3 1083.3,1287.0 1083.8,1290.5 1084.4,1290.3 1084.9,1289.1 1085.4,1286.0 1086.0,1289.6 1086.5,1284.3 1087.1,1281.0 1087.6,1279.0 1088.2,1282.4 1088.7,1282.0 1089.3,1279.5 1089.8,1291.1 1090.3,1299.9 1090.9,1301.9 1091.4,1305.2 1092.0,1303.5 1092.5,1311.5 1093.1,1309.8 1093.6,1311.1 1094.2,1313.6 1094.7,1309.1 1095.2,1315.6 1095.8,1315.3 1096.3,1309.8 1096.9,1313.4 1097.4,1313.7 1098.0,1310.7 1098.5,1307.2 1099.1,1302.7 1099.6,1295.9 1100.2,1280.3 1100.7,1268.6 1101.2,1276.3 1101.8,1294.6 1102.3,1300.6 1102.9,1307.8 1103.4,1315.8 1104.0,1317.9 1104.5,1317.1 1105.1,1320.8 1105.6,1321.4 1106.1,1315.1 1106.7,1323.3 1107.2,1318.9 1107.8,1323.4 1108.3,1327.6 1108.9,1322.9 1109.4,1320.2 1110.0,1320.7 1110.5,1316.8 1111.0,1318.2 1111.6,1319.3 1112.1,1315.7 1112.7,1318.6 1113.2,1317.9 1113.8,1316.8 1114.3,1318.6 1114.9,1322.7 1115.4,1318.6 1115.9,1321.0 1116.5,1317.1 1117.0,1318.7 1117.6,1311.6 1118.1,1304.6 1118.7,1291.2 1119.2,1296.1 1119.8,1300.0 1120.3,1301.7 1120.9,1312.4 1121.4,1311.8 1121.9,1317.6 1122.5,1319.5 1123.0,1321.6 1123.6,1320.5 1124.1,1321.6 1124.7,1319.3 1125.2,1316.5 1125.8,1318.3 1126.3,1320.8 1126.8,1320.0 1127.4,1314.4 1127.9,1318.6 1128.5,1316.0 1129.0,1318.7 1129.6,1315.9 1130.1,1321.6 1130.7,1313.3 1131.2,1311.4 1131.7,1307.8 1132.3,1300.1 1132.8,1307.5 1133.4,1306.1 1133.9,1311.6 1134.5,1311.9 1135.0,1314.7 1135.6,1314.2 1136.1,1317.4 1136.6,1314.1 1137.2,1314.8 1137.7,1319.5 1138.3,1313.9 1138.8,1314.7 1139.4,1316.2 1139.9,1317.5 1140.5,1317.4 1141.0,1320.8 1141.6,1321.6 1142.1,1325.0 1142.6,1319.1 1143.2,1317.6 1143.7,1315.1 1144.3,1319.3 1144.8,1318.9 1145.4,1312.5 1145.9,1306.5 1146.5,1304.6 1147.0,1295.8 1147.5,1288.6 1148.1,1277.1 1148.6,1268.5 1149.2,1258.2 1149.7,1252.7 1150.3,1253.4 1150.8,1259.9 1151.4,1268.9 1151.9,1279.4 1152.4,1287.4 1153.0,1292.2 1153.5,1301.4 1154.1,1304.7 1154.6,1304.5 1155.2,1307.3 1155.7,1306.7 1156.3,1302.2 1156.8,1302.2 1157.3,1300.7 1157.9,1299.4 1158.4,1296.1 1159.0,1291.7 1159.5,1286.3 1160.1,1279.0 1160.6,1267.4 1161.2,1259.1 1161.7,1246.0 1162.2,1225.7 1162.8,1201.7 1163.3,1171.2 1163.9,1135.7 1164.4,1095.5 1165.0,1058.6 1165.5,1019.0 1166.1,994.5 1166.6,1004.9 1167.2,1037.3 1167.7,1075.4 1168.2,1117.3 1168.8,1155.5 1169.3,1189.2 1169.9,1219.6 1170.4,1242.4 1171.0,1257.7 1171.5,1269.4 1172.1,1274.7 1172.6,1283.0 1173.1,1286.2 1173.7,1286.5 1174.2,1281.1 1174.8,1277.6 1175.3,1269.0 1175.9,1257.7 1176.4,1246.6 1177.0,1230.8 1177.5,1222.9 1178.0,1216.2 1178.6,1224.5 1179.1,1241.2 1179.7,1250.7 1180.2,1269.2 1180.8,1283.2 1181.3,1291.0 1181.9,1299.5 1182.4,1305.8 1182.9,1311.8 1183.5,1310.6 1184.0,1315.0 1184.6,1313.1 1185.1,1318.3 1185.7,1319.1 1186.2,1320.5 1186.8,1320.8 1187.3,1322.3 1187.9,1319.6 1188.4,1322.0 1188.9,1319.6 1189.5,1317.6 1190.0,1317.7 1190.6,1320.8 1191.1,1323.0 1191.7,1322.0 1192.2,1323.7 1192.8,1323.3 1193.3,1322.1 1193.8,1314.1 1194.4,1305.5 1194.9,1307.6 1195.5,1304.8 1196.0,1312.8 1196.6,1312.5 1197.1,1317.3 1197.7,1318.6 1198.2,1322.6 1198.7,1323.2 1199.3,1319.9 1199.8,1319.7 1200.4,1319.8 1200.9,1319.4 1201.5,1321.3 1202.0,1322.5 1202.6,1316.0 1203.1,1320.5 1203.6,1324.2 1204.2,1325.2 1204.7,1323.4 1205.3,1324.3 1205.8,1327.2 1206.4,1322.8 1206.9,1324.4 1207.5,1323.7 1208.0,1322.2 1208.6,1319.3 1209.1,1326.4 1209.6,1316.7 1210.2,1317.0 1210.7,1313.3 1211.3,1312.8 1211.8,1303.2 1212.4,1293.1 1212.9,1282.5 1213.5,1283.9 1214.0,1294.4 1214.5,1305.4 1215.1,1312.4 1215.6,1322.5 1216.2,1322.5 1216.7,1320.9 1217.3,1319.7 1217.8,1318.8 1218.4,1317.8 1218.9,1316.3 1219.4,1315.2 1220.0,1320.2 1220.5,1319.7 1221.1,1319.5 1221.6,1322.9 1222.2,1321.7 1222.7,1322.6 1223.3,1324.3 1223.8,1319.2 1224.3,1320.7 1224.9,1324.0 1225.4,1320.6 1226.0,1323.4 1226.5,1325.5 1227.1,1325.1 1227.6,1322.2 1228.2,1323.0 1228.7,1321.4 1229.2,1328.3 1229.8,1326.7 1230.3,1326.6 1230.9,1327.0 1231.4,1326.8 1232.0,1323.1 1232.5,1330.6 1233.1,1326.3 1233.6,1321.7 1234.2,1322.8 1234.7,1322.2 1235.2,1328.3 1235.8,1325.4 1236.3,1324.8 1236.9,1325.5 1237.4,1321.3 1238.0,1327.2 1238.5,1327.3 1239.1,1325.7 1239.6,1325.2 1240.1,1328.2 1240.7,1323.7 1241.2,1325.3 1241.8,1325.2 1242.3,1327.6 1242.9,1326.8 1243.4,1326.1 1244.0,1324.4 1244.5,1324.5 1245.0,1317.7 1245.6,1317.9 1246.1,1317.2 1246.7,1322.0 1247.2,1321.1 1247.8,1319.2 1248.3,1320.7 1248.9,1324.4 1249.4,1323.9 1249.9,1322.8 1250.5,1319.0 1251.0,1322.8 1251.6,1319.3 1252.1,1320.1 1252.7,1321.3 1253.2,1315.1 1253.8,1318.5 1254.3,1313.6 1254.9,1315.1 1255.4,1313.5 1255.9,1303.4 1256.5,1296.6 1257.0,1290.5 1257.6,1274.4 1258.1,1278.7 1258.7,1289.2 1259.2,1303.2 1259.8,1309.1 1260.3,1317.4 1260.8,1319.3 1261.4,1321.6 1261.9,1320.2 1262.5,1316.3 1263.0,1317.5 1263.6,1314.5 1264.1,1309.5 1264.7,1312.5 1265.2,1312.0 1265.7,1311.6 1266.3,1313.3 1266.8,1316.3 1267.4,1309.3 1267.9,1310.7 1268.5,1309.8 1269.0,1306.1 1269.6,1301.9 1270.1,1301.1 1270.6,1298.0 1271.2,1295.6 1271.7,1289.8 1272.3,1282.9 1272.8,1279.8 1273.4,1269.4 1273.9,1263.1 1274.5,1263.7 1275.0,1251.3 1275.6,1245.6 1276.1,1240.9 1276.6,1231.9 1277.2,1232.3 1277.7,1231.6 1278.3,1237.1 1278.8,1240.5 1279.4,1248.7 1279.9,1254.4 1280.5,1261.6 1281.0,1266.5 1281.5,1270.7 1282.1,1277.9 1282.6,1286.5 1283.2,1291.5 1283.7,1295.7 1284.3,1303.6 1284.8,1308.3 1285.4,1308.1 1285.9,1309.1 1286.4,1307.8 1287.0,1310.3 1287.5,1310.1 1288.1,1311.1 1288.6,1310.4 1289.2,1312.0 1289.7,1310.1 1290.3,1313.2 1290.8,1310.7 1291.3,1309.2 1291.9,1311.6 1292.4,1311.0 1293.0,1311.9 1293.5,1314.2 1294.1,1308.4 1294.6,1311.0 1295.2,1310.2 1295.7,1310.4 1296.2,1303.3 1296.8,1307.8 1297.3,1298.9 1297.9,1292.6 1298.4,1285.1 1299.0,1277.3 1299.5,1270.5 1300.1,1258.4 1300.6,1249.4 1301.2,1253.8 1301.7,1259.9 1302.2,1270.5 1302.8,1280.0 1303.3,1291.6 1303.9,1298.6 1304.4,1300.4 1305.0,1308.3 1305.5,1313.0 1306.1,1316.0 1306.6,1311.7 1307.1,1314.9 1307.7,1309.3 1308.2,1315.1 1308.8,1311.5 1309.3,1314.7 1309.9,1314.1 1310.4,1315.0 1311.0,1312.1 1311.5,1318.3 1312.0,1318.9 1312.6,1319.8 1313.1,1320.7 1313.7,1320.7 1314.2,1318.0 1314.8,1321.6 1315.3,1319.5 1315.9,1321.7 1316.4,1317.8 1316.9,1316.0 1317.5,1318.9 1318.0,1316.0 1318.6,1313.7 1319.1,1315.6 1319.7,1316.8 1320.2,1315.2 1320.8,1318.2 1321.3,1316.1 1321.9,1314.5 1322.4,1314.0 1322.9,1311.7 1323.5,1306.1 1324.0,1308.2 1324.6,1307.9 1325.1,1306.6 1325.7,1309.5 1326.2,1304.2 1326.8,1300.5 1327.3,1300.6 1327.8,1300.5 1328.4,1302.8 1328.9,1294.9 1329.5,1291.7 1330.0,1287.5 1330.6,1282.7 1331.1,1267.6 1331.7,1253.8 1332.2,1231.6 1332.7,1208.3 1333.3,1174.8 1333.8,1144.2 1334.4,1108.6 1334.9,1079.7 1335.5,1054.4 1336.0,1051.7 1336.6,1079.0 1337.1,1106.8 1337.6,1144.9 1338.2,1174.4 1338.7,1201.6 1339.3,1231.4 1339.8,1257.5 1340.4,1271.9 1340.9,1285.0 1341.5,1295.7 1342.0,1307.8 1342.6,1307.7 1343.1,1304.6 1343.6,1305.8 1344.2,1305.1 1344.7,1303.6 1345.3,1304.7 1345.8,1309.9 1346.4,1313.5 1346.9,1315.1 1347.5,1318.2 1348.0,1322.9 1348.5,1321.9 1349.1,1321.0 1349.6,1321.2 1350.2,1321.6 1350.7,1321.1 1351.3,1323.7 1351.8,1320.1 1352.4,1320.4 1352.9,1318.2 1353.4,1318.9 1354.0,1317.6 1354.5,1317.5 1355.1,1319.9 1355.6,1320.1 1356.2,1324.0 1356.7,1323.7 1357.3,1321.5 1357.8,1323.8 1358.3,1325.2 1358.9,1321.0 1359.4,1320.5 1360.0,1320.6 1360.5,1320.0 1361.1,1316.6 1361.6,1316.1 1362.2,1315.6 1362.7,1317.5 1363.2,1315.6 1363.8,1316.6 1364.3,1320.9 1364.9,1322.5 1365.4,1326.1 1366.0,1323.5 1366.5,1323.3 1367.1,1323.9 1367.6,1321.0 1368.2,1320.6 1368.7,1317.8 1369.2,1320.4 1369.8,1318.3 1370.3,1321.7 1370.9,1316.9 1371.4,1321.0 1372.0,1317.1 1372.5,1321.1 1373.1,1322.9 1373.6,1320.5 1374.1,1318.9 1374.7,1324.7 1375.2,1324.6 1375.8,1322.3 1376.3,1322.8 1376.9,1322.8 1377.4,1320.5 1378.0,1322.6 1378.5,1321.3 1379.0,1318.4 1379.6,1318.5 1380.1,1316.4 1380.7,1323.6 1381.2,1318.6 1381.8,1320.3 1382.3,1322.1 1382.9,1321.8 1383.4,1323.5 1383.9,1323.1 1384.5,1322.1 1385.0,1325.3 1385.6,1320.4 1386.1,1319.6 1386.7,1317.8 1387.2,1316.7 1387.8,1322.4 1388.3,1322.4 1388.9,1324.1 1389.4,1322.5 1389.9,1321.9 1390.5,1321.5 1391.0,1322.8 1391.6,1324.5 1392.1,1321.4 1392.7,1322.6 1393.2,1322.3 1393.8,1323.0 1394.3,1324.7 1394.8,1323.7 1395.4,1327.8 1395.9,1329.5 1396.5,1325.6 1397.0,1326.7 1397.6,1325.2 1398.1,1322.4 1398.7,1323.5 1399.2,1322.3 1399.7,1319.4 1400.3,1319.4 1400.8,1318.7 1401.4,1316.1 1401.9,1315.1 1402.5,1315.3 1403.0,1312.8 1403.6,1311.3 1404.1,1309.5 1404.6,1309.4 1405.2,1304.7 1405.7,1304.2 1406.3,1297.4 1406.8,1293.5 1407.4,1288.9 1407.9,1289.8 1408.5,1290.4 1409.0,1293.5 1409.5,1293.3 1410.1,1294.9 1410.6,1295.7 1411.2,1300.6 1411.7,1306.6 1412.3,1310.4 1412.8,1309.3 1413.4,1310.1 1413.9,1311.0 1414.5,1311.7 1415.0,1308.9 1415.5,1306.0 1416.1,1304.9 1416.6,1300.3 1417.2,1299.8 1417.7,1297.8 1418.3,1288.3 1418.8,1287.4 1419.4,1279.7 1419.9,1278.2 1420.4,1271.8 1421.0,1273.3 1421.5,1277.2 1422.1,1280.4 1422.6,1285.4 1423.2,1289.0 1423.7,1293.2 1424.3,1299.0 1424.8,1304.8 1425.3,1307.7 1425.9,1312.0 1426.4,1314.6 1427.0,1315.0 1427.5,1315.9 1428.1,1317.2 1428.6,1316.8 1429.2,1316.1 1429.7,1319.5 1430.2,1323.0 1430.8,1323.7 1431.3,1324.9 1431.9,1323.3 1432.4,1326.3 1433.0,1323.5 1433.5,1322.2 1434.1,1319.3 1434.6,1315.3 1435.2,1318.5 1435.7,1319.8 1436.2,1318.8 1436.8,1316.4 1437.3,1319.0 1437.9,1319.9 1438.4,1316.7 1439.0,1322.2 1439.5,1317.7 1440.1,1319.3 1440.6,1320.6 1441.1,1320.0 1441.7,1316.7 1442.2,1321.2 1442.8,1324.3 1443.3,1324.3 1443.9,1326.2 1444.4,1327.0 1445.0,1323.8 1445.5,1320.8 1446.0,1321.4 1446.6,1317.9 1447.1,1319.7 1447.7,1323.8 1448.2,1322.5 1448.8,1320.6 1449.3,1321.8 1449.9,1326.0 1450.4,1325.0 1450.9,1324.3 1451.5,1321.1 1452.0,1323.0 1452.6,1322.0 1453.1,1322.5 1453.7,1322.6 1454.2,1321.7 1454.8,1323.9 1455.3,1323.0 1455.9,1322.1 1456.4,1325.3 1456.9,1324.6 1457.5,1324.2 1458.0,1322.7 1458.6,1321.8 1459.1,1322.0 1459.7,1325.5 1460.2,1325.3 1460.8,1326.6 1461.3,1325.0 1461.8,1326.1 1462.4,1329.0 1462.9,1329.5 1463.5,1330.2 1464.0,1326.7 1464.6,1327.4 1465.1,1330.7 1465.7,1329.8 1466.2,1326.0 1466.7,1326.2 1467.3,1329.7 1467.8,1329.2 1468.4,1329.9 1468.9,1323.7 1469.5,1324.9 1470.0,1319.8 1470.6,1321.6 1471.1,1320.4 1471.6,1318.2 1472.2,1321.9 1472.7,1321.3 1473.3,1320.2 1473.8,1319.6 1474.4,1319.7 1474.9,1321.6 1475.5,1323.3 1476.0,1326.3 1476.5,1328.9 1477.1,1329.3 1477.6,1330.3 1478.2,1330.9 1478.7,1327.8 1479.3,1328.8 1479.8,1328.2 1480.4,1327.2 1480.9,1326.4 1481.5,1320.7 1482.0,1318.8 1482.5,1315.7 1483.1,1319.5 1483.6,1318.3 1484.2,1323.1 1484.7,1328.3 1485.3,1327.4 1485.8,1328.4 1486.4,1326.8 1486.9,1323.6 1487.4,1324.3 1488.0,1321.7 1488.5,1319.7 1489.1,1319.1 1489.6,1319.2 1490.2,1318.9 1490.7,1318.3 1491.3,1315.4 1491.8,1314.8 1492.3,1314.3 1492.9,1312.4 1493.4,1310.4 1494.0,1310.7 1494.5,1310.4 1495.1,1314.2 1495.6,1313.2 1496.2,1315.2 1496.7,1317.7 1497.2,1317.1 1497.8,1316.5 1498.3,1319.4 1498.9,1317.6 1499.4,1317.2 1500.0,1317.8 1500.5,1315.5 1501.1,1316.2 1501.6,1316.1 1502.2,1315.8 1502.7,1314.8 1503.2,1316.3 1503.8,1314.1 1504.3,1313.2 1504.9,1318.5 1505.4,1316.0 1506.0,1318.2 1506.5,1318.3 1507.1,1323.6 1507.6,1320.9 1508.1,1322.0 1508.7,1322.5 1509.2,1326.8 1509.8,1326.3 1510.3,1322.6 1510.9,1321.7 1511.4,1320.9 1512.0,1319.5 1512.5,1315.7 1513.0,1315.6 1513.6,1316.6 1514.1,1317.7 1514.7,1321.9 1515.2,1321.0 1515.8,1327.3 1516.3,1325.2 1516.9,1327.6 1517.4,1326.4 1517.9,1329.1 1518.5,1329.0 1519.0,1329.7 1519.6,1325.5 1520.1,1325.7 1520.7,1320.9 1521.2,1317.7 1521.8,1313.9 1522.3,1315.3 1522.9,1309.5 1523.4,1308.6 1523.9,1304.9 1524.5,1302.2 1525.0,1301.5 1525.6,1302.0 1526.1,1305.0 1526.7,1307.0 1527.2,1308.3 1527.8,1309.0 1528.3,1312.7 1528.8,1312.8 1529.4,1313.5 1529.9,1316.1 1530.5,1312.7 1531.0,1314.9 1531.6,1316.9 1532.1,1314.4 1532.7,1314.0 1533.2,1314.8 1533.7,1317.0 1534.3,1318.2 1534.8,1319.1 1535.4,1321.8 1535.9,1325.4 1536.5,1330.6 1537.0,1328.5 1537.6,1327.6 1538.1,1326.9 1538.6,1326.5 1539.2,1319.9 1539.7,1320.6 1540.3,1322.2 1540.8,1322.5 1541.4,1321.6 1541.9,1322.9 1542.5,1322.1 1543.0,1323.5 1543.5,1325.0 1544.1,1323.3 1544.6,1324.2 1545.2,1321.6 1545.7,1324.4 1546.3,1326.4 1546.8,1326.7 1547.4,1329.0 1547.9,1331.4 1548.5,1330.2 1549.0,1329.9 1549.5,1326.2 1550.1,1327.7 1550.6,1324.0 1551.2,1321.4 1551.7,1319.7 1552.3,1323.6 1552.8,1321.5 1553.4,1323.4 1553.9,1323.0 1554.4,1324.6 1555.0,1326.3 1555.5,1325.4 1556.1,1326.3 1556.6,1324.5 1557.2,1325.3 1557.7,1325.3 1558.3,1327.1 1558.8,1328.5 1559.3,1331.9 1559.9,1329.3 1560.4,1332.5 1561.0,1333.2 1561.5,1331.7 1562.1,1331.6 1562.6,1329.2 1563.2,1327.5 1563.7,1327.7 1564.2,1329.3 1564.8,1327.4 1565.3,1329.5 1565.9,1331.4 1566.4,1333.3 1567.0,1331.6 1567.5,1330.5 1568.1,1328.5 1568.6,1325.3 1569.2,1321.7 1569.7,1321.4 1570.2,1323.3 1570.8,1324.6 1571.3,1324.4 1571.9,1327.2 1572.4,1331.5 1573.0,1331.0 1573.5,1328.9 1574.1,1326.1 1574.6,1325.8 1575.1,1321.0 1575.7,1321.6 1576.2,1323.0 1576.8,1321.7 1577.3,1320.9 1577.9,1321.5 1578.4,1323.3 1579.0,1321.6 1579.5,1321.7 1580.0,1322.6 1580.6,1320.6 1581.1,1321.9 1581.7,1322.1 1582.2,1320.4 1582.8,1320.9 1583.3,1324.5 1583.9,1323.7 1584.4,1323.7 1584.9,1323.6 1585.5,1322.6 1586.0,1320.5 1586.6,1319.9 1587.1,1320.6 1587.7,1321.6 1588.2,1320.6 1588.8,1322.9 1589.3,1323.4 1589.9,1324.2 1590.4,1324.3 1590.9,1323.5 1591.5,1328.3 1592.0,1326.7 1592.6,1328.5 1593.1,1327.1 1593.7,1328.0 1594.2,1326.2 1594.8,1327.8 1595.3,1326.0 1595.8,1324.3 1596.4,1320.1 1596.9,1321.2 1597.5,1321.6 1598.0,1323.5 1598.6,1324.0 1599.1,1322.1 1599.7,1326.2 1600.2,1323.8 1600.7,1325.1 1601.3,1326.5 1601.8,1325.9 1602.4,1327.9 1602.9,1325.9 1603.5,1325.9 1604.0,1325.6 1604.6,1323.1 1605.1,1321.4 1605.6,1319.5 1606.2,1321.1 1606.7,1319.1 1607.3,1319.8 1607.8,1319.0 1608.4,1318.2 1608.9,1319.0 1609.5,1316.6 1610.0,1321.1 1610.5,1319.5 1611.1,1320.9 1611.6,1319.2 1612.2,1318.8 1612.7,1320.3 1613.3,1321.8 1613.8,1321.8 1614.4,1324.7 1614.9,1324.5 1615.5,1325.7 1616.0,1325.4 1616.5,1327.5 1617.1,1327.6 1617.6,1327.2 1618.2,1324.7 1618.7,1325.9 1619.3,1321.9 1619.8,1323.5 1620.4,1322.6 1620.9,1320.8 1621.4,1320.4 1622.0,1320.6 1622.5,1318.5 1623.1,1319.9 1623.6,1321.1 1624.2,1321.5 1624.7,1319.4 1625.3,1317.3 1625.8,1320.6 1626.3,1317.9 1626.9,1318.9 1627.4,1319.9 1628.0,1320.4 1628.5,1319.8 1629.1,1319.3 1629.6,1317.4 1630.2,1321.7 1630.7,1321.3 1631.2,1323.6 1631.8,1325.3 1632.3,1326.7 1632.9,1327.9 1633.4,1328.3 1634.0,1327.0 1634.5,1325.2 1635.1,1325.2 1635.6,1327.1 1636.2,1324.8 1636.7,1323.4 1637.2,1323.7 1637.8,1320.7 1638.3,1321.3 1638.9,1322.3 1639.4,1321.8 1640.0,1324.1 1640.5,1322.5 1641.1,1324.5 1641.6,1325.5 1642.1,1325.6 1642.7,1327.9 1643.2,1330.1 1643.8,1330.1 1644.3,1334.5 1644.9,1330.6 1645.4,1332.1 1646.0,1327.0 1646.5,1325.9 1647.0,1320.5 1647.6,1317.8 1648.1,1319.4 1648.7,1320.1 1649.2,1318.3 1649.8,1315.4 1650.3,1317.5 1650.9,1318.4 1651.4,1319.5 1651.9,1320.5 1652.5,1323.4 1653.0,1322.6 1653.6,1321.6 1654.1,1322.6 1654.7,1325.6 1655.2,1324.8 1655.8,1324.5 1656.3,1324.8 1656.9,1324.5 1657.4,1324.4 1657.9,1326.4 1658.5,1326.1 1659.0,1324.8 1659.6,1327.8 1660.1,1325.7 1660.7,1323.0 1661.2,1321.8 1661.8,1319.3 1662.3,1317.9 1662.8,1317.6 1663.4,1321.5 1663.9,1323.3 1664.5,1324.9 1665.0,1325.1 1665.6,1327.5 1666.1,1325.1 1666.7,1321.9 1667.2,1322.9 1667.7,1319.5 1668.3,1317.5 1668.8,1319.7 1669.4,1320.2 1669.9,1319.1 1670.5,1319.8 1671.0,1318.1 1671.6,1318.9 1672.1,1317.6 1672.6,1319.6 1673.2,1317.4 1673.7,1318.2 1674.3,1318.0 1674.8,1318.5 1675.4,1315.4 1675.9,1314.2 1676.5,1312.5 1677.0,1311.4 1677.5,1310.9 1678.1,1310.0 1678.6,1309.7 1679.2,1308.9 1679.7,1307.6 1680.3,1307.6 1680.8,1305.1 1681.4,1303.4 1681.9,1301.9 1682.5,1301.6 1683.0,1297.6 1683.5,1295.7 1684.1,1296.2 1684.6,1292.9 1685.2,1292.9 1685.7,1292.5 1686.3,1291.5 1686.8,1287.3 1687.4,1284.9 1687.9,1282.5 1688.4,1283.2 1689.0,1285.3 1689.5,1287.9 1690.1,1291.5 1690.6,1293.3 1691.2,1296.6 1691.7,1301.7 1692.3,1307.2 1692.8,1307.1 1693.3,1309.1 1693.9,1311.1 1694.4,1311.8 1695.0,1314.0 1695.5,1314.5 1696.1,1313.7 1696.6,1314.7 1697.2,1315.4 1697.7,1314.1 1698.2,1314.0 1698.8,1312.3 1699.3,1311.3 1699.9,1311.8 1700.4,1310.1 1701.0,1310.1 1701.5,1310.0 1702.1,1314.6 1702.6,1313.2 1703.2,1311.9 1703.7,1317.1 1704.2,1317.2 1704.8,1319.6 1705.3,1319.3 1705.9,1316.5 1706.4,1319.9 1707.0,1318.0 1707.5,1316.7 1708.1,1318.5 1708.6,1318.7 1709.1,1318.4 1709.7,1320.4 1710.2,1321.2 1710.8,1321.3 1711.3,1320.8 1711.9,1320.7 1712.4,1319.6 1713.0,1319.6 1713.5,1317.5 1714.0,1318.2 1714.6,1317.4 1715.1,1316.8 1715.7,1312.3 1716.2,1315.9 1716.8,1315.0 1717.3,1318.0 1717.9,1319.3 1718.4,1321.4 1718.9,1323.1 1719.5,1324.7 1720.0,1322.3 1720.6,1320.8 1721.1,1320.5 1721.7,1318.9 1722.2,1317.7 1722.8,1320.7 1723.3,1321.9 1723.9,1324.5 1724.4,1324.1 1724.9,1325.7 1725.5,1331.8 1726.0,1327.4 1726.6,1325.0 1727.1,1323.4 1727.7,1323.2 1728.2,1319.4 1728.8,1318.3 1729.3,1321.3 1729.8,1322.3 1730.4,1323.3 1730.9,1323.0 1731.5,1325.0 1732.0,1326.5 1732.6,1324.8 1733.1,1325.3 1733.7,1324.4 1734.2,1325.3 1734.7,1328.0 1735.3,1325.1 1735.8,1323.3 1736.4,1324.6 1736.9,1321.0 1737.5,1321.3 1738.0,1322.5 1738.6,1323.6 1739.1,1325.9 1739.6,1324.4 1740.2,1326.7 1740.7,1326.8 1741.3,1326.1 1741.8,1325.7 1742.4,1326.8 1742.9,1323.2 1743.5,1323.4 1744.0,1325.3 1744.5,1325.3 1745.1,1328.9 1745.6,1328.3 1746.2,1330.8 1746.7,1330.4 1747.3,1332.4 1747.8,1328.9 1748.4,1329.6 1748.9,1325.9 1749.5,1326.2 1750.0,1324.5 1750.5,1324.3 1751.1,1325.2 1751.6,1323.4 1752.2,1321.6 1752.7,1322.5 1753.3,1322.4 1753.8,1320.9 1754.4,1320.0 1754.9,1321.6 1755.4,1320.7 1756.0,1319.5 1756.5,1321.5 1757.1,1322.5 1757.6,1323.9 1758.2,1325.9 1758.7,1325.7 1759.3,1323.2 1759.8,1323.6 1760.3,1322.1 1760.9,1320.8 1761.4,1320.1 1762.0,1321.7 1762.5,1323.0 1763.1,1322.6 1763.6,1324.7 1764.2,1326.1 1764.7,1325.9 1765.2,1326.6 1765.8,1326.6 1766.3,1327.8 1766.9,1330.2 1767.4,1328.8 1768.0,1328.3 1768.5,1325.5 1769.1,1322.4 1769.6,1322.3 1770.2,1318.8 1770.7,1318.3 1771.2,1318.6 1771.8,1319.2 1772.3,1316.1 1772.9,1317.9 1773.4,1317.9 1774.0,1318.4 1774.5,1317.9 1775.1,1317.9 1775.6,1320.4 1776.1,1318.3 1776.7,1320.3 1777.2,1318.9 1777.8,1319.4 1778.3,1317.0 1778.9,1317.9 1779.4,1314.6 1780.0,1316.6 1780.5,1316.7 1781.0,1316.8 1781.6,1316.0 1782.1,1316.0 1782.7,1315.6 1783.2,1314.7 1783.8,1313.7 1784.3,1311.7 1784.9,1310.8 1785.4,1308.4 1785.9,1309.3 1786.5,1309.4 1787.0,1310.1 1787.6,1309.0 1788.1,1310.9 1788.7,1309.3 1789.2,1307.5 1789.8,1309.4 1790.3,1307.4 1790.8,1310.2 1791.4,1308.4 1791.9,1309.5 1792.5,1312.2 1793.0,1314.7 1793.6,1314.5 1794.1,1318.1 1794.7,1317.7 1795.2,1316.9 1795.8,1318.6 1796.3,1316.8 1796.8,1318.7 1797.4,1317.3 1797.9,1316.8 1798.5,1315.5 1799.0,1312.7 1799.6,1313.0 1800.1,1309.9 1800.7,1311.2 1801.2,1313.3 1801.7,1313.9 1802.3,1317.1 1802.8,1320.2 1803.4,1322.1 1803.9,1321.6 1804.5,1321.2 1805.0,1321.3 1805.6,1321.8 1806.1,1319.6 1806.6,1321.4 1807.2,1323.1 1807.7,1324.2 1808.3,1323.8 1808.8,1325.8 1809.4,1326.2 1809.9,1325.5 1810.5,1324.0 1811.0,1322.9 1811.5,1322.7 1812.1,1322.2 1812.6,1321.0 1813.2,1321.8 1813.7,1321.8 1814.3,1322.2 1814.8,1321.6 1815.4,1319.8 1815.9,1315.7 1816.5,1310.3 1817.0,1300.6 1817.5,1292.0 1818.1,1286.7 1818.6,1282.7 1819.2,1286.9 1819.7,1290.6 1820.3,1298.7 1820.8,1301.9 1821.4,1306.2 1821.9,1311.1 1822.4,1313.2 1823.0,1315.6 1823.5,1320.2 1824.1,1319.9 1824.6,1322.1 1825.2,1323.7 1825.7,1323.4 1826.3,1328.3 1826.8,1330.7 1827.3,1333.5 1827.9,1330.2 1828.4,1329.3 1829.0,1327.0 1829.5,1327.3 1830.1,1323.6 1830.6,1321.5 1831.2,1322.5 1831.7,1321.4 1832.2,1318.4 1832.8,1319.3 1833.3,1318.5 1833.9,1316.5 1834.4,1319.6 1835.0,1318.2 1835.5,1318.9 1836.1,1321.2 1836.6,1322.2 1837.2,1323.1 1837.7,1325.2 1838.2,1325.9 1838.8,1328.3 1839.3,1327.8 1839.9,1327.9 1840.4,1327.4 1841.0,1327.8 1841.5,1327.3 1842.1,1327.0 1842.6,1326.6 1843.1,1325.9 1843.7,1327.5 1844.2,1326.0 1844.8,1327.8 1845.3,1326.7 1845.9,1328.4 1846.4,1327.0 1847.0,1325.8 1847.5,1327.6 1848.0,1327.6 1848.6,1327.4 1849.1,1326.3 1849.7,1323.4 1850.2,1322.0 1850.8,1321.3 1851.3,1319.5 1851.9,1324.8 1852.4,1325.1 1852.9,1328.4 1853.5,1330.3 1854.0,1331.7 1854.6,1333.0 1855.1,1331.0 1855.7,1329.6 1856.2,1327.5 1856.8,1325.3 1857.3,1322.9 1857.8,1322.9 1858.4,1321.2 1858.9,1319.9 1859.5,1321.2 1860.0,1316.6 1860.6,1318.9 1861.1,1320.5 1861.7,1321.3 1862.2,1322.0 1862.8,1323.6 1863.3,1324.1 1863.8,1325.3 1864.4,1323.4 1864.9,1322.5 1865.5,1321.9 1866.0,1321.7 1866.6,1323.8 1867.1,1320.4 1867.7,1321.0 1868.2,1321.6 1868.7,1319.5 1869.3,1321.0 1869.8,1319.9 1870.4,1320.8 1870.9,1322.4 1871.5,1321.9 1872.0,1322.7 1872.6,1326.8 1873.1,1323.6 1873.6,1328.6 1874.2,1329.2 1874.7,1331.2 1875.3,1330.6 1875.8,1329.1 1876.4,1325.8 1876.9,1325.4 1877.5,1322.9 1878.0,1318.7 1878.5,1319.7 1879.1,1317.3 1879.6,1317.8 1880.2,1316.0 1880.7,1314.8 1881.3,1312.1 1881.8,1310.8 1882.4,1310.0 1882.9,1306.0 1883.5,1303.5 1884.0,1300.5 1884.5,1296.0 1885.1,1293.4 1885.6,1291.4 1886.2,1284.8 1886.7,1275.2 1887.3,1268.8 1887.8,1257.1 1888.4,1247.6 1888.9,1237.7 1889.4,1225.4 1890.0,1219.0 1890.5,1220.5 1891.1,1226.9 1891.6,1236.5 1892.2,1246.7 1892.7,1256.5 1893.3,1263.4 1893.8,1276.1 1894.3,1284.5 1894.9,1290.9 1895.4,1301.7 1896.0,1305.6 1896.5,1310.8 1897.1,1311.3 1897.6,1316.6 1898.2,1317.7 1898.7,1320.4 1899.2,1321.4 1899.8,1320.3 1900.3,1321.0 1900.9,1322.7 1901.4,1321.6 1902.0,1319.8 1902.5,1320.5 1903.1,1320.9 1903.6,1319.4 1904.2,1321.1 1904.7,1319.5 1905.2,1319.6 1905.8,1318.7 1906.3,1317.4 1906.9,1314.2 1907.4,1311.8 1908.0,1305.4 1908.5,1302.6 1909.1,1299.3 1909.6,1298.5 1910.1,1300.0 1910.7,1305.8 1911.2,1312.1 1911.8,1315.1 1912.3,1316.0 1912.9,1317.2 1913.4,1316.1 1914.0,1314.0 1914.5,1315.1 1915.0,1314.5 1915.6,1317.6 1916.1,1315.9 1916.7,1316.6 1917.2,1320.0 1917.8,1318.0 1918.3,1318.6 1918.9,1316.8 1919.4,1314.4 1919.9,1314.8 1920.5,1313.1 1921.0,1315.8 1921.6,1315.9 1922.1,1316.9 1922.7,1317.3 1923.2,1320.0 1923.8,1314.6 1924.3,1312.5 1924.8,1309.7 1925.4,1305.4 1925.9,1304.3 1926.5,1303.6 1927.0,1302.2 1927.6,1303.3 1928.1,1304.5 1928.7,1304.0 1929.2,1306.4 1929.8,1308.4 1930.3,1307.8 1930.8,1309.6 1931.4,1310.1 1931.9,1311.0 1932.5,1312.4 1933.0,1311.3 1933.6,1313.1 1934.1,1312.7 1934.7,1311.1 1935.2,1310.2 1935.7,1311.8 1936.3,1312.3 1936.8,1314.8 1937.4,1315.2 1937.9,1315.8 1938.5,1317.3 1939.0,1319.2 1939.6,1320.6 1940.1,1319.0 1940.6,1320.0 1941.2,1320.1 1941.7,1321.6 1942.3,1321.7 1942.8,1322.0 1943.4,1320.5 1943.9,1322.8 1944.5,1321.4 1945.0,1319.2 1945.5,1312.8 1946.1,1311.7 1946.6,1306.9 1947.2,1306.5 1947.7,1306.5 1948.3,1305.7 1948.8,1309.6 1949.4,1308.6 1949.9,1310.9 1950.5,1310.4 1951.0,1312.3 1951.5,1315.4 1952.1,1316.1 1952.6,1317.4 1953.2,1319.5 1953.7,1318.7 1954.3,1319.7 1954.8,1320.8 1955.4,1319.0 1955.9,1318.8 1956.4,1318.3 1957.0,1320.7 1957.5,1322.9 1958.1,1321.1 1958.6,1321.8 1959.2,1324.3 1959.7,1325.2 1960.3,1327.8 1960.8,1330.4 1961.3,1332.4 1961.9,1335.7 1962.4,1334.1 1963.0,1333.4 1963.5,1332.9 1964.1,1330.7 1964.6,1330.3 1965.2,1329.2 1965.7,1327.6 1966.2,1326.6 1966.8,1321.9 1967.3,1320.8 1967.9,1318.6 1968.4,1316.8 1969.0,1318.3 1969.5,1321.7 1970.1,1321.2 1970.6,1322.6 1971.2,1325.6 1971.7,1324.9 1972.2,1323.2 1972.8,1321.9 1973.3,1323.3 1973.9,1321.2 1974.4,1322.6 1975.0,1322.4 1975.5,1322.7 1976.1,1323.4 1976.6,1325.9 1977.1,1327.7 1977.7,1324.7 1978.2,1325.7 1978.8,1326.0 1979.3,1326.2 1979.9,1325.0 1980.4,1324.7 1981.0,1326.7 1981.5,1324.5 1982.0,1324.1 1982.6,1324.1 1983.1,1322.5 1983.7,1323.4 1984.2,1321.7 1984.8,1321.7 1985.3,1321.1 1985.9,1322.1 1986.4,1320.4 1986.9,1320.8 1987.5,1318.6 1988.0,1317.9 1988.6,1316.5 1989.1,1315.7 1989.7,1316.8 1990.2,1320.6 1990.8,1321.2 1991.3,1322.6 1991.8,1322.0 1992.4,1325.6 1992.9,1327.4 1993.5,1328.6 1994.0,1327.9 1994.6,1328.9 1995.1,1334.6 1995.7,1331.7 1996.2,1331.0 1996.8,1327.1 1997.3,1325.8 1997.8,1324.2 1998.4,1322.6 1998.9,1321.5 1999.5,1323.7 2000.0,1323.9 2000.6,1324.9 2001.1,1325.5 2001.7,1326.0 2002.2,1325.8 2002.7,1327.9 2003.3,1325.1 2003.8,1323.6 2004.4,1323.7 2004.9,1322.3 2005.5,1321.2 2006.0,1317.6 2006.6,1314.2 2007.1,1310.4 2007.6,1307.1 2008.2,1306.4 2008.7,1299.1 2009.3,1295.4 2009.8,1291.2 2010.4,1290.0 2010.9,1289.7 2011.5,1294.9 2012.0,1300.4 2012.5,1307.3 2013.1,1312.9 2013.6,1315.7 2014.2,1315.6 2014.7,1318.7 2015.3,1317.6 2015.8,1316.7 2016.4,1316.3 2016.9,1317.4 2017.5,1317.6 2018.0,1314.8 2018.5,1315.2 2019.1,1316.3 2019.6,1316.3 2020.2,1317.2 2020.7,1316.7 2021.3,1319.2 2021.8,1320.2 2022.4,1322.7 2022.9,1322.6 2023.4,1326.1 2024.0,1327.5 2024.5,1330.2 2025.1,1331.5 2025.6,1328.1 2026.2,1327.6 2026.7,1326.6 2027.3,1325.1 2027.8,1324.5 2028.3,1323.1 2028.9,1323.3 2029.4,1324.8 2030.0,1324.2 2030.5,1324.7 2031.1,1324.7 2031.6,1323.3 2032.2,1321.1 2032.7,1317.5 2033.2,1317.0 2033.8,1314.8 2034.3,1316.9 2034.9,1317.9 2035.4,1321.8 2036.0,1322.9 2036.5,1324.0 2037.1,1324.8 2037.6,1328.9 2038.2,1329.3 2038.7,1330.5 2039.2,1330.2 2039.8,1333.5 2040.3,1332.3 2040.9,1333.2 2041.4,1331.0 2042.0,1331.4 2042.5,1328.6 2043.1,1326.6 2043.6,1326.7 2044.1,1323.2 2044.7,1322.9 2045.2,1321.2 2045.8,1320.3 2046.3,1323.3 2046.9,1322.6 2047.4,1326.1 2048.0,1327.3 2048.5,1330.4 2049.0,1333.2 2049.6,1330.6 2050.1,1330.4 2050.7,1331.7 2051.2,1330.3 2051.8,1328.8 2052.3,1326.7 2052.9,1327.7 2053.4,1326.2 2053.9,1324.5 2054.5,1326.6 2055.0,1324.9 2055.6,1326.4 2056.1,1323.6 2056.7,1323.7 2057.2,1321.4 2057.8,1322.9 2058.3,1323.5 2058.8,1320.8 2059.4,1320.8 2059.9,1318.7 2060.5,1316.4 2061.0,1316.6 2061.6,1316.3 2062.1,1314.6 2062.7,1314.9 2063.2,1314.0 2063.8,1314.8 2064.3,1317.0 2064.8,1317.5 2065.4,1317.1 2065.9,1316.7 2066.5,1314.5 2067.0,1313.7 2067.6,1316.7 2068.1,1318.7 2068.7,1320.2 2069.2,1324.0 2069.7,1327.7 2070.3,1327.6 2070.8,1329.0 2071.4,1328.3 2071.9,1328.1 2072.5,1327.0 2073.0,1327.3 2073.6,1327.2 2074.1,1325.7 2074.6,1326.2 2075.2,1325.1 2075.7,1323.8 2076.3,1323.1 2076.8,1325.3 2077.4,1324.4 2077.9,1324.1 2078.5,1325.0 2079.0,1326.8 2079.5,1323.3 2080.1,1324.2 2080.6,1323.2 2081.2,1322.1 2081.7,1323.2 2082.3,1320.2 2082.8,1321.7 2083.4,1322.4 2083.9,1320.1 2084.5,1320.9 2085.0,1321.8 2085.5,1322.2 2086.1,1322.8 2086.6,1322.6 2087.2,1323.9 2087.7,1323.7 2088.3,1323.9 2088.8,1322.2 2089.4,1324.7 2089.9,1323.9 2090.4,1324.2 2091.0,1322.6 2091.5,1324.0 2092.1,1324.1 2092.6,1322.6 2093.2,1324.1 2093.7,1321.9 2094.3,1320.0 2094.8,1317.6 2095.3,1314.7 2095.9,1312.4 2096.4,1308.0 2097.0,1306.5 2097.5,1304.9 2098.1,1306.8 2098.6,1310.5 2099.2,1314.8 2099.7,1315.8 2100.2,1319.6 2100.8,1320.7 2101.3,1320.7 2101.9,1321.6 2102.4,1320.1 2103.0,1322.3 2103.5,1323.8 2104.1,1322.1 2104.6,1323.7 2105.2,1324.3 2105.7,1325.4 2106.2,1326.7 2106.8,1325.5 2107.3,1323.7 2107.9,1322.0 2108.4,1319.1 2109.0,1317.6 2109.5,1310.6 2110.1,1310.2 2110.6,1305.4 2111.1,1304.3 2111.7,1305.5 2112.2,1310.6 2112.8,1314.4 2113.3,1317.8 2113.9,1321.6 2114.4,1323.0 2115.0,1328.0 2115.5,1325.4 2116.0,1327.2 2116.6,1325.0 2117.1,1323.8 2117.7,1323.3 2118.2,1323.3 2118.8,1324.6 2119.3,1321.4 2119.9,1319.8 2120.4,1318.2 2120.9,1318.5 2121.5,1319.2 2122.0,1320.8 2122.6,1322.4 2123.1,1325.5 2123.7,1325.6 2124.2,1325.6 2124.8,1323.6 2125.3,1323.1 2125.8,1322.7 2126.4,1321.9 2126.9,1318.8 2127.5,1322.6 2128.0,1324.8 2128.6,1326.6 2129.1,1331.0 2129.7,1331.5 2130.2,1330.2 2130.8,1328.3 2131.3,1325.9 2131.8,1324.4 2132.4,1322.0 2132.9,1320.9 2133.5,1321.6 2134.0,1323.2 2134.6,1323.7 2135.1,1325.1 2135.7,1326.4 2136.2,1326.0 2136.7,1324.5 2137.3,1324.6 2137.8,1323.9 2138.4,1322.9 2138.9,1322.2 2139.5,1323.3 2140.0,1326.1 2140.6,1329.0 2141.1,1328.4 2141.6,1327.4 2142.2,1329.4 2142.7,1325.9 2143.3,1326.3 2143.8,1322.5 2144.4,1323.7 2144.9,1321.8 2145.5,1321.1 2146.0,1322.8 2146.5,1325.5 2147.1,1327.3 2147.6,1327.9 2148.2,1329.0 2148.7,1329.6 2149.3,1328.4 2149.8,1332.1 2150.4,1329.4 2150.9,1331.2 2151.5,1329.7 2152.0,1329.2 2152.5,1327.7 2153.1,1326.8 2153.6,1324.2 2154.2,1324.8 2154.7,1326.0 2155.3,1325.3 2155.8,1328.5 2156.4,1326.5 2156.9,1328.7 2157.4,1328.8 2158.0,1327.1 2158.5,1326.1 2159.1,1324.8 2159.6,1321.7 2160.2,1322.0 2160.7,1323.1 2161.3,1323.4 2161.8,1323.9 2162.3,1325.5 2162.9,1325.6 2163.4,1326.7 2164.0,1327.6 2164.5,1329.8 2165.1,1331.5 2165.6,1331.9 2166.2,1331.4 2166.7,1328.5 2167.2,1327.8 2167.8,1327.4 2168.3,1328.3 2168.9,1326.5 2169.4,1327.6 2170.0,1324.9 2170.5,1321.0 2171.1,1319.7 2171.6,1321.0 2172.1,1319.3 2172.7,1320.5 2173.2,1323.2 2173.8,1323.4 2174.3,1325.5 2174.9,1324.9 2175.4,1322.7 2176.0,1322.8 2176.5,1322.4 2177.1,1319.1 2177.6,1318.1 2178.1,1317.0 2178.7,1319.4 2179.2,1320.7 2179.8,1323.4 2180.3,1324.8 2180.9,1328.2 2181.4,1326.4 2182.0,1325.3 2182.5,1324.8 2183.0,1323.2 2183.6,1323.0 2184.1,1320.0 2184.7,1320.6 2185.2,1321.0 2185.8,1322.2 2186.3,1321.4 2186.9,1321.5 2187.4,1321.5 2187.9,1320.7 2188.5,1321.1 2189.0,1320.0 2189.6,1322.0 2190.1,1319.5 2190.7,1323.5 2191.2,1322.9 2191.8,1322.8 2192.3,1323.2 2192.8,1322.8 2193.4,1321.1 2193.9,1322.8 2194.5,1318.8 2195.0,1318.7 2195.6,1318.9 2196.1,1317.9 2196.7,1317.9 2197.2,1318.9 2197.8,1319.6 2198.3,1318.6 2198.8,1319.1 2199.4,1321.1 2199.9,1323.2 2200.5,1323.7 2201.0,1323.0 2201.6,1325.8 2202.1,1327.4 2202.7,1325.8 2203.2,1326.8 2203.7,1324.5 2204.3,1325.0 2204.8,1325.6 2205.4,1323.1 2205.9,1323.3 2206.5,1323.3 2207.0,1320.2 2207.6,1321.9 2208.1,1320.8 2208.6,1321.1 2209.2,1320.2 2209.7,1321.6 2210.3,1320.6 2210.8,1319.0 2211.4,1318.0 2211.9,1320.2 2212.5,1320.9 2213.0,1320.8 2213.5,1321.9 2214.1,1321.0 2214.6,1322.5 2215.2,1320.7 2215.7,1322.3 2216.3,1322.3 2216.8,1321.5 2217.4,1319.3 2217.9,1318.9 2218.5,1316.4 2219.0,1314.9 2219.5,1315.9 2220.1,1313.1 2220.6,1311.4 2221.2,1308.9 2221.7,1306.2 2222.3,1304.5 2222.8,1302.9 2223.4,1305.2 2223.9,1307.9 2224.4,1312.3 2225.0,1317.2 2225.5,1319.6 2226.1,1321.1 2226.6,1321.8 2227.2,1323.0 2227.7,1323.9 2228.3,1322.4 2228.8,1321.8 2229.3,1320.6 2229.9,1319.3 2230.4,1317.1 2231.0,1315.9 2231.5,1312.7 2232.1,1313.2 2232.6,1313.5 2233.2,1314.3 2233.7,1313.4 2234.2,1316.3 2234.8,1315.0 2235.3,1313.6 2235.9,1312.5 2236.4,1309.7 2237.0,1307.1 2237.5,1305.1 2238.1,1304.9 2238.6,1301.2 2239.1,1296.9 2239.7,1293.7 2240.2,1289.9 2240.8,1284.4 2241.3,1281.3 2241.9,1277.2 2242.4,1273.6 2243.0,1267.5 2243.5,1262.4 2244.1,1253.9 2244.6,1246.4 2245.1,1238.0 2245.7,1228.6 2246.2,1217.7 2246.8,1209.8 2247.3,1199.1 2247.9,1190.1 2248.4,1179.7 2249.0,1182.8 2249.5,1188.5 2250.0,1195.7 2250.6,1206.1 2251.1,1218.6 2251.7,1231.3 2252.2,1239.6 2252.8,1249.9 2253.3,1258.0 2253.9,1264.0 2254.4,1271.9 2254.9,1278.4 2255.5,1285.7 2256.0,1289.0 2256.6,1292.7 2257.1,1297.4 2257.7,1302.2 2258.2,1304.3 2258.8,1305.2 2259.3,1310.6 2259.8,1313.1 2260.4,1317.8 2260.9,1318.9 2261.5,1320.0 2262.0,1322.6 2262.6,1325.1 2263.1,1326.1 2263.7,1326.6 2264.2,1325.6 2264.8,1328.4 2265.3,1323.9 2265.8,1324.8 2266.4,1323.0 2266.9,1325.5 2267.5,1322.8 2268.0,1321.9 2268.6,1320.9 2269.1,1320.7 2269.7,1318.8 2270.2,1319.3 2270.7,1317.3 2271.3,1318.8 2271.8,1319.8 2272.4,1323.3 2272.9,1323.4 2273.5,1326.1 2274.0,1324.0 2274.6,1324.0 2275.1,1322.6 2275.6,1323.0 2276.2,1323.8 2276.7,1323.6 2277.3,1323.7 2277.8,1324.5 2278.4,1327.0 2278.9,1327.6 2279.5,1329.1 2280.0,1331.1 2280.5,1329.8 2281.1,1328.1 2281.6,1329.0 2282.2,1327.7 2282.7,1327.9 2283.3,1326.3 2283.8,1325.3 2284.4,1325.5 2284.9,1327.3 2285.5,1326.0 2286.0,1325.6 2286.5,1326.0 2287.1,1324.3 2287.6,1326.7 2288.2,1326.6 2288.7,1326.8 2289.3,1327.2 2289.8,1327.5 2290.4,1327.0 2290.9,1328.6 2291.4,1329.4 2292.0,1328.8 2292.5,1328.0 2293.1,1326.3 2293.6,1325.9 2294.2,1324.2 2294.7,1322.3 2295.3,1324.1 2295.8,1327.2"/>
<polyline fill="none" stroke="#00a763" stroke-width="6.50" stroke-linejoin="round" stroke-linecap="butt" points="389.3,1190.9 389.8,1192.2 390.4,1195.9 390.9,1187.5 391.5,1199.3 392.0,1194.4 392.6,1191.5 393.1,1192.3 393.7,1192.3 394.2,1197.6 394.7,1188.3 395.3,1196.7 395.8,1194.6 396.4,1194.5 396.9,1194.6 397.5,1196.4 398.0,1189.7 398.6,1194.6 399.1,1191.6 399.6,1200.0 400.2,1193.0 400.7,1195.6 401.3,1193.6 401.8,1194.1 402.4,1193.3 402.9,1195.0 403.5,1194.5 404.0,1194.2 404.6,1193.9 405.1,1194.4 405.6,1195.8 406.2,1193.1 406.7,1197.1 407.3,1187.5 407.8,1191.3 408.4,1189.0 408.9,1194.2 409.5,1197.8 410.0,1198.4 410.5,1195.8 411.1,1195.1 411.6,1194.1 412.2,1193.8 412.7,1190.4 413.3,1199.8 413.8,1186.7 414.4,1193.1 414.9,1191.3 415.4,1197.3 416.0,1190.4 416.5,1195.9 417.1,1189.7 417.6,1190.6 418.2,1191.2 418.7,1192.6 419.3,1193.3 419.8,1193.4 420.3,1189.4 420.9,1192.1 421.4,1191.6 422.0,1184.7 422.5,1192.2 423.1,1195.5 423.6,1199.8 424.2,1200.4 424.7,1192.0 425.3,1189.4 425.8,1196.0 426.3,1196.7 426.9,1193.8 427.4,1193.1 428.0,1190.8 428.5,1194.2 429.1,1195.6 429.6,1190.9 430.2,1195.8 430.7,1197.1 431.2,1195.6 431.8,1193.0 432.3,1193.2 432.9,1191.7 433.4,1191.4 434.0,1183.8 434.5,1189.9 435.1,1197.9 435.6,1195.1 436.1,1189.6 436.7,1192.5 437.2,1182.4 437.8,1191.3 438.3,1191.5 438.9,1190.3 439.4,1191.9 440.0,1189.7 440.5,1192.6 441.0,1190.8 441.6,1193.9 442.1,1200.6 442.7,1190.8 443.2,1186.9 443.8,1195.7 444.3,1194.8 444.9,1190.8 445.4,1195.5 446.0,1193.9 446.5,1195.3 447.0,1192.5 447.6,1194.8 448.1,1187.8 448.7,1194.0 449.2,1194.7 449.8,1198.4 450.3,1193.1 450.9,1196.0 451.4,1190.1 451.9,1189.2 452.5,1180.9 453.0,1190.3 453.6,1185.9 454.1,1183.9 454.7,1196.1 455.2,1189.5 455.8,1186.8 456.3,1193.1 456.8,1193.7 457.4,1189.8 457.9,1193.0 458.5,1193.0 459.0,1191.1 459.6,1196.4 460.1,1187.6 460.7,1194.8 461.2,1193.6 461.7,1194.8 462.3,1201.9 462.8,1198.7 463.4,1194.4 463.9,1193.0 464.5,1189.0 465.0,1183.8 465.6,1189.8 466.1,1192.3 466.6,1193.9 467.2,1187.2 467.7,1193.6 468.3,1191.6 468.8,1186.9 469.4,1191.6 469.9,1191.4 470.5,1190.7 471.0,1197.0 471.6,1192.5 472.1,1191.8 472.6,1191.4 473.2,1193.7 473.7,1197.7 474.3,1190.4 474.8,1180.5 475.4,1178.2 475.9,1169.3 476.5,1156.7 477.0,1159.0 477.5,1168.3 478.1,1174.4 478.6,1178.6 479.2,1182.1 479.7,1183.6 480.3,1178.3 480.8,1186.2 481.4,1172.0 481.9,1174.3 482.4,1173.8 483.0,1170.6 483.5,1174.2 484.1,1186.1 484.6,1185.0 485.2,1184.9 485.7,1186.8 486.3,1190.6 486.8,1195.2 487.3,1192.8 487.9,1186.0 488.4,1196.3 489.0,1182.8 489.5,1192.3 490.1,1191.9 490.6,1192.8 491.2,1190.0 491.7,1190.4 492.3,1195.0 492.8,1185.7 493.3,1189.1 493.9,1192.4 494.4,1198.3 495.0,1195.5 495.5,1195.1 496.1,1192.0 496.6,1195.1 497.2,1198.6 497.7,1195.1 498.2,1194.6 498.8,1193.3 499.3,1189.9 499.9,1194.5 500.4,1196.6 501.0,1187.3 501.5,1187.6 502.1,1194.4 502.6,1187.7 503.1,1191.6 503.7,1188.0 504.2,1189.0 504.8,1195.8 505.3,1195.2 505.9,1192.8 506.4,1197.2 507.0,1196.6 507.5,1195.8 508.0,1193.6 508.6,1193.4 509.1,1195.6 509.7,1193.7 510.2,1188.7 510.8,1190.5 511.3,1190.7 511.9,1194.0 512.4,1194.1 513.0,1196.5 513.5,1195.9 514.0,1199.7 514.6,1195.0 515.1,1196.4 515.7,1197.1 516.2,1196.6 516.8,1198.3 517.3,1191.4 517.9,1191.3 518.4,1189.2 518.9,1191.9 519.5,1193.6 520.0,1190.2 520.6,1197.2 521.1,1197.8 521.7,1190.3 522.2,1191.7 522.8,1192.5 523.3,1189.2 523.8,1193.8 524.4,1193.1 524.9,1192.5 525.5,1197.8 526.0,1192.7 526.6,1192.0 527.1,1194.0 527.7,1196.1 528.2,1196.3 528.7,1200.8 529.3,1196.3 529.8,1189.1 530.4,1189.5 530.9,1194.1 531.5,1196.6 532.0,1190.5 532.6,1191.0 533.1,1193.1 533.6,1197.3 534.2,1192.4 534.7,1191.9 535.3,1196.4 535.8,1197.6 536.4,1196.0 536.9,1193.6 537.5,1192.7 538.0,1192.0 538.6,1193.4 539.1,1194.9 539.6,1192.4 540.2,1190.4 540.7,1193.5 541.3,1192.2 541.8,1195.0 542.4,1197.3 542.9,1196.3 543.5,1195.5 544.0,1199.8 544.5,1195.4 545.1,1196.7 545.6,1194.0 546.2,1192.0 546.7,1193.8 547.3,1195.3 547.8,1193.1 548.4,1197.3 548.9,1192.6 549.4,1190.3 550.0,1193.2 550.5,1190.8 551.1,1197.4 551.6,1201.4 552.2,1193.4 552.7,1187.6 553.3,1197.2 553.8,1189.0 554.3,1195.8 554.9,1189.5 555.4,1196.8 556.0,1196.0 556.5,1194.1 557.1,1200.8 557.6,1195.1 558.2,1195.5 558.7,1191.8 559.3,1193.7 559.8,1193.7 560.3,1194.4 560.9,1188.2 561.4,1192.8 562.0,1194.0 562.5,1201.5 563.1,1190.0 563.6,1195.1 564.2,1194.6 564.7,1193.1 565.2,1195.3 565.8,1191.8 566.3,1196.1 566.9,1193.8 567.4,1194.3 568.0,1192.3 568.5,1192.8 569.1,1191.8 569.6,1192.8 570.1,1193.4 570.7,1192.4 571.2,1196.9 571.8,1197.5 572.3,1195.1 572.9,1194.4 573.4,1190.5 574.0,1198.9 574.5,1189.3 575.0,1195.2 575.6,1196.0 576.1,1192.1 576.7,1192.0 577.2,1189.8 577.8,1199.3 578.3,1189.4 578.9,1192.0 579.4,1189.3 580.0,1195.0 580.5,1199.4 581.0,1196.0 581.6,1195.6 582.1,1192.5 582.7,1191.5 583.2,1200.6 583.8,1198.8 584.3,1193.6 584.9,1196.5 585.4,1191.6 585.9,1190.8 586.5,1188.7 587.0,1195.4 587.6,1191.6 588.1,1192.4 588.7,1193.0 589.2,1194.0 589.8,1188.5 590.3,1188.9 590.8,1191.4 591.4,1191.6 591.9,1196.5 592.5,1190.0 593.0,1190.7 593.6,1193.9 594.1,1186.3 594.7,1190.1 595.2,1193.2 595.7,1190.6 596.3,1193.5 596.8,1193.3 597.4,1195.5 597.9,1191.9 598.5,1198.0 599.0,1195.7 599.6,1193.3 600.1,1193.9 600.6,1192.7 601.2,1195.3 601.7,1194.8 602.3,1191.9 602.8,1194.1 603.4,1190.2 603.9,1194.6 604.5,1192.8 605.0,1194.2 605.6,1189.9 606.1,1195.8 606.6,1190.3 607.2,1189.0 607.7,1190.7 608.3,1188.1 608.8,1195.3 609.4,1197.9 609.9,1194.9 610.5,1194.6 611.0,1192.2 611.5,1195.1 612.1,1194.6 612.6,1193.7 613.2,1187.6 613.7,1194.5 614.3,1192.8 614.8,1192.2 615.4,1188.9 615.9,1198.1 616.4,1200.0 617.0,1195.4 617.5,1197.4 618.1,1196.6 618.6,1200.5 619.2,1189.3 619.7,1198.6 620.3,1192.6 620.8,1192.4 621.3,1191.6 621.9,1188.9 622.4,1194.5 623.0,1194.9 623.5,1186.2 624.1,1178.7 624.6,1176.6 625.2,1176.1 625.7,1175.4 626.3,1186.6 626.8,1181.6 627.3,1194.4 627.9,1193.9 628.4,1192.8 629.0,1196.1 629.5,1190.6 630.1,1194.5 630.6,1193.6 631.2,1192.5 631.7,1187.6 632.2,1191.4 632.8,1192.8 633.3,1189.6 633.9,1196.5 634.4,1198.7 635.0,1195.7 635.5,1193.8 636.1,1197.7 636.6,1195.1 637.1,1193.1 637.7,1194.5 638.2,1193.1 638.8,1194.4 639.3,1190.2 639.9,1198.8 640.4,1189.7 641.0,1200.6 641.5,1193.5 642.0,1192.0 642.6,1185.8 643.1,1189.5 643.7,1198.2 644.2,1191.9 644.8,1197.1 645.3,1191.1 645.9,1190.2 646.4,1192.4 646.9,1197.1 647.5,1194.9 648.0,1198.6 648.6,1192.5 649.1,1198.7 649.7,1192.1 650.2,1191.5 650.8,1192.7 651.3,1187.1 651.9,1187.1 652.4,1182.5 652.9,1187.2 653.5,1186.6 654.0,1192.0 654.6,1186.4 655.1,1193.3 655.7,1195.0 656.2,1197.9 656.8,1192.1 657.3,1193.9 657.8,1196.2 658.4,1194.3 658.9,1192.5 659.5,1194.8 660.0,1193.0 660.6,1195.0 661.1,1192.6 661.7,1190.7 662.2,1193.0 662.7,1197.8 663.3,1192.7 663.8,1188.1 664.4,1197.7 664.9,1197.4 665.5,1194.1 666.0,1196.1 666.6,1195.2 667.1,1197.8 667.6,1194.9 668.2,1190.2 668.7,1199.3 669.3,1188.6 669.8,1194.9 670.4,1185.1 670.9,1189.5 671.5,1187.6 672.0,1189.9 672.6,1179.4 673.1,1180.6 673.6,1179.1 674.2,1168.5 674.7,1162.3 675.3,1148.8 675.8,1140.1 676.4,1113.2 676.9,1080.7 677.5,1040.8 678.0,993.5 678.5,955.4 679.1,950.3 679.6,986.9 680.2,1033.3 680.7,1076.2 681.3,1113.4 681.8,1139.1 682.4,1155.3 682.9,1161.9 683.4,1174.2 684.0,1179.8 684.5,1173.3 685.1,1181.0 685.6,1184.4 686.2,1184.3 686.7,1191.4 687.3,1188.0 687.8,1190.2 688.3,1190.4 688.9,1192.8 689.4,1191.1 690.0,1186.7 690.5,1194.2 691.1,1192.2 691.6,1190.1 692.2,1193.9 692.7,1196.9 693.3,1193.1 693.8,1192.9 694.3,1198.1 694.9,1198.6 695.4,1200.5 696.0,1198.0 696.5,1197.7 697.1,1198.7 697.6,1198.4 698.2,1195.4 698.7,1194.2 699.2,1186.8 699.8,1193.7 700.3,1188.4 700.9,1179.3 701.4,1170.5 702.0,1166.5 702.5,1174.4 703.1,1180.6 703.6,1192.3 704.1,1190.8 704.7,1188.3 705.2,1192.1 705.8,1196.0 706.3,1203.1 706.9,1194.7 707.4,1194.1 708.0,1191.6 708.5,1195.2 709.0,1199.6 709.6,1193.1 710.1,1197.6 710.7,1193.9 711.2,1192.5 711.8,1195.7 712.3,1190.7 712.9,1197.3 713.4,1190.0 713.9,1197.7 714.5,1198.0 715.0,1195.5 715.6,1195.6 716.1,1194.0 716.7,1192.5 717.2,1193.6 717.8,1194.9 718.3,1188.8 718.9,1196.2 719.4,1188.8 719.9,1195.2 720.5,1192.4 721.0,1192.0 721.6,1199.0 722.1,1194.2 722.7,1194.0 723.2,1196.0 723.8,1192.8 724.3,1194.9 724.8,1198.0 725.4,1196.9 725.9,1196.3 726.5,1198.1 727.0,1189.4 727.6,1197.3 728.1,1187.6 728.7,1184.3 729.2,1186.3 729.7,1187.7 730.3,1188.8 730.8,1190.1 731.4,1189.1 731.9,1184.3 732.5,1189.9 733.0,1188.1 733.6,1185.0 734.1,1187.9 734.6,1188.7 735.2,1189.1 735.7,1191.0 736.3,1187.5 736.8,1188.8 737.4,1189.1 737.9,1189.7 738.5,1185.6 739.0,1185.4 739.6,1184.4 740.1,1171.8 740.6,1164.8 741.2,1132.6 741.7,1105.2 742.3,1081.1 742.8,1096.4 743.4,1120.5 743.9,1149.8 744.5,1169.9 745.0,1178.2 745.5,1184.0 746.1,1181.5 746.6,1189.3 747.2,1191.0 747.7,1191.2 748.3,1193.0 748.8,1196.6 749.4,1191.1 749.9,1192.9 750.4,1190.8 751.0,1197.5 751.5,1190.6 752.1,1185.9 752.6,1180.5 753.2,1178.1 753.7,1163.7 754.3,1169.3 754.8,1177.4 755.3,1187.9 755.9,1192.9 756.4,1186.4 757.0,1187.2 757.5,1196.6 758.1,1189.1 758.6,1188.6 759.2,1193.9 759.7,1193.5 760.3,1193.8 760.8,1195.2 761.3,1186.8 761.9,1193.4 762.4,1193.2 763.0,1189.1 763.5,1185.4 764.1,1188.6 764.6,1193.0 765.2,1187.4 765.7,1188.4 766.2,1190.5 766.8,1182.9 767.3,1182.9 767.9,1186.6 768.4,1190.1 769.0,1184.2 769.5,1190.0 770.1,1192.5 770.6,1193.6 771.1,1192.0 771.7,1196.7 772.2,1193.4 772.8,1196.4 773.3,1196.0 773.9,1195.5 774.4,1197.4 775.0,1190.6 775.5,1192.5 776.0,1194.2 776.6,1195.1 777.1,1192.1 777.7,1188.8 778.2,1193.5 778.8,1198.2 779.3,1197.4 779.9,1199.4 780.4,1198.3 780.9,1197.4 781.5,1198.0 782.0,1195.4 782.6,1197.6 783.1,1196.2 783.7,1196.6 784.2,1199.6 784.8,1195.8 785.3,1197.6 785.9,1196.6 786.4,1201.5 786.9,1198.0 787.5,1197.5 788.0,1201.1 788.6,1196.1 789.1,1199.1 789.7,1198.7 790.2,1197.1 790.8,1202.8 791.3,1204.6 791.8,1199.4 792.4,1197.4 792.9,1195.5 793.5,1195.9 794.0,1192.0 794.6,1196.3 795.1,1198.9 795.7,1197.8 796.2,1199.8 796.7,1196.5 797.3,1199.0 797.8,1199.1 798.4,1198.4 798.9,1199.8 799.5,1198.1 800.0,1195.9 800.6,1194.9 801.1,1194.3 801.6,1190.5 802.2,1194.2 802.7,1190.8 803.3,1193.7 803.8,1192.1 804.4,1191.9 804.9,1196.5 805.5,1197.3 806.0,1194.4 806.6,1197.7 807.1,1195.5 807.6,1196.2 808.2,1195.9 808.7,1198.1 809.3,1195.9 809.8,1196.4 810.4,1194.1 810.9,1192.2 811.5,1192.7 812.0,1193.8 812.5,1193.7 813.1,1191.9 813.6,1194.4 814.2,1194.3 814.7,1191.8 815.3,1188.4 815.8,1195.0 816.4,1188.9 816.9,1194.1 817.4,1192.9 818.0,1194.1 818.5,1193.4 819.1,1186.3 819.6,1193.0 820.2,1190.5 820.7,1192.9 821.3,1189.1 821.8,1193.1 822.3,1195.2 822.9,1193.8 823.4,1192.1 824.0,1196.1 824.5,1195.4 825.1,1200.4 825.6,1188.6 826.2,1196.9 826.7,1196.3 827.3,1198.8 827.8,1194.0 828.3,1198.6 828.9,1192.1 829.4,1196.6 830.0,1198.9 830.5,1197.2 831.1,1201.5 831.6,1195.8 832.2,1188.4 832.7,1190.7 833.2,1196.2 833.8,1195.2 834.3,1199.1 834.9,1188.0 835.4,1191.5 836.0,1190.0 836.5,1187.2 837.1,1184.6 837.6,1183.9 838.1,1167.9 838.7,1155.7 839.2,1128.8 839.8,1113.4 840.3,1113.4 840.9,1140.4 841.4,1162.3 842.0,1173.7 842.5,1185.2 843.0,1188.0 843.6,1183.3 844.1,1190.9 844.7,1187.7 845.2,1194.8 845.8,1190.5 846.3,1195.9 846.9,1191.8 847.4,1193.0 847.9,1191.7 848.5,1188.7 849.0,1190.0 849.6,1189.0 850.1,1190.8 850.7,1190.9 851.2,1182.4 851.8,1186.1 852.3,1179.1 852.9,1174.5 853.4,1160.4 853.9,1139.9 854.5,1125.9 855.0,1131.6 855.6,1151.1 856.1,1163.4 856.7,1176.1 857.2,1187.3 857.8,1190.8 858.3,1192.8 858.8,1189.9 859.4,1196.9 859.9,1196.7 860.5,1197.4 861.0,1199.0 861.6,1202.4 862.1,1200.5 862.7,1203.3 863.2,1198.3 863.7,1202.5 864.3,1201.9 864.8,1198.6 865.4,1198.1 865.9,1194.8 866.5,1198.9 867.0,1194.6 867.6,1196.5 868.1,1197.1 868.6,1197.5 869.2,1199.0 869.7,1191.4 870.3,1196.7 870.8,1196.1 871.4,1191.4 871.9,1197.7 872.5,1188.4 873.0,1192.2 873.6,1191.5 874.1,1193.1 874.6,1193.0 875.2,1193.2 875.7,1189.6 876.3,1190.4 876.8,1195.6 877.4,1194.5 877.9,1192.4 878.5,1186.5 879.0,1190.0 879.5,1194.0 880.1,1192.3 880.6,1194.5 881.2,1192.9 881.7,1195.1 882.3,1192.7 882.8,1196.1 883.4,1196.0 883.9,1188.0 884.4,1195.6 885.0,1195.6 885.5,1191.5 886.1,1189.9 886.6,1189.6 887.2,1194.1 887.7,1198.4 888.3,1196.8 888.8,1198.7 889.3,1196.8 889.9,1197.1 890.4,1197.5 891.0,1192.7 891.5,1194.7 892.1,1192.0 892.6,1193.5 893.2,1194.2 893.7,1192.6 894.3,1189.2 894.8,1185.1 895.3,1189.5 895.9,1191.6 896.4,1193.2 897.0,1192.2 897.5,1194.9 898.1,1195.4 898.6,1196.4 899.2,1196.7 899.7,1200.3 900.2,1193.9 900.8,1193.0 901.3,1191.9 901.9,1194.4 902.4,1192.5 903.0,1192.6 903.5,1193.3 904.1,1193.8 904.6,1198.3 905.1,1193.5 905.7,1192.2 906.2,1195.8 906.8,1188.2 907.3,1190.1 907.9,1188.8 908.4,1187.8 909.0,1191.7 909.5,1194.1 910.0,1190.7 910.6,1191.9 911.1,1193.6 911.7,1193.6 912.2,1194.6 912.8,1192.9 913.3,1194.1 913.9,1188.8 914.4,1191.1 914.9,1194.7 915.5,1192.5 916.0,1192.0 916.6,1192.6 917.1,1195.5 917.7,1198.6 918.2,1198.1 918.8,1197.8 919.3,1201.8 919.9,1198.2 920.4,1205.2 920.9,1194.6 921.5,1193.7 922.0,1191.0 922.6,1196.5 923.1,1193.0 923.7,1199.7 924.2,1200.5 924.8,1200.6 925.3,1202.8 925.8,1201.9 926.4,1202.0 926.9,1198.8 927.5,1190.3 928.0,1196.2 928.6,1193.2 929.1,1190.7 929.7,1190.5 930.2,1194.8 930.7,1195.0 931.3,1195.2 931.8,1193.2 932.4,1198.3 932.9,1195.7 933.5,1195.8 934.0,1199.9 934.6,1193.4 935.1,1193.3 935.6,1201.3 936.2,1194.6 936.7,1190.6 937.3,1191.2 937.8,1188.1 938.4,1192.6 938.9,1191.7 939.5,1193.8 940.0,1192.3 940.6,1190.7 941.1,1196.9 941.6,1191.1 942.2,1193.9 942.7,1198.0 943.3,1197.1 943.8,1194.9 944.4,1196.1 944.9,1191.3 945.5,1193.5 946.0,1196.7 946.5,1196.6 947.1,1197.3 947.6,1192.5 948.2,1195.8 948.7,1189.4 949.3,1189.9 949.8,1192.5 950.4,1191.4 950.9,1190.4 951.4,1193.7 952.0,1191.2 952.5,1189.1 953.1,1188.9 953.6,1185.4 954.2,1188.8 954.7,1185.2 955.3,1179.3 955.8,1183.5 956.3,1177.7 956.9,1165.4 957.4,1156.6 958.0,1141.0 958.5,1114.0 959.1,1077.3 959.6,1034.1 960.2,998.7 960.7,967.2 961.2,997.6 961.8,1040.5 962.3,1083.5 962.9,1119.6 963.4,1145.2 964.0,1158.2 964.5,1173.7 965.1,1178.5 965.6,1180.1 966.2,1185.3 966.7,1186.3 967.2,1185.5 967.8,1184.7 968.3,1192.9 968.9,1190.4 969.4,1191.0 970.0,1191.0 970.5,1190.4 971.1,1193.9 971.6,1193.7 972.1,1193.8 972.7,1191.3 973.2,1192.0 973.8,1195.0 974.3,1194.2 974.9,1192.3 975.4,1200.2 976.0,1202.4 976.5,1199.7 977.0,1195.6 977.6,1199.7 978.1,1203.6 978.7,1199.7 979.2,1198.6 979.8,1196.8 980.3,1197.2 980.9,1197.9 981.4,1195.4 981.9,1192.3 982.5,1188.5 983.0,1181.3 983.6,1176.0 984.1,1172.5 984.7,1176.0 985.2,1185.2 985.8,1186.5 986.3,1189.2 986.9,1195.7 987.4,1191.7 987.9,1195.5 988.5,1198.5 989.0,1198.9 989.6,1198.8 990.1,1200.9 990.7,1198.7 991.2,1199.8 991.8,1198.1 992.3,1193.5 992.8,1196.3 993.4,1199.4 993.9,1195.1 994.5,1194.5 995.0,1203.4 995.6,1199.1 996.1,1196.6 996.7,1196.4 997.2,1197.9 997.7,1198.6 998.3,1197.2 998.8,1194.3 999.4,1195.9 999.9,1199.1 1000.5,1198.3 1001.0,1200.3 1001.6,1197.8 1002.1,1200.3 1002.6,1195.3 1003.2,1194.3 1003.7,1201.7 1004.3,1196.8 1004.8,1196.2 1005.4,1197.7 1005.9,1201.3 1006.5,1195.7 1007.0,1197.0 1007.6,1196.5 1008.1,1196.3 1008.6,1197.3 1009.2,1200.4 1009.7,1197.0 1010.3,1198.0 1010.8,1198.0 1011.4,1196.8 1011.9,1196.6 1012.5,1195.7 1013.0,1198.2 1013.5,1197.0 1014.1,1197.3 1014.6,1197.6 1015.2,1195.4 1015.7,1205.3 1016.3,1199.5 1016.8,1201.0 1017.4,1196.8 1017.9,1195.6 1018.4,1198.8 1019.0,1197.6 1019.5,1195.6 1020.1,1195.7 1020.6,1196.0 1021.2,1194.7 1021.7,1196.6 1022.3,1192.7 1022.8,1195.8 1023.3,1193.2 1023.9,1186.6 1024.4,1192.5 1025.0,1196.0 1025.5,1188.7 1026.1,1189.6 1026.6,1192.0 1027.2,1191.3 1027.7,1190.8 1028.2,1192.8 1028.8,1195.3 1029.3,1197.2 1029.9,1192.3 1030.4,1192.9 1031.0,1195.2 1031.5,1187.3 1032.1,1186.0 1032.6,1176.1 1033.2,1176.1 1033.7,1172.7 1034.2,1180.3 1034.8,1185.8 1035.3,1186.9 1035.9,1190.0 1036.4,1187.5 1037.0,1195.2 1037.5,1192.9 1038.1,1193.4 1038.6,1199.6 1039.1,1195.0 1039.7,1194.6 1040.2,1194.8 1040.8,1192.8 1041.3,1190.6 1041.9,1196.0 1042.4,1195.7 1043.0,1193.1 1043.5,1194.3 1044.0,1195.1 1044.6,1195.5 1045.1,1189.8 1045.7,1197.8 1046.2,1194.1 1046.8,1194.6 1047.3,1200.6 1047.9,1200.7 1048.4,1202.3 1048.9,1203.1 1049.5,1200.2 1050.0,1194.4 1050.6,1193.0 1051.1,1189.6 1051.7,1193.4 1052.2,1190.8 1052.8,1193.2 1053.3,1193.2 1053.9,1187.8 1054.4,1191.0 1054.9,1186.0 1055.5,1182.5 1056.0,1174.4 1056.6,1166.5 1057.1,1135.5 1057.7,1102.1 1058.2,1059.9 1058.8,1020.5 1059.3,1048.5 1059.8,1093.6 1060.4,1132.4 1060.9,1163.3 1061.5,1173.8 1062.0,1182.8 1062.6,1183.8 1063.1,1192.9 1063.7,1189.2 1064.2,1195.4 1064.7,1196.8 1065.3,1191.9 1065.8,1200.1 1066.4,1198.3 1066.9,1196.1 1067.5,1190.3 1068.0,1195.8 1068.6,1195.4 1069.1,1195.3 1069.6,1190.9 1070.2,1192.1 1070.7,1189.5 1071.3,1192.7 1071.8,1189.9 1072.4,1189.0 1072.9,1194.1 1073.5,1186.5 1074.0,1188.7 1074.6,1186.0 1075.1,1179.5 1075.6,1176.6 1076.2,1174.9 1076.7,1159.9 1077.3,1146.5 1077.8,1117.1 1078.4,1087.9 1078.9,1053.0 1079.5,1008.6 1080.0,987.7 1080.5,1005.0 1081.1,1037.4 1081.6,1072.0 1082.2,1106.6 1082.7,1135.9 1083.3,1150.3 1083.8,1167.2 1084.4,1173.0 1084.9,1179.3 1085.4,1176.0 1086.0,1177.3 1086.5,1178.2 1087.1,1183.1 1087.6,1185.7 1088.2,1184.7 1088.7,1189.8 1089.3,1193.4 1089.8,1191.8 1090.3,1193.8 1090.9,1201.6 1091.4,1200.5 1092.0,1201.8 1092.5,1202.7 1093.1,1202.0 1093.6,1199.7 1094.2,1203.0 1094.7,1201.1 1095.2,1196.8 1095.8,1192.6 1096.3,1187.0 1096.9,1190.1 1097.4,1185.1 1098.0,1186.1 1098.5,1177.6 1099.1,1160.9 1099.6,1155.2 1100.2,1134.9 1100.7,1122.0 1101.2,1129.7 1101.8,1151.2 1102.3,1172.6 1102.9,1177.8 1103.4,1187.8 1104.0,1189.4 1104.5,1188.0 1105.1,1194.3 1105.6,1195.0 1106.1,1190.7 1106.7,1190.8 1107.2,1192.2 1107.8,1189.9 1108.3,1192.0 1108.9,1192.0 1109.4,1193.6 1110.0,1196.7 1110.5,1195.4 1111.0,1201.7 1111.6,1196.6 1112.1,1199.2 1112.7,1195.9 1113.2,1194.6 1113.8,1190.9 1114.3,1192.9 1114.9,1190.2 1115.4,1194.6 1115.9,1197.2 1116.5,1191.1 1117.0,1190.6 1117.6,1190.4 1118.1,1186.8 1118.7,1177.8 1119.2,1182.8 1119.8,1187.8 1120.3,1192.3 1120.9,1193.0 1121.4,1196.0 1121.9,1196.6 1122.5,1195.8 1123.0,1202.5 1123.6,1199.6 1124.1,1198.0 1124.7,1200.3 1125.2,1197.3 1125.8,1196.9 1126.3,1193.1 1126.8,1190.2 1127.4,1192.6 1127.9,1191.8 1128.5,1192.0 1129.0,1194.4 1129.6,1191.7 1130.1,1193.3 1130.7,1192.8 1131.2,1188.8 1131.7,1190.8 1132.3,1186.1 1132.8,1191.6 1133.4,1188.5 1133.9,1191.9 1134.5,1192.1 1135.0,1192.9 1135.6,1191.7 1136.1,1192.5 1136.6,1193.5 1137.2,1191.1 1137.7,1189.3 1138.3,1195.7 1138.8,1197.1 1139.4,1196.9 1139.9,1193.2 1140.5,1198.1 1141.0,1198.7 1141.6,1197.3 1142.1,1196.5 1142.6,1195.8 1143.2,1192.3 1143.7,1192.9 1144.3,1193.4 1144.8,1189.3 1145.4,1185.0 1145.9,1182.0 1146.5,1180.1 1147.0,1174.9 1147.5,1169.6 1148.1,1162.6 1148.6,1150.8 1149.2,1145.8 1149.7,1132.3 1150.3,1135.0 1150.8,1142.0 1151.4,1148.4 1151.9,1152.5 1152.4,1157.3 1153.0,1160.9 1153.5,1160.2 1154.1,1158.9 1154.6,1164.7 1155.2,1164.9 1155.7,1159.5 1156.3,1157.5 1156.8,1154.7 1157.3,1145.5 1157.9,1136.3 1158.4,1127.1 1159.0,1115.1 1159.5,1100.5 1160.1,1079.6 1160.6,1058.0 1161.2,1025.4 1161.7,985.5 1162.2,932.1 1162.8,876.8 1163.3,802.6 1163.9,726.2 1164.4,643.2 1165.0,565.0 1165.5,495.6 1166.1,448.8 1166.6,469.9 1167.2,528.7 1167.7,604.2 1168.2,683.1 1168.8,761.3 1169.3,835.1 1169.9,902.5 1170.4,956.3 1171.0,1002.4 1171.5,1036.4 1172.1,1064.5 1172.6,1084.8 1173.1,1098.3 1173.7,1108.1 1174.2,1117.8 1174.8,1115.9 1175.3,1117.3 1175.9,1108.2 1176.4,1099.1 1177.0,1089.5 1177.5,1071.2 1178.0,1067.5 1178.6,1086.2 1179.1,1106.5 1179.7,1129.3 1180.2,1145.8 1180.8,1161.0 1181.3,1165.7 1181.9,1172.8 1182.4,1178.8 1182.9,1180.6 1183.5,1184.6 1184.0,1180.6 1184.6,1184.9 1185.1,1187.5 1185.7,1182.6 1186.2,1189.1 1186.8,1192.3 1187.3,1192.4 1187.9,1197.1 1188.4,1194.3 1188.9,1192.9 1189.5,1197.4 1190.0,1194.5 1190.6,1194.1 1191.1,1195.9 1191.7,1190.3 1192.2,1190.4 1192.8,1187.3 1193.3,1186.5 1193.8,1187.9 1194.4,1181.4 1194.9,1176.3 1195.5,1178.2 1196.0,1179.8 1196.6,1187.1 1197.1,1189.2 1197.7,1194.9 1198.2,1196.1 1198.7,1190.7 1199.3,1199.9 1199.8,1195.2 1200.4,1196.0 1200.9,1197.6 1201.5,1196.1 1202.0,1196.9 1202.6,1197.7 1203.1,1195.7 1203.6,1193.1 1204.2,1199.4 1204.7,1196.4 1205.3,1197.6 1205.8,1193.2 1206.4,1196.1 1206.9,1200.1 1207.5,1197.0 1208.0,1193.7 1208.6,1192.6 1209.1,1195.3 1209.6,1189.8 1210.2,1193.0 1210.7,1188.9 1211.3,1180.7 1211.8,1174.4 1212.4,1160.7 1212.9,1150.1 1213.5,1155.4 1214.0,1168.5 1214.5,1179.6 1215.1,1186.2 1215.6,1191.9 1216.2,1198.0 1216.7,1192.3 1217.3,1196.2 1217.8,1200.2 1218.4,1197.9 1218.9,1194.8 1219.4,1194.6 1220.0,1195.8 1220.5,1200.1 1221.1,1195.5 1221.6,1194.7 1222.2,1193.3 1222.7,1197.4 1223.3,1198.6 1223.8,1197.5 1224.3,1194.8 1224.9,1196.7 1225.4,1199.3 1226.0,1194.2 1226.5,1197.3 1227.1,1193.9 1227.6,1196.7 1228.2,1197.5 1228.7,1195.6 1229.2,1196.5 1229.8,1192.2 1230.3,1194.6 1230.9,1190.8 1231.4,1187.0 1232.0,1194.3 1232.5,1192.1 1233.1,1191.6 1233.6,1192.9 1234.2,1196.7 1234.7,1193.0 1235.2,1194.5 1235.8,1192.9 1236.3,1192.4 1236.9,1193.1 1237.4,1192.5 1238.0,1191.8 1238.5,1192.0 1239.1,1192.7 1239.6,1193.0 1240.1,1193.9 1240.7,1193.2 1241.2,1193.9 1241.8,1192.0 1242.3,1192.3 1242.9,1190.2 1243.4,1191.2 1244.0,1181.7 1244.5,1186.0 1245.0,1190.4 1245.6,1191.7 1246.1,1197.7 1246.7,1192.7 1247.2,1196.0 1247.8,1195.5 1248.3,1196.0 1248.9,1194.7 1249.4,1195.6 1249.9,1190.8 1250.5,1189.2 1251.0,1188.0 1251.6,1187.1 1252.1,1185.3 1252.7,1186.9 1253.2,1191.6 1253.8,1188.9 1254.3,1187.9 1254.9,1191.1 1255.4,1186.5 1255.9,1182.0 1256.5,1175.2 1257.0,1157.1 1257.6,1149.7 1258.1,1147.9 1258.7,1158.0 1259.2,1170.7 1259.8,1176.5 1260.3,1180.8 1260.8,1180.9 1261.4,1185.0 1261.9,1184.8 1262.5,1182.5 1263.0,1185.9 1263.6,1181.9 1264.1,1180.2 1264.7,1183.7 1265.2,1179.9 1265.7,1174.3 1266.3,1178.0 1266.8,1178.9 1267.4,1174.2 1267.9,1175.2 1268.5,1169.5 1269.0,1169.4 1269.6,1163.4 1270.1,1159.4 1270.6,1152.0 1271.2,1144.3 1271.7,1141.6 1272.3,1130.2 1272.8,1116.1 1273.4,1103.5 1273.9,1093.1 1274.5,1080.8 1275.0,1061.1 1275.6,1052.1 1276.1,1034.3 1276.6,1026.9 1277.2,1021.1 1277.7,1023.9 1278.3,1029.3 1278.8,1040.5 1279.4,1054.1 1279.9,1062.4 1280.5,1073.0 1281.0,1083.3 1281.5,1090.0 1282.1,1093.6 1282.6,1101.3 1283.2,1105.7 1283.7,1108.9 1284.3,1110.4 1284.8,1108.6 1285.4,1116.2 1285.9,1125.7 1286.4,1133.5 1287.0,1145.9 1287.5,1152.3 1288.1,1162.6 1288.6,1165.4 1289.2,1172.8 1289.7,1177.7 1290.3,1182.3 1290.8,1182.4 1291.3,1184.9 1291.9,1184.0 1292.4,1188.9 1293.0,1186.1 1293.5,1184.8 1294.1,1190.7 1294.6,1186.1 1295.2,1184.7 1295.7,1184.0 1296.2,1182.8 1296.8,1177.9 1297.3,1177.1 1297.9,1167.9 1298.4,1159.0 1299.0,1145.3 1299.5,1132.4 1300.1,1111.9 1300.6,1095.8 1301.2,1096.3 1301.7,1113.3 1302.2,1127.0 1302.8,1148.8 1303.3,1164.4 1303.9,1172.2 1304.4,1178.1 1305.0,1179.4 1305.5,1184.6 1306.1,1187.6 1306.6,1186.2 1307.1,1187.8 1307.7,1190.8 1308.2,1191.6 1308.8,1192.6 1309.3,1195.3 1309.9,1194.0 1310.4,1192.5 1311.0,1193.4 1311.5,1194.9 1312.0,1188.2 1312.6,1191.5 1313.1,1190.4 1313.7,1187.8 1314.2,1184.1 1314.8,1184.4 1315.3,1184.0 1315.9,1185.6 1316.4,1190.1 1316.9,1186.5 1317.5,1186.4 1318.0,1188.1 1318.6,1185.1 1319.1,1186.1 1319.7,1185.5 1320.2,1183.9 1320.8,1184.4 1321.3,1183.1 1321.9,1182.2 1322.4,1181.7 1322.9,1181.3 1323.5,1178.9 1324.0,1179.5 1324.6,1178.1 1325.1,1178.6 1325.7,1172.1 1326.2,1172.0 1326.8,1162.6 1327.3,1161.1 1327.8,1156.2 1328.4,1150.7 1328.9,1142.4 1329.5,1131.2 1330.0,1120.0 1330.6,1097.8 1331.1,1072.6 1331.7,1040.6 1332.2,1002.6 1332.7,958.0 1333.3,910.5 1333.8,861.4 1334.4,815.9 1334.9,769.3 1335.5,739.5 1336.0,738.0 1336.6,772.6 1337.1,814.0 1337.6,864.0 1338.2,915.8 1338.7,958.3 1339.3,1004.6 1339.8,1039.3 1340.4,1068.0 1340.9,1092.0 1341.5,1113.1 1342.0,1124.2 1342.6,1134.6 1343.1,1146.2 1343.6,1151.9 1344.2,1157.8 1344.7,1162.3 1345.3,1165.3 1345.8,1174.1 1346.4,1177.8 1346.9,1177.9 1347.5,1184.5 1348.0,1184.1 1348.5,1185.9 1349.1,1188.0 1349.6,1185.8 1350.2,1189.5 1350.7,1190.5 1351.3,1185.6 1351.8,1189.4 1352.4,1185.5 1352.9,1188.6 1353.4,1195.5 1354.0,1194.0 1354.5,1193.7 1355.1,1194.8 1355.6,1190.5 1356.2,1192.4 1356.7,1190.7 1357.3,1191.2 1357.8,1190.7 1358.3,1192.6 1358.9,1191.1 1359.4,1191.1 1360.0,1189.3 1360.5,1192.2 1361.1,1194.9 1361.6,1190.9 1362.2,1193.4 1362.7,1194.1 1363.2,1193.1 1363.8,1195.8 1364.3,1192.4 1364.9,1193.5 1365.4,1194.9 1366.0,1193.0 1366.5,1193.8 1367.1,1192.6 1367.6,1197.2 1368.2,1197.0 1368.7,1199.1 1369.2,1196.4 1369.8,1197.5 1370.3,1196.1 1370.9,1196.9 1371.4,1196.5 1372.0,1193.3 1372.5,1194.9 1373.1,1197.5 1373.6,1199.0 1374.1,1198.9 1374.7,1200.7 1375.2,1200.4 1375.8,1204.8 1376.3,1200.5 1376.9,1200.2 1377.4,1200.0 1378.0,1207.1 1378.5,1202.0 1379.0,1202.5 1379.6,1197.5 1380.1,1200.5 1380.7,1205.2 1381.2,1200.1 1381.8,1202.8 1382.3,1202.6 1382.9,1202.3 1383.4,1200.6 1383.9,1200.6 1384.5,1203.2 1385.0,1202.9 1385.6,1196.7 1386.1,1194.7 1386.7,1194.0 1387.2,1196.1 1387.8,1197.2 1388.3,1200.1 1388.9,1201.2 1389.4,1204.3 1389.9,1204.5 1390.5,1202.7 1391.0,1200.2 1391.6,1203.0 1392.1,1199.7 1392.7,1199.4 1393.2,1196.3 1393.8,1198.5 1394.3,1197.5 1394.8,1196.6 1395.4,1197.5 1395.9,1193.8 1396.5,1198.6 1397.0,1195.8 1397.6,1193.9 1398.1,1194.6 1398.7,1193.8 1399.2,1192.2 1399.7,1194.8 1400.3,1198.7 1400.8,1200.4 1401.4,1204.9 1401.9,1204.8 1402.5,1201.6 1403.0,1199.5 1403.6,1199.6 1404.1,1198.8 1404.6,1194.0 1405.2,1198.3 1405.7,1194.0 1406.3,1197.4 1406.8,1196.3 1407.4,1195.9 1407.9,1196.6 1408.5,1196.8 1409.0,1193.9 1409.5,1191.6 1410.1,1192.4 1410.6,1191.0 1411.2,1192.7 1411.7,1191.4 1412.3,1191.9 1412.8,1193.2 1413.4,1190.5 1413.9,1188.9 1414.5,1191.4 1415.0,1191.9 1415.5,1189.7 1416.1,1192.9 1416.6,1188.3 1417.2,1188.7 1417.7,1186.9 1418.3,1184.9 1418.8,1183.2 1419.4,1179.3 1419.9,1180.8 1420.4,1179.0 1421.0,1180.3 1421.5,1180.8 1422.1,1183.8 1422.6,1187.8 1423.2,1189.7 1423.7,1193.9 1424.3,1190.2 1424.8,1191.3 1425.3,1197.0 1425.9,1197.1 1426.4,1196.8 1427.0,1197.6 1427.5,1198.8 1428.1,1200.4 1428.6,1196.6 1429.2,1200.0 1429.7,1198.3 1430.2,1198.9 1430.8,1198.0 1431.3,1197.1 1431.9,1195.2 1432.4,1198.3 1433.0,1194.2 1433.5,1200.0 1434.1,1198.0 1434.6,1198.1 1435.2,1197.5 1435.7,1197.6 1436.2,1199.2 1436.8,1200.4 1437.3,1204.1 1437.9,1199.0 1438.4,1200.8 1439.0,1198.5 1439.5,1198.0 1440.1,1196.7 1440.6,1193.5 1441.1,1194.0 1441.7,1195.1 1442.2,1194.2 1442.8,1190.7 1443.3,1192.4 1443.9,1192.2 1444.4,1194.3 1445.0,1193.3 1445.5,1194.9 1446.0,1195.2 1446.6,1194.2 1447.1,1192.9 1447.7,1189.2 1448.2,1192.7 1448.8,1194.1 1449.3,1193.7 1449.9,1194.8 1450.4,1192.2 1450.9,1193.6 1451.5,1193.9 1452.0,1192.6 1452.6,1194.1 1453.1,1198.5 1453.7,1194.4 1454.2,1196.9 1454.8,1200.0 1455.3,1198.8 1455.9,1202.4 1456.4,1200.8 1456.9,1202.0 1457.5,1200.1 1458.0,1200.2 1458.6,1201.8 1459.1,1200.4 1459.7,1199.0 1460.2,1200.2 1460.8,1198.9 1461.3,1199.9 1461.8,1199.7 1462.4,1199.5 1462.9,1199.8 1463.5,1197.5 1464.0,1195.7 1464.6,1193.7 1465.1,1193.7 1465.7,1196.7 1466.2,1199.6 1466.7,1199.8 1467.3,1198.5 1467.8,1202.5 1468.4,1200.3 1468.9,1198.3 1469.5,1196.5 1470.0,1196.7 1470.6,1196.2 1471.1,1195.9 1471.6,1197.2 1472.2,1200.5 1472.7,1203.8 1473.3,1202.0 1473.8,1205.0 1474.4,1207.1 1474.9,1202.8 1475.5,1205.8 1476.0,1206.4 1476.5,1208.4 1477.1,1207.0 1477.6,1209.4 1478.2,1206.7 1478.7,1204.8 1479.3,1203.7 1479.8,1201.9 1480.4,1198.1 1480.9,1202.6 1481.5,1197.7 1482.0,1200.2 1482.5,1197.6 1483.1,1198.1 1483.6,1194.7 1484.2,1200.3 1484.7,1197.8 1485.3,1196.9 1485.8,1199.8 1486.4,1198.4 1486.9,1196.3 1487.4,1197.6 1488.0,1197.1 1488.5,1197.4 1489.1,1198.2 1489.6,1199.2 1490.2,1197.6 1490.7,1199.5 1491.3,1195.7 1491.8,1196.1 1492.3,1196.7 1492.9,1195.7 1493.4,1191.5 1494.0,1189.0 1494.5,1188.9 1495.1,1190.1 1495.6,1195.8 1496.2,1195.1 1496.7,1197.7 1497.2,1197.7 1497.8,1198.8 1498.3,1200.8 1498.9,1201.1 1499.4,1197.2 1500.0,1198.5 1500.5,1197.9 1501.1,1198.2 1501.6,1194.5 1502.2,1195.0 1502.7,1194.7 1503.2,1192.7 1503.8,1190.1 1504.3,1194.3 1504.9,1196.5 1505.4,1193.6 1506.0,1198.1 1506.5,1199.4 1507.1,1198.6 1507.6,1196.8 1508.1,1196.9 1508.7,1194.0 1509.2,1192.6 1509.8,1191.1 1510.3,1196.7 1510.9,1194.7 1511.4,1198.5 1512.0,1200.4 1512.5,1202.7 1513.0,1201.9 1513.6,1201.8 1514.1,1199.6 1514.7,1199.5 1515.2,1196.8 1515.8,1196.9 1516.3,1193.8 1516.9,1198.6 1517.4,1198.9 1517.9,1198.4 1518.5,1196.3 1519.0,1196.8 1519.6,1195.7 1520.1,1197.3 1520.7,1195.2 1521.2,1193.2 1521.8,1191.4 1522.3,1190.7 1522.9,1187.7 1523.4,1182.0 1523.9,1176.0 1524.5,1166.5 1525.0,1163.6 1525.6,1169.6 1526.1,1178.4 1526.7,1186.7 1527.2,1186.9 1527.8,1193.6 1528.3,1193.2 1528.8,1195.4 1529.4,1194.5 1529.9,1194.8 1530.5,1193.9 1531.0,1192.6 1531.6,1195.0 1532.1,1195.5 1532.7,1199.7 1533.2,1198.5 1533.7,1201.4 1534.3,1202.8 1534.8,1200.2 1535.4,1200.0 1535.9,1202.4 1536.5,1202.6 1537.0,1203.4 1537.6,1201.8 1538.1,1198.2 1538.6,1196.8 1539.2,1192.6 1539.7,1190.8 1540.3,1195.6 1540.8,1192.3 1541.4,1196.4 1541.9,1199.6 1542.5,1198.1 1543.0,1200.0 1543.5,1198.1 1544.1,1198.8 1544.6,1200.5 1545.2,1199.2 1545.7,1198.7 1546.3,1198.8 1546.8,1196.7 1547.4,1200.5 1547.9,1196.5 1548.5,1194.9 1549.0,1194.6 1549.5,1196.0 1550.1,1197.6 1550.6,1195.5 1551.2,1197.7 1551.7,1197.2 1552.3,1197.8 1552.8,1197.4 1553.4,1198.5 1553.9,1197.9 1554.4,1198.3 1555.0,1199.0 1555.5,1196.9 1556.1,1194.3 1556.6,1197.3 1557.2,1197.2 1557.7,1196.8 1558.3,1195.3 1558.8,1195.2 1559.3,1192.7 1559.9,1192.5 1560.4,1197.1 1561.0,1195.0 1561.5,1196.4 1562.1,1196.6 1562.6,1199.1 1563.2,1195.9 1563.7,1199.8 1564.2,1196.7 1564.8,1194.0 1565.3,1196.5 1565.9,1198.2 1566.4,1195.3 1567.0,1194.6 1567.5,1196.4 1568.1,1196.8 1568.6,1196.6 1569.2,1196.7 1569.7,1198.0 1570.2,1199.6 1570.8,1199.4 1571.3,1198.5 1571.9,1197.5 1572.4,1199.7 1573.0,1199.0 1573.5,1198.0 1574.1,1198.0 1574.6,1193.2 1575.1,1191.3 1575.7,1193.0 1576.2,1191.9 1576.8,1194.2 1577.3,1195.5 1577.9,1194.9 1578.4,1201.1 1579.0,1198.8 1579.5,1195.9 1580.0,1197.3 1580.6,1198.4 1581.1,1195.7 1581.7,1194.5 1582.2,1198.7 1582.8,1197.3 1583.3,1199.2 1583.9,1202.0 1584.4,1203.9 1584.9,1202.6 1585.5,1203.9 1586.0,1200.0 1586.6,1198.5 1587.1,1197.9 1587.7,1196.7 1588.2,1197.6 1588.8,1197.0 1589.3,1198.4 1589.9,1198.4 1590.4,1199.2 1590.9,1200.0 1591.5,1199.8 1592.0,1199.1 1592.6,1199.0 1593.1,1199.7 1593.7,1199.6 1594.2,1197.2 1594.8,1197.5 1595.3,1194.6 1595.8,1195.9 1596.4,1197.0 1596.9,1192.6 1597.5,1196.2 1598.0,1195.7 1598.6,1196.5 1599.1,1192.9 1599.7,1195.4 1600.2,1196.0 1600.7,1198.1 1601.3,1200.4 1601.8,1199.4 1602.4,1199.9 1602.9,1201.4 1603.5,1199.1 1604.0,1199.6 1604.6,1200.0 1605.1,1201.9 1605.6,1198.7 1606.2,1200.8 1606.7,1198.9 1607.3,1198.0 1607.8,1196.1 1608.4,1196.5 1608.9,1198.6 1609.5,1193.6 1610.0,1193.2 1610.5,1193.5 1611.1,1193.1 1611.6,1189.4 1612.2,1192.6 1612.7,1194.3 1613.3,1193.6 1613.8,1195.7 1614.4,1195.2 1614.9,1194.9 1615.5,1193.9 1616.0,1194.5 1616.5,1195.1 1617.1,1192.6 1617.6,1192.9 1618.2,1193.4 1618.7,1195.0 1619.3,1196.8 1619.8,1198.6 1620.4,1200.6 1620.9,1200.1 1621.4,1200.7 1622.0,1199.3 1622.5,1200.7 1623.1,1201.7 1623.6,1200.6 1624.2,1200.3 1624.7,1201.8 1625.3,1203.5 1625.8,1203.8 1626.3,1203.7 1626.9,1205.2 1627.4,1204.1 1628.0,1202.7 1628.5,1205.9 1629.1,1205.3 1629.6,1204.8 1630.2,1203.0 1630.7,1201.5 1631.2,1200.9 1631.8,1197.5 1632.3,1198.1 1632.9,1198.5 1633.4,1198.1 1634.0,1199.4 1634.5,1199.1 1635.1,1201.3 1635.6,1199.8 1636.2,1197.4 1636.7,1198.3 1637.2,1196.7 1637.8,1196.4 1638.3,1193.9 1638.9,1192.5 1639.4,1194.4 1640.0,1196.4 1640.5,1194.6 1641.1,1196.2 1641.6,1197.4 1642.1,1195.4 1642.7,1194.0 1643.2,1192.4 1643.8,1187.0 1644.3,1189.1 1644.9,1187.4 1645.4,1189.7 1646.0,1187.1 1646.5,1186.4 1647.0,1186.4 1647.6,1186.1 1648.1,1187.2 1648.7,1183.6 1649.2,1187.6 1649.8,1186.6 1650.3,1190.5 1650.9,1192.7 1651.4,1193.1 1651.9,1195.7 1652.5,1194.3 1653.0,1192.5 1653.6,1192.8 1654.1,1190.8 1654.7,1190.6 1655.2,1190.2 1655.8,1188.0 1656.3,1186.8 1656.9,1186.6 1657.4,1187.9 1657.9,1185.6 1658.5,1186.7 1659.0,1187.0 1659.6,1189.4 1660.1,1187.1 1660.7,1189.7 1661.2,1189.7 1661.8,1186.3 1662.3,1188.7 1662.8,1188.9 1663.4,1187.6 1663.9,1189.8 1664.5,1189.2 1665.0,1188.5 1665.6,1191.5 1666.1,1189.7 1666.7,1192.0 1667.2,1190.1 1667.7,1190.1 1668.3,1190.5 1668.8,1191.8 1669.4,1193.4 1669.9,1192.5 1670.5,1193.8 1671.0,1192.8 1671.6,1192.1 1672.1,1189.6 1672.6,1190.6 1673.2,1190.7 1673.7,1187.1 1674.3,1186.0 1674.8,1187.4 1675.4,1185.2 1675.9,1188.1 1676.5,1187.2 1677.0,1189.3 1677.5,1186.0 1678.1,1184.9 1678.6,1186.3 1679.2,1184.1 1679.7,1182.3 1680.3,1181.0 1680.8,1180.3 1681.4,1182.0 1681.9,1181.3 1682.5,1182.0 1683.0,1179.5 1683.5,1183.2 1684.1,1177.6 1684.6,1175.1 1685.2,1171.8 1685.7,1171.4 1686.3,1164.7 1686.8,1160.8 1687.4,1159.3 1687.9,1156.8 1688.4,1154.1 1689.0,1154.1 1689.5,1157.3 1690.1,1161.3 1690.6,1162.2 1691.2,1167.5 1691.7,1168.9 1692.3,1172.3 1692.8,1172.0 1693.3,1177.0 1693.9,1180.6 1694.4,1180.7 1695.0,1184.4 1695.5,1184.2 1696.1,1187.6 1696.6,1188.2 1697.2,1187.9 1697.7,1191.5 1698.2,1188.4 1698.8,1190.1 1699.3,1190.8 1699.9,1192.9 1700.4,1195.0 1701.0,1196.4 1701.5,1199.5 1702.1,1197.0 1702.6,1194.5 1703.2,1196.3 1703.7,1193.6 1704.2,1191.7 1704.8,1190.7 1705.3,1192.1 1705.9,1190.9 1706.4,1191.9 1707.0,1192.0 1707.5,1191.6 1708.1,1191.1 1708.6,1191.6 1709.1,1193.4 1709.7,1195.9 1710.2,1196.6 1710.8,1196.7 1711.3,1196.9 1711.9,1197.2 1712.4,1196.7 1713.0,1196.9 1713.5,1197.4 1714.0,1197.2 1714.6,1197.4 1715.1,1197.6 1715.7,1196.4 1716.2,1196.5 1716.8,1196.9 1717.3,1195.2 1717.9,1194.1 1718.4,1193.9 1718.9,1194.0 1719.5,1192.0 1720.0,1195.0 1720.6,1192.8 1721.1,1194.0 1721.7,1197.0 1722.2,1197.0 1722.8,1196.8 1723.3,1196.9 1723.9,1196.7 1724.4,1196.6 1724.9,1197.7 1725.5,1196.8 1726.0,1195.3 1726.6,1199.5 1727.1,1202.1 1727.7,1203.5 1728.2,1206.2 1728.8,1206.1 1729.3,1207.2 1729.8,1203.8 1730.4,1203.1 1730.9,1202.5 1731.5,1202.7 1732.0,1202.5 1732.6,1200.8 1733.1,1200.8 1733.7,1199.7 1734.2,1199.3 1734.7,1198.2 1735.3,1198.8 1735.8,1194.5 1736.4,1193.4 1736.9,1192.0 1737.5,1191.8 1738.0,1191.0 1738.6,1191.3 1739.1,1191.6 1739.6,1192.7 1740.2,1192.7 1740.7,1194.6 1741.3,1197.3 1741.8,1196.1 1742.4,1198.0 1742.9,1197.6 1743.5,1198.3 1744.0,1202.8 1744.5,1199.5 1745.1,1200.3 1745.6,1198.8 1746.2,1199.5 1746.7,1199.1 1747.3,1201.0 1747.8,1202.1 1748.4,1203.6 1748.9,1202.0 1749.5,1202.9 1750.0,1203.5 1750.5,1200.2 1751.1,1199.2 1751.6,1197.0 1752.2,1196.5 1752.7,1196.1 1753.3,1197.3 1753.8,1198.4 1754.4,1199.1 1754.9,1200.0 1755.4,1203.5 1756.0,1200.9 1756.5,1201.1 1757.1,1200.1 1757.6,1201.5 1758.2,1198.7 1758.7,1198.8 1759.3,1199.4 1759.8,1198.4 1760.3,1199.8 1760.9,1199.1 1761.4,1198.9 1762.0,1196.3 1762.5,1196.7 1763.1,1198.8 1763.6,1196.3 1764.2,1196.3 1764.7,1196.4 1765.2,1199.9 1765.8,1201.2 1766.3,1200.8 1766.9,1200.3 1767.4,1203.9 1768.0,1201.9 1768.5,1201.5 1769.1,1201.9 1769.6,1201.5 1770.2,1200.6 1770.7,1198.6 1771.2,1200.0 1771.8,1198.2 1772.3,1195.7 1772.9,1198.6 1773.4,1195.4 1774.0,1196.0 1774.5,1198.3 1775.1,1198.2 1775.6,1200.0 1776.1,1199.2 1776.7,1200.9 1777.2,1203.6 1777.8,1202.6 1778.3,1203.6 1778.9,1206.3 1779.4,1206.5 1780.0,1205.0 1780.5,1202.6 1781.0,1199.4 1781.6,1197.8 1782.1,1196.6 1782.7,1194.3 1783.2,1193.2 1783.8,1193.8 1784.3,1193.8 1784.9,1192.4 1785.4,1190.9 1785.9,1188.7 1786.5,1189.5 1787.0,1187.7 1787.6,1185.1 1788.1,1185.2 1788.7,1184.9 1789.2,1184.9 1789.8,1183.4 1790.3,1184.2 1790.8,1187.3 1791.4,1185.1 1791.9,1185.6 1792.5,1185.9 1793.0,1184.9 1793.6,1182.7 1794.1,1183.8 1794.7,1184.9 1795.2,1188.4 1795.8,1190.8 1796.3,1192.8 1796.8,1196.2 1797.4,1194.3 1797.9,1195.0 1798.5,1194.4 1799.0,1192.0 1799.6,1191.3 1800.1,1190.1 1800.7,1191.2 1801.2,1191.2 1801.7,1194.2 1802.3,1194.7 1802.8,1195.0 1803.4,1196.1 1803.9,1194.9 1804.5,1194.6 1805.0,1196.6 1805.6,1195.3 1806.1,1195.4 1806.6,1196.0 1807.2,1194.3 1807.7,1196.7 1808.3,1196.8 1808.8,1197.9 1809.4,1198.1 1809.9,1197.4 1810.5,1195.0 1811.0,1194.0 1811.5,1191.5 1812.1,1190.4 1812.6,1190.1 1813.2,1190.3 1813.7,1191.6 1814.3,1190.8 1814.8,1188.6 1815.4,1188.1 1815.9,1183.7 1816.5,1176.6 1817.0,1169.1 1817.5,1160.0 1818.1,1152.2 1818.6,1151.0 1819.2,1156.7 1819.7,1164.4 1820.3,1172.1 1820.8,1176.8 1821.4,1183.3 1821.9,1188.5 1822.4,1192.4 1823.0,1195.8 1823.5,1200.6 1824.1,1203.2 1824.6,1203.8 1825.2,1204.8 1825.7,1203.7 1826.3,1202.8 1826.8,1201.4 1827.3,1203.5 1827.9,1203.5 1828.4,1202.5 1829.0,1202.9 1829.5,1202.6 1830.1,1201.4 1830.6,1201.8 1831.2,1199.3 1831.7,1197.3 1832.2,1197.4 1832.8,1195.9 1833.3,1195.2 1833.9,1195.6 1834.4,1196.8 1835.0,1195.6 1835.5,1196.6 1836.1,1198.6 1836.6,1197.3 1837.2,1195.7 1837.7,1195.3 1838.2,1193.6 1838.8,1191.7 1839.3,1191.1 1839.9,1191.2 1840.4,1191.1 1841.0,1191.2 1841.5,1192.6 1842.1,1191.0 1842.6,1192.8 1843.1,1194.4 1843.7,1195.1 1844.2,1196.3 1844.8,1197.7 1845.3,1199.0 1845.9,1199.2 1846.4,1199.9 1847.0,1200.0 1847.5,1200.5 1848.0,1202.2 1848.6,1203.2 1849.1,1200.6 1849.7,1199.9 1850.2,1199.2 1850.8,1199.4 1851.3,1196.8 1851.9,1197.1 1852.4,1197.7 1852.9,1198.7 1853.5,1201.4 1854.0,1202.2 1854.6,1201.0 1855.1,1200.8 1855.7,1200.3 1856.2,1198.0 1856.8,1195.1 1857.3,1195.4 1857.8,1197.0 1858.4,1197.3 1858.9,1197.6 1859.5,1199.5 1860.0,1199.5 1860.6,1200.5 1861.1,1203.8 1861.7,1204.4 1862.2,1205.3 1862.8,1204.6 1863.3,1206.4 1863.8,1206.2 1864.4,1204.9 1864.9,1202.4 1865.5,1204.2 1866.0,1201.9 1866.6,1201.7 1867.1,1197.4 1867.7,1198.3 1868.2,1196.2 1868.7,1193.3 1869.3,1192.0 1869.8,1193.8 1870.4,1195.8 1870.9,1198.2 1871.5,1201.3 1872.0,1202.3 1872.6,1204.3 1873.1,1202.3 1873.6,1202.1 1874.2,1199.0 1874.7,1198.0 1875.3,1195.7 1875.8,1198.0 1876.4,1199.3 1876.9,1201.6 1877.5,1202.4 1878.0,1201.3 1878.5,1202.9 1879.1,1199.9 1879.6,1197.1 1880.2,1196.0 1880.7,1190.4 1881.3,1185.1 1881.8,1178.9 1882.4,1172.1 1882.9,1166.7 1883.5,1163.3 1884.0,1167.5 1884.5,1169.9 1885.1,1174.8 1885.6,1173.0 1886.2,1172.4 1886.7,1168.4 1887.3,1162.0 1887.8,1152.6 1888.4,1144.4 1888.9,1133.2 1889.4,1123.9 1890.0,1116.8 1890.5,1119.9 1891.1,1127.9 1891.6,1140.2 1892.2,1152.5 1892.7,1161.0 1893.3,1169.0 1893.8,1177.6 1894.3,1181.1 1894.9,1186.6 1895.4,1187.8 1896.0,1192.7 1896.5,1193.2 1897.1,1195.3 1897.6,1195.2 1898.2,1196.0 1898.7,1195.1 1899.2,1197.0 1899.8,1197.0 1900.3,1198.0 1900.9,1197.6 1901.4,1198.9 1902.0,1199.9 1902.5,1199.7 1903.1,1198.9 1903.6,1196.3 1904.2,1196.0 1904.7,1194.4 1905.2,1192.1 1905.8,1193.3 1906.3,1192.4 1906.9,1190.9 1907.4,1191.7 1908.0,1184.7 1908.5,1175.7 1909.1,1161.4 1909.6,1150.2 1910.1,1152.6 1910.7,1163.9 1911.2,1174.0 1911.8,1182.5 1912.3,1189.2 1912.9,1192.2 1913.4,1196.3 1914.0,1196.1 1914.5,1196.4 1915.0,1192.1 1915.6,1192.1 1916.1,1188.9 1916.7,1185.5 1917.2,1184.3 1917.8,1184.2 1918.3,1186.1 1918.9,1186.0 1919.4,1186.6 1919.9,1185.4 1920.5,1187.3 1921.0,1188.2 1921.6,1190.4 1922.1,1190.0 1922.7,1192.2 1923.2,1195.3 1923.8,1190.4 1924.3,1186.6 1924.8,1184.6 1925.4,1179.8 1925.9,1176.8 1926.5,1175.2 1927.0,1177.8 1927.6,1181.5 1928.1,1180.7 1928.7,1181.5 1929.2,1185.7 1929.8,1181.3 1930.3,1182.6 1930.8,1180.4 1931.4,1181.3 1931.9,1180.9 1932.5,1181.1 1933.0,1183.4 1933.6,1186.8 1934.1,1188.6 1934.7,1191.9 1935.2,1194.1 1935.7,1193.7 1936.3,1189.9 1936.8,1190.7 1937.4,1187.1 1937.9,1188.4 1938.5,1186.6 1939.0,1187.3 1939.6,1187.0 1940.1,1189.2 1940.6,1190.3 1941.2,1193.4 1941.7,1192.7 1942.3,1191.0 1942.8,1191.3 1943.4,1190.4 1943.9,1189.2 1944.5,1187.1 1945.0,1191.5 1945.5,1189.7 1946.1,1188.7 1946.6,1189.9 1947.2,1189.5 1947.7,1191.4 1948.3,1190.0 1948.8,1187.0 1949.4,1189.2 1949.9,1187.5 1950.5,1188.1 1951.0,1186.4 1951.5,1187.7 1952.1,1188.5 1952.6,1187.7 1953.2,1190.0 1953.7,1190.9 1954.3,1192.0 1954.8,1191.2 1955.4,1191.6 1955.9,1191.8 1956.4,1192.1 1957.0,1193.7 1957.5,1196.9 1958.1,1196.0 1958.6,1197.3 1959.2,1198.9 1959.7,1198.3 1960.3,1200.2 1960.8,1198.6 1961.3,1200.0 1961.9,1198.9 1962.4,1197.9 1963.0,1198.8 1963.5,1196.8 1964.1,1197.6 1964.6,1193.0 1965.2,1194.7 1965.7,1195.0 1966.2,1194.2 1966.8,1194.8 1967.3,1195.4 1967.9,1194.3 1968.4,1195.0 1969.0,1190.4 1969.5,1191.9 1970.1,1189.5 1970.6,1189.4 1971.2,1190.1 1971.7,1190.1 1972.2,1195.3 1972.8,1198.6 1973.3,1200.9 1973.9,1203.5 1974.4,1205.0 1975.0,1204.6 1975.5,1205.1 1976.1,1204.0 1976.6,1204.3 1977.1,1201.9 1977.7,1203.6 1978.2,1201.2 1978.8,1203.8 1979.3,1202.0 1979.9,1200.0 1980.4,1201.0 1981.0,1199.4 1981.5,1196.8 1982.0,1195.0 1982.6,1193.7 1983.1,1192.5 1983.7,1195.3 1984.2,1197.9 1984.8,1204.0 1985.3,1204.4 1985.9,1206.9 1986.4,1208.2 1986.9,1204.6 1987.5,1203.2 1988.0,1199.3 1988.6,1200.0 1989.1,1195.8 1989.7,1197.1 1990.2,1197.8 1990.8,1200.1 1991.3,1199.9 1991.8,1200.4 1992.4,1201.8 1992.9,1200.8 1993.5,1198.1 1994.0,1195.9 1994.6,1195.4 1995.1,1192.0 1995.7,1194.5 1996.2,1196.9 1996.8,1198.6 1997.3,1199.0 1997.8,1200.5 1998.4,1199.3 1998.9,1201.2 1999.5,1201.5 2000.0,1199.2 2000.6,1200.4 2001.1,1200.3 2001.7,1200.0 2002.2,1200.5 2002.7,1198.7 2003.3,1197.8 2003.8,1198.4 2004.4,1196.5 2004.9,1195.9 2005.5,1194.3 2006.0,1192.2 2006.6,1188.5 2007.1,1187.4 2007.6,1184.8 2008.2,1178.8 2008.7,1173.3 2009.3,1163.9 2009.8,1152.8 2010.4,1146.1 2010.9,1145.7 2011.5,1153.5 2012.0,1165.4 2012.5,1175.1 2013.1,1182.2 2013.6,1187.9 2014.2,1193.9 2014.7,1197.4 2015.3,1196.9 2015.8,1200.6 2016.4,1200.9 2016.9,1198.0 2017.5,1196.3 2018.0,1195.2 2018.5,1193.5 2019.1,1191.4 2019.6,1195.3 2020.2,1195.4 2020.7,1195.6 2021.3,1197.1 2021.8,1197.3 2022.4,1198.6 2022.9,1200.1 2023.4,1196.7 2024.0,1195.9 2024.5,1196.1 2025.1,1195.7 2025.6,1196.3 2026.2,1199.3 2026.7,1196.0 2027.3,1198.6 2027.8,1199.4 2028.3,1199.6 2028.9,1198.7 2029.4,1200.3 2030.0,1196.3 2030.5,1198.8 2031.1,1196.2 2031.6,1197.9 2032.2,1197.5 2032.7,1199.8 2033.2,1199.1 2033.8,1199.5 2034.3,1201.8 2034.9,1200.6 2035.4,1204.2 2036.0,1206.1 2036.5,1207.0 2037.1,1210.1 2037.6,1209.1 2038.2,1205.9 2038.7,1206.3 2039.2,1203.4 2039.8,1201.3 2040.3,1199.0 2040.9,1201.4 2041.4,1202.1 2042.0,1201.5 2042.5,1202.1 2043.1,1202.5 2043.6,1201.7 2044.1,1202.0 2044.7,1201.9 2045.2,1202.4 2045.8,1202.3 2046.3,1201.6 2046.9,1201.5 2047.4,1203.4 2048.0,1202.7 2048.5,1204.1 2049.0,1204.7 2049.6,1204.5 2050.1,1202.2 2050.7,1201.7 2051.2,1199.6 2051.8,1200.3 2052.3,1202.8 2052.9,1201.1 2053.4,1200.8 2053.9,1201.5 2054.5,1200.0 2055.0,1202.1 2055.6,1199.2 2056.1,1197.3 2056.7,1195.0 2057.2,1192.9 2057.8,1190.0 2058.3,1188.1 2058.8,1187.0 2059.4,1187.9 2059.9,1188.1 2060.5,1188.3 2061.0,1185.1 2061.6,1186.4 2062.1,1184.2 2062.7,1189.9 2063.2,1193.4 2063.8,1191.3 2064.3,1195.9 2064.8,1198.6 2065.4,1197.5 2065.9,1202.5 2066.5,1203.0 2067.0,1204.3 2067.6,1203.3 2068.1,1200.3 2068.7,1200.5 2069.2,1196.5 2069.7,1196.7 2070.3,1195.4 2070.8,1196.3 2071.4,1198.5 2071.9,1196.8 2072.5,1198.5 2073.0,1199.4 2073.6,1199.9 2074.1,1201.3 2074.6,1202.3 2075.2,1205.7 2075.7,1204.9 2076.3,1205.7 2076.8,1201.6 2077.4,1202.2 2077.9,1203.7 2078.5,1203.8 2079.0,1200.4 2079.5,1199.2 2080.1,1199.9 2080.6,1200.0 2081.2,1199.9 2081.7,1198.5 2082.3,1199.1 2082.8,1198.5 2083.4,1200.9 2083.9,1201.2 2084.5,1201.4 2085.0,1201.2 2085.5,1202.4 2086.1,1203.4 2086.6,1203.6 2087.2,1204.4 2087.7,1205.7 2088.3,1206.5 2088.8,1204.7 2089.4,1206.5 2089.9,1207.3 2090.4,1208.7 2091.0,1208.6 2091.5,1206.0 2092.1,1205.8 2092.6,1201.1 2093.2,1199.0 2093.7,1197.5 2094.3,1194.3 2094.8,1192.5 2095.3,1188.0 2095.9,1182.3 2096.4,1174.1 2097.0,1170.6 2097.5,1169.1 2098.1,1175.8 2098.6,1180.8 2099.2,1187.2 2099.7,1192.1 2100.2,1196.0 2100.8,1194.8 2101.3,1196.0 2101.9,1195.3 2102.4,1194.4 2103.0,1191.4 2103.5,1194.0 2104.1,1194.8 2104.6,1196.9 2105.2,1198.2 2105.7,1199.3 2106.2,1198.3 2106.8,1197.3 2107.3,1195.0 2107.9,1193.1 2108.4,1189.9 2109.0,1187.1 2109.5,1186.3 2110.1,1184.6 2110.6,1183.8 2111.1,1186.1 2111.7,1185.1 2112.2,1185.4 2112.8,1186.5 2113.3,1189.8 2113.9,1188.8 2114.4,1189.0 2115.0,1190.1 2115.5,1191.6 2116.0,1192.8 2116.6,1192.4 2117.1,1191.8 2117.7,1192.3 2118.2,1192.8 2118.8,1195.1 2119.3,1191.2 2119.9,1196.0 2120.4,1194.3 2120.9,1196.5 2121.5,1197.6 2122.0,1196.6 2122.6,1196.6 2123.1,1194.9 2123.7,1195.3 2124.2,1198.0 2124.8,1195.7 2125.3,1198.2 2125.8,1198.9 2126.4,1198.0 2126.9,1197.2 2127.5,1199.6 2128.0,1199.3 2128.6,1202.4 2129.1,1203.8 2129.7,1204.4 2130.2,1203.7 2130.8,1202.2 2131.3,1201.9 2131.8,1199.0 2132.4,1197.7 2132.9,1196.6 2133.5,1197.0 2134.0,1198.6 2134.6,1199.4 2135.1,1199.0 2135.7,1202.5 2136.2,1205.1 2136.7,1203.9 2137.3,1201.2 2137.8,1204.4 2138.4,1201.8 2138.9,1204.3 2139.5,1203.5 2140.0,1200.9 2140.6,1200.7 2141.1,1202.6 2141.6,1201.0 2142.2,1199.7 2142.7,1204.0 2143.3,1204.0 2143.8,1204.5 2144.4,1205.0 2144.9,1205.1 2145.5,1204.0 2146.0,1206.1 2146.5,1204.5 2147.1,1204.0 2147.6,1205.7 2148.2,1202.4 2148.7,1200.6 2149.3,1199.2 2149.8,1197.9 2150.4,1196.4 2150.9,1193.9 2151.5,1193.6 2152.0,1194.0 2152.5,1194.6 2153.1,1193.8 2153.6,1195.4 2154.2,1194.8 2154.7,1195.2 2155.3,1194.8 2155.8,1195.2 2156.4,1196.1 2156.9,1194.7 2157.4,1195.4 2158.0,1195.2 2158.5,1197.1 2159.1,1196.9 2159.6,1196.1 2160.2,1195.8 2160.7,1198.0 2161.3,1195.9 2161.8,1197.0 2162.3,1200.1 2162.9,1199.0 2163.4,1200.3 2164.0,1200.0 2164.5,1202.8 2165.1,1202.7 2165.6,1204.7 2166.2,1206.8 2166.7,1203.9 2167.2,1203.3 2167.8,1203.8 2168.3,1201.9 2168.9,1200.3 2169.4,1202.2 2170.0,1198.2 2170.5,1203.0 2171.1,1201.6 2171.6,1201.2 2172.1,1204.2 2172.7,1202.0 2173.2,1203.8 2173.8,1204.0 2174.3,1205.3 2174.9,1205.8 2175.4,1204.9 2176.0,1204.7 2176.5,1204.0 2177.1,1202.7 2177.6,1201.0 2178.1,1201.9 2178.7,1200.0 2179.2,1201.6 2179.8,1202.6 2180.3,1203.2 2180.9,1203.3 2181.4,1204.6 2182.0,1203.9 2182.5,1204.5 2183.0,1207.8 2183.6,1206.5 2184.1,1205.2 2184.7,1205.9 2185.2,1207.4 2185.8,1206.0 2186.3,1208.5 2186.9,1208.3 2187.4,1206.3 2187.9,1202.0 2188.5,1200.8 2189.0,1195.8 2189.6,1195.1 2190.1,1194.0 2190.7,1194.8 2191.2,1196.7 2191.8,1194.5 2192.3,1195.2 2192.8,1197.9 2193.4,1197.1 2193.9,1195.5 2194.5,1196.0 2195.0,1194.1 2195.6,1193.0 2196.1,1195.3 2196.7,1199.0 2197.2,1199.3 2197.8,1200.9 2198.3,1203.8 2198.8,1204.3 2199.4,1203.2 2199.9,1202.8 2200.5,1200.5 2201.0,1200.0 2201.6,1199.5 2202.1,1196.8 2202.7,1198.8 2203.2,1201.1 2203.7,1200.0 2204.3,1203.0 2204.8,1205.2 2205.4,1201.7 2205.9,1202.4 2206.5,1198.9 2207.0,1199.6 2207.6,1196.3 2208.1,1197.0 2208.6,1195.1 2209.2,1198.4 2209.7,1199.8 2210.3,1198.8 2210.8,1198.7 2211.4,1199.6 2211.9,1197.8 2212.5,1198.3 2213.0,1195.7 2213.5,1195.4 2214.1,1195.7 2214.6,1195.2 2215.2,1194.9 2215.7,1198.2 2216.3,1198.0 2216.8,1199.6 2217.4,1199.4 2217.9,1196.9 2218.5,1194.7 2219.0,1193.5 2219.5,1193.5 2220.1,1190.0 2220.6,1192.8 2221.2,1192.6 2221.7,1193.6 2222.3,1193.7 2222.8,1193.6 2223.4,1192.9 2223.9,1193.3 2224.4,1190.8 2225.0,1192.9 2225.5,1194.5 2226.1,1193.1 2226.6,1195.3 2227.2,1194.3 2227.7,1194.6 2228.3,1194.4 2228.8,1194.4 2229.3,1195.5 2229.9,1195.3 2230.4,1195.4 2231.0,1196.1 2231.5,1196.4 2232.1,1197.6 2232.6,1196.8 2233.2,1198.1 2233.7,1196.7 2234.2,1196.3 2234.8,1196.1 2235.3,1195.8 2235.9,1192.9 2236.4,1190.8 2237.0,1188.0 2237.5,1183.3 2238.1,1181.0 2238.6,1178.0 2239.1,1172.4 2239.7,1166.8 2240.2,1161.3 2240.8,1156.5 2241.3,1149.9 2241.9,1145.8 2242.4,1139.3 2243.0,1134.4 2243.5,1126.1 2244.1,1117.8 2244.6,1109.1 2245.1,1100.3 2245.7,1091.9 2246.2,1081.5 2246.8,1073.6 2247.3,1064.9 2247.9,1057.4 2248.4,1047.8 2249.0,1051.5 2249.5,1059.4 2250.0,1066.6 2250.6,1078.6 2251.1,1089.3 2251.7,1098.7 2252.2,1110.0 2252.8,1118.5 2253.3,1127.9 2253.9,1134.2 2254.4,1140.8 2254.9,1147.5 2255.5,1151.9 2256.0,1159.3 2256.6,1163.8 2257.1,1168.8 2257.7,1174.1 2258.2,1180.2 2258.8,1183.2 2259.3,1184.3 2259.8,1187.8 2260.4,1191.8 2260.9,1192.0 2261.5,1193.3 2262.0,1195.4 2262.6,1194.2 2263.1,1194.8 2263.7,1194.6 2264.2,1194.9 2264.8,1193.7 2265.3,1196.3 2265.8,1197.3 2266.4,1198.5 2266.9,1200.9 2267.5,1201.6 2268.0,1201.8 2268.6,1201.1 2269.1,1199.8 2269.7,1198.2 2270.2,1199.0 2270.7,1198.4 2271.3,1198.0 2271.8,1199.5 2272.4,1200.1 2272.9,1203.2 2273.5,1203.3 2274.0,1204.3 2274.6,1205.9 2275.1,1202.5 2275.6,1203.4 2276.2,1201.5 2276.7,1201.6 2277.3,1201.8 2277.8,1201.2 2278.4,1203.2 2278.9,1202.7 2279.5,1203.3 2280.0,1203.5 2280.5,1202.3 2281.1,1201.6 2281.6,1200.7 2282.2,1198.9 2282.7,1198.2 2283.3,1198.2 2283.8,1199.1 2284.4,1200.0 2284.9,1199.7 2285.5,1204.1 2286.0,1201.4 2286.5,1200.5 2287.1,1202.3 2287.6,1201.3 2288.2,1200.6 2288.7,1202.6 2289.3,1201.7 2289.8,1202.1 2290.4,1202.1 2290.9,1200.9 2291.4,1202.4 2292.0,1202.5 2292.5,1202.3 2293.1,1203.4 2293.6,1202.6 2294.2,1201.5 2294.7,1202.9 2295.3,1202.4 2295.8,1199.6"/>
</g>
<g id="axes" stroke="#000" stroke-width="6.7" fill="none" stroke-linecap="butt">
<rect x="389.3" y="67.3" width="1906.5" height="1534.0"/>
<line x1="357.9" y1="1601.3" x2="389.3" y2="1601.3"/>
<line x1="373.2" y1="1345.6" x2="389.3" y2="1345.6"/>
<line x1="357.9" y1="1090.0" x2="389.3" y2="1090.0"/>
<line x1="373.2" y1="834.3" x2="389.3" y2="834.3"/>
<line x1="357.9" y1="578.6" x2="389.3" y2="578.6"/>
<line x1="373.2" y1="323.0" x2="389.3" y2="323.0"/>
<line x1="357.9" y1="67.3" x2="389.3" y2="67.3"/>
<line x1="389.3" y1="1601.3" x2="389.3" y2="1616.5"/>
<line x1="661.7" y1="1601.3" x2="661.7" y2="1631.8"/>
<line x1="934.0" y1="1601.3" x2="934.0" y2="1616.5"/>
<line x1="1206.4" y1="1601.3" x2="1206.4" y2="1631.8"/>
<line x1="1478.7" y1="1601.3" x2="1478.7" y2="1616.5"/>
<line x1="1751.1" y1="1601.3" x2="1751.1" y2="1631.8"/>
<line x1="2023.4" y1="1601.3" x2="2023.4" y2="1616.5"/>
<line x1="2295.8" y1="1601.3" x2="2295.8" y2="1631.8"/>
</g>
<g id="ticklabels" class="tk">
<text x="338.5" y="1632.8" text-anchor="end">0</text>
<text x="338.5" y="1121.5" text-anchor="end">1000</text>
<text x="338.5" y="610.1" text-anchor="end">2000</text>
<text x="338.5" y="98.8" text-anchor="end">3000</text>
<text x="660.5" y="1731.3" text-anchor="middle">20</text>
<text x="1206.4" y="1731.3" text-anchor="middle">40</text>
<text x="1751.1" y="1731.3" text-anchor="middle">60</text>
<text x="2295.8" y="1731.3" text-anchor="middle">80</text>
</g>
<text class="ti" x="1342.3" y="1855.5" text-anchor="middle">Two-Theta (°)</text>
<text class="ti" transform="translate(104.5 797.5) rotate(-90)" text-anchor="middle" letter-spacing="-1.1">Intensity (a.u.)</text>
<g id="legend-left">
<line x1="397" y1="124.3" x2="579" y2="124.3" stroke="#5c5c5c" stroke-width="6.5"/>
<text class="lg" x="596" y="151.6">10%</text>
<line x1="397" y1="232.7" x2="579" y2="232.7" stroke="#ff4040" stroke-width="6.5"/>
<text class="lg" x="596" y="260.0">20%</text>
<line x1="397" y1="341.1" x2="579" y2="341.1" stroke="#0077e1" stroke-width="6.5"/>
<text class="lg" x="596" y="368.4">30%</text>
<line x1="397" y1="449.5" x2="579" y2="449.5" stroke="#00af76" stroke-width="6.5"/>
<text class="lg" x="596" y="476.8">40%</text>
</g>
<g id="legend-right">
<circle cx="1957.3" cy="153.8" r="16.2" fill="#000"/>
<circle cx="1956.1" cy="239.4" r="12.7" fill="none" stroke="#222" stroke-width="4.5"/>
<path fill="#000" fill-rule="evenodd" d="M1929.8 307.3L1984.2 307.3L1957.0 364.8ZM1939.2 311.3L1979.4 311.3L1959.3 353.6Z"/>
<path fill="none" stroke="#111" stroke-width="4.4" stroke-linejoin="miter" d="M1955.9 405.6L1973.2 432.7L1955.9 459.8L1938.6 432.7Z"/>
<text class="ph" x="2001.5" y="167.3">Al</text>
<text class="ph" x="1999.5" y="263.9">Al<tspan class="sb" dy="24.6" dx="-1.6">2</tspan><tspan dy="-24.6" dx="-2.7">O</tspan><tspan class="sb" dy="24.6" dx="1.2">3</tspan></text>
<text class="ph" x="1997.7" y="357.2">Si<tspan class="sb" dy="24.6" dx="0.0">3</tspan><tspan dy="-24.6" dx="0.0">N</tspan><tspan class="sb" dy="24.6" dx="0.5">4</tspan></text>
<text class="p4" x="1998.8" y="457.6">CuAl<tspan class="sb" dy="24.6" dx="0.0">2</tspan></text>
</g>
<g id="markers">
<path fill="#000" fill-rule="evenodd" d="M645.9 787.9L698.9 787.9L672.4 845.4ZM655.3 791.9L694.1 791.9L674.7 833.9Z"/>
<path fill="#000" fill-rule="evenodd" d="M716.6 1003.0L770.1 1003.0L743.4 1060.0ZM726.1 1007.0L765.3 1007.0L745.7 1048.7Z"/>
<path fill="#000" fill-rule="evenodd" d="M816.0 1042.5L869.5 1042.5L842.7 1099.0ZM825.4 1046.5L864.6 1046.5L845.0 1087.8Z"/>
<path fill="#000" fill-rule="evenodd" d="M934.9 894.1L988.4 894.1L961.6 951.1ZM944.3 898.1L983.5 898.1L963.9 939.8Z"/>
<path fill="#000" fill-rule="evenodd" d="M1031.8 959.5L1084.8 959.5L1058.3 1016.5ZM1041.3 963.5L1079.9 963.5L1060.6 1005.1Z"/>
<path fill="#000" fill-rule="evenodd" d="M1059.3 894.1L1112.7 894.1L1086.0 951.1ZM1068.8 898.1L1107.8 898.1L1088.3 939.8Z"/>
<path fill="#000" fill-rule="evenodd" d="M1187.9 1092.4L1238.9 1092.4L1213.4 1149.4ZM1197.3 1096.4L1234.1 1096.4L1215.7 1137.6Z"/>
<path fill="#000" fill-rule="evenodd" d="M1228.1 1022.8L1278.1 1022.8L1253.1 1078.3ZM1237.5 1026.8L1273.3 1026.8L1255.4 1066.5Z"/>
<path fill="#000" fill-rule="evenodd" d="M1278.3 1022.8L1327.3 1022.8L1302.8 1078.3ZM1287.7 1026.8L1322.5 1026.8L1305.1 1066.3Z"/>
<path fill="#000" fill-rule="evenodd" d="M1983.4 1083.9L2036.0 1083.9L2009.7 1139.9ZM1992.8 1087.9L2031.2 1087.9L2012.0 1128.6Z"/>
<path fill="none" stroke="#111" stroke-width="4.0" stroke-linejoin="miter" d="M675.9 866.7L693.4 894.1L675.9 921.5L658.4 894.1Z"/>
<path fill="none" stroke="#111" stroke-width="4.0" stroke-linejoin="miter" d="M914.1 1118.6L931.1 1146.0L914.1 1173.4L897.1 1146.0Z"/>
<path fill="none" stroke="#111" stroke-width="4.0" stroke-linejoin="miter" d="M1149.8 1019.4L1167.0 1046.3L1149.8 1073.2L1132.6 1046.3Z"/>
<path fill="none" stroke="#111" stroke-width="4.0" stroke-linejoin="miter" d="M1257.8 1080.3L1273.8 1106.6L1257.8 1132.8L1241.8 1106.6Z"/>
<path fill="none" stroke="#111" stroke-width="4.0" stroke-linejoin="miter" d="M1278.3 953.9L1295.5 980.4L1278.3 1006.9L1261.1 980.4Z"/>
<path fill="none" stroke="#111" stroke-width="4.0" stroke-linejoin="miter" d="M1420.4 806.3L1437.9 833.7L1420.4 861.1L1402.9 833.7Z"/>
<path fill="none" stroke="#111" stroke-width="4.0" stroke-linejoin="miter" d="M2250.1 938.9L2267.2 966.1L2250.1 993.4L2233.0 966.1Z"/>
<circle cx="815.5" cy="1120.4" r="10.8" fill="none" stroke="#222" stroke-width="4.0"/>
<circle cx="1085.1" cy="980.3" r="10.8" fill="none" stroke="#222" stroke-width="4.0"/>
<circle cx="1153.1" cy="1095.4" r="10.8" fill="none" stroke="#222" stroke-width="4.0"/>
<circle cx="1301.8" cy="1083.4" r="10.8" fill="none" stroke="#222" stroke-width="4.0"/>
<circle cx="1689.7" cy="1132.7" r="10.8" fill="none" stroke="#222" stroke-width="4.0"/>
<circle cx="1166.9" cy="432.0" r="15.2" fill="#000"/>
<circle cx="1333.7" cy="700.5" r="15.2" fill="#000"/>
<circle cx="1891.2" cy="1087.8" r="15.2" fill="#000"/>
<circle cx="2247.5" cy="1023.4" r="15.2" fill="#000"/>
</g>
</svg></body></html>
